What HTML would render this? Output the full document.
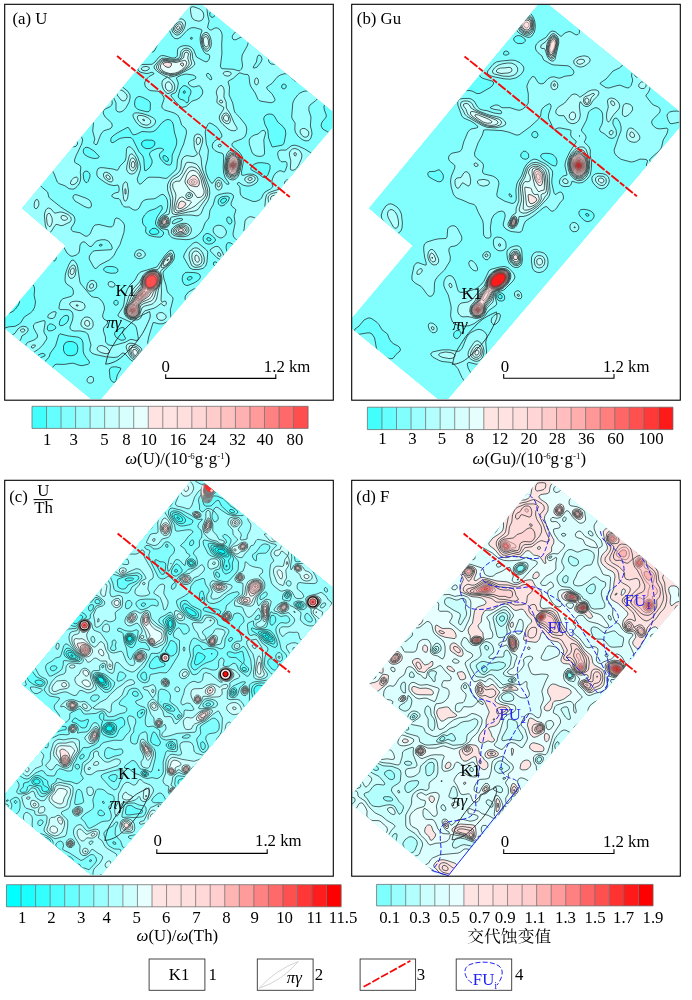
<!DOCTYPE html><html><head><meta charset="utf-8"><title>fig</title><style>html,body{margin:0;padding:0;background:#fff}svg{display:block}text{font-family:"Liberation Serif","Noto Serif CJK SC",serif;font-size:16px}</style></head><body>
<svg width="692" height="1000" viewBox="0 0 692 1000">
<rect width="692" height="1000" fill="#fff"/>
<defs><clipPath id="cf"><rect x="5.3" y="4.9" width="326.8" height="393.9"/></clipPath>
<clipPath id="cp" clip-path="url(#cf)"><polygon points="195.4,-0.4 340.4,118.1 96.9,403.7 -0.15,324.4 65.9,245.8 22.2,208.2"/></clipPath></defs>
<g transform="translate(0,0)">
<g clip-path="url(#cp)"><g transform="scale(0.1)" stroke="#263232" stroke-width="8" stroke-linejoin="round">
<rect x="-200" y="-200" width="4000" height="4500" fill="#42fffe" stroke="none"/>
<path fill="#64fffe" fill-rule="evenodd" d="M-120-120l2920 0-7 30-23 43-6 27 4 20 12 16 30 8 70-21 100-63 28-30 9-30 493 0 0 4280 0 30-63 0-7-12-20-10-20 7-8 15-1767 0-2-70-13-19-20-6-20 7-40 37-20 8-80-23-30 0-30 6-20 10-9 10-8 40-1453 0zM150 2990l-30 17-69 23-22 20-11 30 3 20 19 21 25 9 35-2 30-14 25-24 29-40 12-30-4-30-12-10zM260 659l-11 21 1 30 10 14 10 5 20-7 11-22-3-30-18-17zM630 515l-7 15 7 12 20 8 20-10 1-10-11-14-20-5zM800 359l-15 11-6 30 11 90 10 20 10 4 10-5 10-22 0-79-10-41-10-8zM1190 4029l-20 12-12 19 1 20 10 20 31 33 20 11 20 1 19-5 21-12 12-18-1-20-11-20-20-20-30-19-20-5zM1460 1400l-20 5-20 15-4 10 1 20 14 20 19 12 20 5 30-3 20-8 19-16 10-20-2-20-8-10-19-8zM1640 1556l-10 5 0 22 20 25 20 7 10-4 5-11-5-20-20-20zM1840 908l-9 12 3 10 6 4 10-3 4-11-4-10zM1890 2767l-17 13-1 10 8 11 21-1 14-10 7-10-2-9-10-5zM2070 2380l-2 10 3 10 18 10 11-1 11-9-1-10-10-10-20-5zM2220 1989l-11 11-3 20 14 13 20-5 21-18 5-20-16-9zM2700 77l-100 40-70-1-16 4-6 10 2 10 10 8 74 2 96 36 20 2 20-7 22-31 8-30-1-20-9-18-10-6zM670 3419l-20 12-15 29 0 40 11 30 14 15 20 10 30 3 30-6 21-12 12-20 6-40-7-30-16-20-26-12-30-4zM1520 2286l-24 24 2 20 14 10 18 5 40-4 16-11 4-10-10-20-30-18zM2740 3759l-11 11-3 10 5 20 19 17 20-11 18-26 0-20-18-7z"/>
<path fill="#80fffe" fill-rule="evenodd" d="M-21-120l428 0 9 20 24 6 60-13 17-13 173 0-10 18-10 7-90 25-6 10 1 10 35 68 23 62 17 23 40 19 70 8 20-1 16-9 18-40 26-20 100-11 20-8 13-11 11-20 2-20-13-60 0-50 1457 0 5 40 15 40-1 10-77 70-7 30 10 50 57 90 18 18 30 8 70 2 20 10 30 33 20 11 60-25 60-13 30-17 19-27 36-70 33-40 39-30 113-69 20-18 30-53 13-50 437 0 0 896-18 4-12 9-6 21 6 14 30 2 0 265-80 12-10-3-10-88-10-20-20-15-30 4-80 39-22 20-9 30 5 30 19 50-1 20-41 50-10 30 4 20 13 20 51 30 41 12 70 5 80 33 40 6 0 711-30 14-14 19-5 20 3 20 10 20 16 20 20 11 0 139-40-4-30-16-6-10-15-80-15-20-14-7-80 2-70-6-70 5-60-6-60 1-100-16-30 4-20 9-30 31-9 33 16 60 41 80 1 20-13 50 0 20 4 10 50 24 20 20 21 36 5 20-3 20-29 50-34 21-30 2-80-15-30 8-19 24-14 40 11 20 32 29 26 31 34 62 20 13 10-3 6-12-2-40 16-39 30-24 18 3 7 20-16 80 6 20 35 21 40 7 30-18 27-40 29-120 19-40 19-20 53-40 12-20 1-20-25-80 5-20 12-10 28-11 30-5 30 3 20 7 64 46 56 69 30 14 30 4 0 689-30 6-34 18-39 50-17 15-60 13-60 52-50 14-40 17-30 7-40-2-50-18-30-5-40 4-50 13-60 35-70 32-47 53-23 18-99 32-13 10-13 20-4 30 6 20 19 20 44 29 22 31 12 40 1 60 5 10 30 14 30 1 20-13 40-63 60-47 13-32 17-80 20-9 70 6 30-2 30-10 20-16 11-29-10-30-21-20-42-20-5-10 4-20 13-15 20-9 30 2 110 30 20 8 50 33 20 2 90-43 60-64 30-11 30-4 0 569-60-16-20-1-70 24-23 15-16 20-13 30-7 40-899 0-12-110-10-17-20 6-75 51-25 32-14 38-188 0-2-70-14-30-33-50-19-23-20-14-50-11-20 7-1 11 44 90 4 30-2 60-281 0 10-90-10-30-24-28-30-16-40-8-110 20-40 1-30-6-34-23-39-40-7-20 3-50-3-10-20-12-40-4-40 4-20 8-137 154-6 20 6 30 51 60 12 20 4 20-494 0-6-11-10-2-11 13-306 0-5-20-8-11-10-4-20 4-10 8-10 23-350 0 0-1038 70 6 39 22 21 30 9 50 11 16 20 3 40-11 60-5 44-23 18-20 30-50 62-40 22-20 21-40 8-50-14-70 5-50-3-30-11-20-12-8-30-4-66 12-104 32-30-3-60-24-20-1-30 9-30 17-16 20 0 20 16 50-5 30-7 10-18 12-40 7 0-652 30-12 14-15 9-20 28-110 3-100-4-25-9-15-39-30-3-10 7-50-6-26-10-11-20-7 0-689 50-5 50-16 35-16 11-10 3-10-5-20-21-40-13-20-20-19-30-3-60 14 0-1122 40-14 34-26 18-30zM210 516l-20 14-8 20 2 20 20 60-7 70 1 30 12 29 27 31 10 20 16 70 30 90 1 30-9 30-18 20-81 40-26 30-16 80 1 30 13 60-3 20-10 10-15 2-40-27-10-2-10 7-4 10-4 40 6 20 12 16 60 37 40 41 25 46 21 70 74 44 40 35 20 14 20 5 30-12 79-96 9-30-30-70 2-63-10-23-90-47-70 4-14-11 10-110 29-80-1-60 8-50 0-50 38-78 10-32 0-90 9-50-4-10-45-41-30-45-37-34 3-60-6-16-10-8-20-4zM630 258l-40 12-30 18-23 32-17 62-9 18-21 14-50 15-30 16-60 55-8 20 6 10 21 10 61 3 40 11 50 36 60 34 100 36 30-4 59-36 24 0 27 19 9 21 0 20-16 50 3 10 44 32 40 38 10-2 9-8 9-20 4-100-9-30-36-70-9-70-18-80-5-90-13-20-12-8-60-16-70-35-30-7zM1010 2440l-18 10 6 10 12 1 14-11zM1060 2669l-18 11-5 10 0 10 13 15 20 9 40 9 48-3 16-10 6-10-4-20-9-10-21-10-26-5-30-1zM1190 89l-16 11-12 20-2 20 4 10 11 10 15 4 32-4 26-10 11-10-2-20-16-20-16-10-15-4zM1380 967l-20 14-10 23-5 36 7 30 22 20 21 10 75 18 20-3 12-15 2-60-4-20-21-20-49-25-30-10zM1540 404l-13 16-20 80 8 20 18 0 17-21 27-59 1-10-16-20zM1660 1199l-40 27-60 73-30 17-30 4-80-5-60 29-20 4-10-2-10-9-30-55-10-8-10 2-99 54-42 30-18 20-4 30 4 10 9 7 20-5 40-28 30-13 50-7 50 2 20 21 60 120 38 43 10 30 8 110 4 9 20-10 32-29 19-40-1-30-24-50 1-20 19-20 44-21 30-7 20 0 22 8 6 10-28 22-14 18-2 20 12 30 34 39 30 19 30 3 12-11 8-30 2-60 39-90 6-30 0-30-23-80-10-70-11-30-23-21-20-4zM1830 859l-30 32-19 69 8 20 11 11 40 12 20 22 10 4 10-7 6-12 2-40 18-30 4-30-10-20-30-24-20-10zM1910 374l-6 6 1 10 15 2 4-12-4-7zM2060 2337l-17 13-11 20-2 20 6 20 14 18 20 11 20 3 30-6 30-22 5-14-3-10-16-20-36-27-20-8zM2110 110l-13 20 3 27 10 12 10 5 16-4 16-20 0-30-12-14-10-4zM2220 1967l-22 13-14 20-3 20 4 20 15 16 10 3 20-2 20-11 33-36 11-30-4-10-20-9zM2580 1628l-30 10-19 12-19 20-4 20 6 10 66 35 50 38 20 3 10-5 20-24 20-57 0-36-10-13-20-7-50-7zM2690 1140l-20 5-20 13-8 12-5 20 11 50 30 60 8 80 34 87 10 2 60-11 36-8 15-20 17-90-4-40-24-35-52-45-38-64-20-13zM2820 449l-15 11-3 20 8 10 20 3 10-8 4-15-4-12-10-8zM3450 848l-30 12-34 20-4 10 3 10 9 10 16 7 43-7 23-20 1-10-7-23-10-9zM2780 2970l-40 19-64 41-16 24-1 16 5 10 16 13 20 3 20-8 30-28 20-11 50 4 9 7 0 10-32 50-3 20 6 20 20 8 50-1 30 15 10 11 6 17-5 50 4 20 25 7 20-6 14-11 12-20 5-20-9-50 11-70-5-30-8-12-20-12-100-20-6-6-14-48-11-12-19-4zM400 1126l-20 14-11 20-6 40 4 40 13 18 10 3 41-11 49-30 6-10 2-20-13-30-25-25-30-11zM500 3239l-10 5-13 16-5 30 8 14 10 5 30-2 31-17 7-10 0-10-20-20-21-10zM540 2550l-10 10-6 30 6 15 14 5 6-2 10-16 2-22-10-20zM640 1224l-6 6 6 20 20 13 18-3 2-10-10-16-20-11zM850 1476l-13 14-5 20 4 20 15 20 29 17 40 14 30 4 30-4 13-11-5-10-48-50-50-31-20-6zM1120 3670l-17 10-10 20 7 80 10 24 20 18 20 0 10-17 13-55 35-60-1-10-47-12zM1150 3004l-12 16 1 20 11 11 20 0 11-11-1-27-10-10zM1210 3277l-50 30-10 13-5 20 7 20 16 20 42 22 33-2 10-10 1-10-28-50-1-10 18-30-1-10-12-5zM1600 2058l-50 31-50 16-20 11-35 34-21 40 2 40 11 20 20 20 3 10-5 30 6 20 29 23 50 14 60 5 20-9 15-23 0-20-61-50-19-30 2-30 14-40 52-80-3-28-10-6zM1700 3279l-28 11-21 20-24 40-2 20 5 10 20 11 10-1 40-28 30 1 10 7 13 20 6 40 1 10 10 13 30-12 25-21 13-30-9-40-16-30-23-20-58-20zM1850 2728l-20 22-8 30 2 30 16 32 20 12 20 0 70-29 36-25 15-20 3-20-13-20-21-9-30-5-70-3zM2140 2619l-7 11 3 20 14 9 20-4 7-5 2-10-6-10-13-10zM2280 2169l-12 11 0 30 22 30 15 0 15-20-3-20-17-26zM2840 839l-20 10-5 21 5 11 20 9 18-10 5-20-4-10zM640 3159l-32 31-10 20-6 30 8 16 20 0 17-6 33-25 13-25 4-20-5-20-12-8zM850 1713l-10 8-8 19 5 50 13 27 10 8 10 1 10-10 19-46 1-30-20-25-20-4zM1720 3537l-20 26-20 42-10 35 0 30 10 22 30 26 20 7 20-5 54-60 9-20 1-20-13-30-31-33-30-23-10-1zM2280 2428l-10 7-7 15-2 30 9 33 33 47 2 20-11 20-46 50-11 20-5 40 2 100-8 20-28 40-6 40 7 60 21 28 20 7 20-3 15-12 12-20 7-40-5-70 90-110 21-60 42-60 6-30-16-30-49-40-23-50-20-25-30-24-20-5zM600 3338l-12 12-33 110-51 70-14 41-90 100-10 7-10-1-10-7-9-20 2-30 9-20 18-17 58-23 4-10-6-10-16-6-20 3-60 30-80 4-20 9-8 10-16 50-1 30 4 20 19 30 65 60 17 10 20 1 70-20 80-59 40-57 20-13 80 2 90-13 60 21 30 5 60-14 16-13-6-20-30-36-21-34-7-30-2-80-10-30-10-14-30-15-100-12zM2230 3840l-18 20-10 30 4 40 11 30 13-1 50-26 20-2 70 38 20-3 23-26 9-30-2-11-10-14-30-9-60 3-20-10-40-34-10-2zM2310 3385l-10 8-8 17 1 20 7 16 10 12 20 11 20-2 12-7 26-30-4-20-24-18-20-8zM2300 3596l-30 34-7 20 3 20 14 16 10-1 10-9 10-25 1-51zM2599-120l100 0-9 30-30 44-30 25-45 21-25 3-18-3-43-20-9-10 8-10 62-8 20-11 12-21zM3390 1130l10 1 0 13-10 26-10 9-10 0-10-9 0-10 10-15zM3440 1230l10-5 20 1 18 4 12 10-20 10-20 1-20-11zM360 1460l10-6 20-2 17 8 15 20 3 20-4 30-10 30-11 16-20 7-20-7-15-16-9-20 0-40 8-20zM3098 2300l12-1 15 11 4 10-9 12-20 3-10-7-2-18zM3356 2320l25 0 32 10 10 10 1 20-12 20-19 10-53 8-50-11-24-17-4-10 8-10 18-10z"/>
<path fill="#9afffe" fill-rule="evenodd" d="M87-120l200 0 11 90 11 30 9 10 22 7 60-4 35 7 32 20 36 40 8 20-3 30-74 150-94 72-10 1-10-12-11-81-13-20-16-10-70-5-50-17-30-4-31 6-19 9-28 31-12 7-20 3-20-13-7-27-1-30 25-80 27-20 69-10 22-10 7-10 2-10-9-20-41-40-11-20-3-30zM1044-120l764 0 8 40 15 20 19 7 70 4 70 29 12 10 68 101 6 59 15 60-15 60 2 10 22 19 10 2 40-21 20-2 30 19 18 33 4 30-5 80 2 100-15 120 6 19 10 8 110 5 60 17 10-3 15-16 11-30-9-70 5-40 50-90 10-30 1-20-11-20-42-21-20 1-50 27-20 1-10-6-7-12 0-20 17-27 70-46 30-13 50-8 40 1 20 12 8 11 4 30-14 40 1 20 61 38 30 34 10 6 30 4 20 16 7 22 0 30-22 70 5 21 20 19 70 7 70 47 20 3 111-67 12-20 9-40 8-11 20-11 30-4 20 4 70 30 20 15 14 27-11 60 1 30 23 80 14 20 71 70 15 30 1 20-8 20-20 16-20 4-40-3-20 6-38 37-52 40-10 17-2 33 22 70-6 90 13 50 3 30-11 40-9 14-20 14-30 0-30-13-41-35-26-40-5-30 3-60-27-40-7-20 10-130 4-20 15-30 31-40 23-21 40-16 90-12 17-11 27-80-2-10-8-10-54-36-30-7-20 12-50 51-20 9-20 0-30-15-50-52-20-13-20-3-50 15-30 22-50 61-53 36 4 20 51 50 27 50 1 11-10 16-30 11-100-16-20-8-10-10-28-64-47-70-8-30-7-68-10-15-40-5-40-13-10 2-60 54-45 25-4 10 14 50-4 80 36 80 16 80 11 20 36 36 60 74 11 20 7 30-7 50-15 30-30 20-78 30-13 10-7 20 14 20 59 50 22 30 15 30 5 40-18 100 2 30 13 4 50-13 50 1 36 18 14 30-3 20-16 20-31 19-30 10-30 2-30-7-20-8-30-23-14 7-4 10 20 20 8 18 2 52 6 20 12 16 23 14 87 35 30-1 40-17 15-17 19-40 16-20 54-30 23-20 1-10-9-30 2-30 15-40 21-30 33-21 20-1 30 13 10-7 20-54 0-30-10-14-40 2-10-3-15-15-13-30-5-30 3-20 10-13 20-6 50 0 50-41 20-7 20-1 40 12 57 26 63 39 44-19 76-22 60-50 30-14 40 0 80 19 70 2 0 188-30 4-28 13-15 20-5 20 5 30 15 20 28 15 30 2 0 111-20-10-50-39-20-2-10 4-13 19 2 20 11 22 52 48 14 20-3 30-39 60-34 27-60 26-40 23-20 5-20-9-50-46-60-28-20-6-60 0-60-9-30 2-20 13-37 72-125 110-22 30-15 30-10 40 3 30 52 70 14 40-2 60-9 40-19 18-60 25-50 39-30 7-55-19-35-28-15-32-23-90-22-34-30-17-80-15-30-18-22-26-7-20 0-20 20-100-10-70 18-60-6-10-33-26-9-14 0-20 25-60-5-20-21-15-30-5-40 3-50 13-28 14-11 20-20 70-31 51-11 79-39 50-22 60-18 30-30 32-40 27-40 14-40 4-100-8-40-13-28-26-12-52-60-11-20-11-15-16-9-30 11-40 23-31 51-39 13-40 4-40-5-40-13-28-20-23-10-5-20 3-49 33-21 8-70 5-30 10-20 17-30 61-20 16-20 5-20-6-40-27-30 2-20-5-16-16-24-52-10-11-40-4-25-13-7-10 2-10 11-10 29-14 20-2 10-8 1-36-5-20-6-10-40 6-50-10-40-22-61-44-17-20-4-20 2-30 10-23 20-10 30 0 100 13 40 13 10-5 20-38 50-50 10-33 5-87 13-20 12-3 20 7 30 34 36 62 22 60 7 40-2 30-31 90 7 30 11 16 10 5 10-2 60-58 20-9 100 1 60 11 20-2 78-72 15-20 6-20 5-70 36-100 27-60 26-100 2-20-5-26-10-14-34-30-21-70-20-30-35-21-93-29-25-20-4-10 2-20 21-60-3-20-18-25-20-21-20-12-70-5-20-7-25-20-14-20-5-30 14-32 30-33 49-25-2-10-17-8-40 12-20 1-50-11-20-12-9-12-2-10 5-20 16-16 20-9 100-2 30-23 40-49 20-14 30-1 80 24 22 0 18-6 13-14 2-60 9-20 26-16 30-8 40 2 20 6 20 14 17 22 28 70 85 47 20 0 10-8 12-19 6-30-8-14-30-8-20-17-25-51-10-40-4-40 4-40 14-40 0-10-9-6-60-17-30 0-20 6-30 21-60 65-30 18-30-1-30-27-23-49-5-30 17-100 33-90-2-25-14-15-54-10-42 1-20 9-30 25-20 7-20-12-40-44-20-4-120 8-90 31-80 0-30 15-18 24-11 30 4 30 15 22 20 16 20 6 40-5 20 3 16 8 7 10 0 20-7 10-54 30-5 10 1 20 12 23 20 20 30 15 51 12 17 10 7 10 4 20-5 20-36 60-5 20 7 13 31 27 0 10-45 90-16 19-20 3-90-8-30 2-17 14-23 62-10 5-20-6-20-18-12-23-2-40 8-50-8-30-46-49-74-91-11-20-4-20 7-70-11-90 5-50 15-40 14-20 19-14 61-26 19-19 11-21 11-50zM2580 555l-7 15-9 50-32 50 3 10 5 1 30-9 40-52 11-30-12-30-19-9zM3120 1610l-51 40-49 32-85 68-5 10 4 10 25 20 61 39 30 11 30-5 50-33 20-7 60 10 40-7 90-31 14-17 1-20-20-30-25-12-20 0-60 12-20-3-18-17-32-59-20-15zM1770 2188l-30 12-16 20-2 10 8 10 30-11 65-29 0-10-15-6zM1860 740l-43 10-43 20-10 10 19 50-8 50-15 40-10 9-31 11-9 10 0 10 50 63 40 39 20 12 40-9 40-34 20-20 50-16 30-20 25-35 3-30-18-37-20-16-50 13-20-4-27-16-10-20 5-10 22-15 39-15 10-10-1-10-8-10-20-10zM2070 736l-6 14 6 15 20 22 20 13 9-10-10-30-19-23-10-4zM2100 1230l-10 2-10 10-20 44-8 34 11 120 18 50 3 20-9 80-20 80 5 54 20 55 30 48 10 6 10-5 30-42 20-12 10-1 31 17 39 47 20 7 10-4-1-10-36-50-17-50-4-60 5-100-6-30-11-8-40-10-30-16-24-26-4-20 4-20 11-20 23-20 50-23 8-7 1-20-19-38-30-39-40-29zM2025-120l121 0-9 30-27 31-40 24-20 6-20-2-9-9-2-10zM3120-110l0-10 390 0 0 167-50-29-20-1-20 21-6 32 11 30 25 15 20-2 40-19 0 502-60-9-30-14-67-133-23-66-20-41-20-26-30-16-20 5-10 8-30 57-10 11-50 14-50 20-10 0-20-10-48-56-22-14-30 1-40 22-30 6-40-9-34-26-1-30 35-83 20-29 53-58 47-32 102-28 49-20 14-10 6-20-22-60zM1569 320l21 0 26 20 7 20-3 12-9 8-21-1-24-19-8-20 1-10zM-91 370l51 0 80 24 60-16 20 0 50 22 17 20-4 10-43 37-15 33-4 40 10 90-5 30-16 40-20 38-32 42-60 60-33 90-30 40-25 50-12 10-18 6 0-664zM475 650l25-9 20 3 8 6 6 20-14 25-10 6-20 2-20-13-7-20zM489 780l21-4 11 4 39 48 50 39 17 33-2 30-35 96-20 18-20 2-40-6-30-12-24-18-16-30 7-30 42-40 11-20 0-20-28-50 1-20zM1164 850l26-1 30 17 60 49 20 35 1 30-11 43-30 54-30 32-20 9-20 3-20-8-10-13 0-71-36-79-9-40 15-34zM878 880l12-6 20 2 40 33 50-9 20 3 20 13 48 44 30 40 5 30-5 20-18 17-50 24-11 9-7 20 3 20 17 30 65 60 6 30-12 20-11 8-60 19-20 18-15 25-35 92-10 4-10-2-13-14 11-40-21-80 7-70-2-20-71-110-12-30 4-50 26-80-9-50zM123 920l17-6 20 1 20 9 20 17 13 19 5 20-6 20-12 11-20 7-30 1-20-7-10-10-11-22-3-30 7-20zM1347 1130l33-2 50 9 60 20 45 23 18 20 3 20-9 20-19 20-28 15-40 4-40-10-30-16-30-33-28-50-2-27zM2615 1310l15-6 10 1 10 8 6 17-18 70 8 120-2 20-5 10-19 12-30 2-30-6-29-18-12-20-26-80-1-40 10-20 18-16 24-14 36-10zM762 1340l18 1 21 9 15 20 11 30-10 40-58 120-14 40 2 20 8 10 39 20 15 20-6 50 4 60-4 30-13 30-20 26-20 18-20 8-40-5-40-29-30-11-30-11-17-16-31-80-34-60 2-30 10-20 20-21 50-36 9-13-4-30-41-50-8-30 14-23 40-29 120-49zM-11 1510l21 0 75 20 20 10 9 10 5 30-26 80-2 20 12 30 28 30 55 30 94 29 40 1 40-22 20 1 10 7 10 21 0 43 16 20 60 50 12 50 7 10 112 90 123 80 14 20 6 30-7 30-32 50 2 20 17 15 70 13 50 32 20 3 30-23 31-70 19-20 40-5 100 24 30-1 16-18 14-60 10-11 30 8 38 33 12 20 6 20-6 62-40 123-39 65-19 40-25 30-25 20-92 48-40 37-10-1-10-7-48-87 2-30 21-30 15-17 20-6 160-10 10-7 3-10-9-30-30-40-34-13-40 1-40 10-18 12-32 40-10 6-20-5-40-40-20-3-20 14-10 18-6 60-6 20-28 22-40 12-20-8-30-26-50-92-20-22-20-11-20-1-10 4-40 30-20 8-20-1-40-17-30 2-22 20-7 30 5 30 19 50-9 70-10 30-41 80-35 29-40 14-140 24-30-9-22-28-9-30 2-20 21-60-27-110 4-60 14-80-13-19-41-21-12-20-5-30 8-35 37-65 6-20-1-100 10-70 6-90 23-100-1-40-23-50-17-20-20-12-40-3-60 15-50-3 0-119 30-5 20-12 16-21 24-46zM230 2329l-4 21 12 20 22 11 20-5 10-11 3-15-13-20-30-8zM207 1640l13-6 20-1 40 15 33 32-1 20-12 7-20 0-50-20-24-17-6-10 0-10zM741 1950l9-4 20 3 90 33 33 18 15 20 7 30-5 20-19 10-21-4-30-13-90-53-21-30 3-20zM2153 2260l27-8 30 3 20 10 20 19 13 26 1 20-9 20-20 20-15 8-20 1-30-16-24-23-12-20-3-20 4-20zM1933 2430l27-9 20 8 85 71 13 20-8 100-13 40-27 24-50 12-50-1-32-15-63-110 9-30 29-50zM2142 2470l18-6 20 1 20 17 24 38 11 30-1 30-14 14-20 1-30-17-67-68-1-10 8-10zM1379 2500l21-4 20 6 20 14 10 14 4 20-5 10-24 20-25 7-20-1-28-16-7-20 4-20 11-18zM1690 2510l20-8 10 2 10 8 15 38-2 30-7 20-20 30-78 80-9 20 11 60 20 60 11 60 11 20 43 40 6 20-28 110 6 80-4 10-19 20-56 27-40 2-50-14-10 2-43 143-10 50 5 30 18 24 20 12 51 14 17 20 2 40-18 70-6 50-2 40 6 28 20 15 40 6 25 11 18 20 18 40 2 20-8 20-45 36-16 34-14 8-30-2-100-47-8-19 1-20 24-60-17-17-20-4-20 1-80 28-40 6-50-8-20-12-11-14-2-30 6-10 17-13 50-12 120-10 31-15 15-20 4-30-11-40-19-25-20 1-50 27-30 4-20-4-23-13-57-62-20-9-10 4-40 35-40 7-80-7-100-21-30-10-20-13-10-14-1-20 11-40-31-110-27-20-52-11-60 1-20-6-18-14-3-20 26-70 5-30-1-30-9-21-20-16-20-6-80-2-7-5-4-10 9-50 15-30 17-13 80-23 18-14 5-10 1-30-10-30-57-40-13-20-4-20 3-50 10-40 24-60 23-40 10-9 20 2 28 37 9 30 22 150 10 20 101 121 20 10 50 6 30 24 21 29 11 30 3 30-18 60 0 20 13 22 30 16 7 12-6 20-28 30-10 20 2 20 19 60 2 50 14 18 19 12 41 7 120-33 50-28 20-1 40 10 21-5 2-20-16-90-6-20-13-20-44-30-110-50-13-10-2-10 51-80 9-30 10-80 26-70 25-40 50-50 32-60 28-22 158-48 84-120zM3269 2750l11-5 20 0 18 15 20 80 12 19 10 6 50 11 100-4 0 245-30-3-60-22-20 5-20 21-30 34-20 4-30-7-25-19-45-61-60-31-20-36-2-32 12-39 45-91 45-71zM899 2810l21-7 20 4 16 13 11 20 0 30-14 20-23 17-30 6-20-7-7-6-7-20 8-40 13-20zM2406 2810l24-1 40 8 50 19 20 14 10 20 2 60 6 20 56 60 2 20-10 70-12 20-30 30-10 20-10 20-14 9-30-6-20-17-36-66-30-90-35-60-13-50 0-50 14-34zM1089 2820l21-5 20 7 20 18-1 20-19 11-30-3-18-18 0-20zM1937 2890l43-6 19 6 7 10 0 20-21 100-1 20 8 20 18 15 70 27 40 25 48 43 25 40 4 20-1 50 7 40-7 30-14 20-22 13-30 3-30-6-70-15-80-4-30-13-22-28-28-78-31-52 3-20 38-70 8-30-8-30-30-50 3-30 32-40zM2237 3090l13-5 30 5 30 16 29 24 24 30 8 20 0 20-11 9-20 0-40-13-42-26-17-20-10-20-3-20zM3148 3110l12-7 10 2 18 25-10 110-60 140-18 22-20 7-20-3-20-19-7-27 4-40 33-111 20-28 31-31zM527 3120l23-4 9 4 3 10-15 40-10 10-17 6-36-6-7-10 6-20 9-10zM2632 3140l18-4 20 4 25 20 7 20-1 20-4 20-19 40 2 10 40 42 20 28 28 70 33 50 3 20-4 10-20 12-70 8-31 10-19 18-17 32-16 20-36 20-76 30-14 10-13 20-8 24-20 31-30 14-10-3-10-15-7-41 5-70 26-80 27-40 57-50 13-30-4-20-11-20-64-60-5-10 2-10 21-7 50-5 30-15 63-103zM-120 3210l0-4 10 1 20 11 4 12-4 11-10 9-20 6zM420 3210l20-4 10 4 1 20-13 80 5 20 25 40 0 20-40 60-41 40-47 32-20 6-20-2-20-10-17-26-6-30 4-20 19-17 60-23 28-20 6-10 1-20-39-70-2-30 22-20zM205 3270l25-8 30 5 17 13 4 10-1 20-20 24-42 26-8 30-13 20-73 40-14 2-20-4-47-38 5-10 25-20 77-47 29-43zM-17 3400l30 0 17 10-18 80-1 110 12 40 45 60-8 12-70 12-31 16-38 40-8 20-1 20 8 17 10 8 90 25 30 18 51 42 11 20 3 20-5 86 40 35 12 29-4 70-255 0-6-20-17-16 0-725 30-5zM1706 3400l4-4 10 4 2 10-12 6-5-6zM1916 3470l14-5 20 2 19 13 8 20-8 40-29 46-10 6-20-6-20-25-9-21-1-20 7-20 13-18zM3489 3580l21-6 0 440-140-31-30-8-7-5-1-10 12-40 46-64 15-36-1-40-31-70 0-20 18-30zM3163 3750l37-7 30 5 70 34 10 10 6 18-6 22-20 13-20 1-30-8-20 2-20 17-20 31-20 29-10 5-20-2-20-18-35-42-12-20-5-20 7-20 11-10zM889 3770l21-7 17 7 7 10 1 30-5 10-16 10-26 0-18-16 2-24zM2068 3770l8 0 4 11-20 3-5-4zM536 3780l14-6 20 5 64 41 22 20 1 20-16 30-36 40-12 20-11 50-24 60-27 130-71 0-87 0 7-70-4-20-28-60-1-20 12-30zM1979 3800l41-9 10 1 7 8-17 51-20 23-20 3-20-6-19-11-5-10 0-10 14-20zM2633 3840l27 0 13 10 10 20-3 30-10 11-21 9-29 0-18-10-6-10 0-20 10-20zM2908 4000l16 0 10 10 4 60 22 31 60 31 100 27 14 11 10 20-266 0-8-21-20-7-15 8-10 20-105 0-225 0 2-30 8-20 56-60 16-60 13-5 10 2 60 30 20 5 120 10 41-12zM1739 4010l11-6 10 1 20 12 54 43 23 30 7 20-1 30-13 50-10 0-132 0 17-80 6-80zM795 4100l15-7 20-1 110 23 23 15 23 30 10 30-16 0-207 0 4-60z"/>
<path fill="#b2fffe" fill-rule="evenodd" d="M1139-120l616 0-4 40-11 22-30 17-40 1-50-1-50 19-30-35-30-6-30 7-50 21-70 10-80 24-30 0-30-12-61-47-14-20zM3169-120l341 0 0 81-30-11-80-46-60-12-30 8-60 41-20 5-20-2-20-11-10-11zM1912 70l18-3 40 12 30 13 23 18 11 20 4 30-4 20-14 21-20 9-20 1-30-8-20-13-13-20-9-40-4-40zM78 130l20 0 3 10-11 6-10-3zM1792 190l28-1 20 11 14 20 1 20-10 40-16 30-19 23-30 18-20-2-26-19-12-20-5-30 5-20 18-29 30-30zM3478 220l32-8 0 308-33-10-27-29-13-31-18-70-39-67-9-33 5-20 14-13zM979 230l11-4 20 5 20 14 13 15 3 30-21 40-15 13-10 2-20-12-10-17-9-46 8-30zM2494 290l26 6 7 14-11 20-26 10-20-4-10-6-5-10 2-10 9-10zM2876 290l14 0 5 10 0 10-15 10-14-10 1-10zM2041 330l19-7 20 8 19 29 12 40 3 40-6 30-9 20-19 20-20 2-16-12-14-23-12-37-5-40 3-30 8-20zM-120 470l21 0 16 10-1 10-14 20-22 12zM1831 490l19-7 20-1 20 6 20 16 12 26 6 60 20 40-3 20-34 30-121 66-50 18-50 7-7 9 27 16 28 34 10 30-2 30-9 20-37 20-20 6-20-9-28-37-10-30-3-30 5-20 16-20 38-20-18-4-40-21-53-35-26-30 2-20 47-55 30-22 30-1 90 12 30-4 20-10 10-16 10-51zM1428 670l32-6 26 6 8 10-3 10-10 10-31 9-30-8-7-11 2-10zM2969 690l31 4 10 7 13 19 2 20-5 20-20 24-20 4-10-2-18-16-10-20-3-20 5-20 7-10zM2243 720l27-6 32 6 10 10 0 10-12 14-20 8-30-6-17-16-1-10zM2563 780l8 0 13 20-1 30-13 19-10-1-9-8-6-20 5-29zM2197 860l13-5 10 2 17 23 5 30-3 60 22 50 3 60 39 60 37 88 31 52-1 13-10 10-20 5-30-3-30-16-50-44-22-25-14-30-1-20 6-20 33-50 6-20-3-10-52-30-15-20 6-50-11-40 2-20 14-30zM3225 890l15-1 10 8 6 13-4 10-12 0-10-9zM1192 900l18 1 20 8 34 31 7 20-1 17-10 19-10 9-20 5-20-10-38-50-6-30 6-10zM969 950l21-7 30 2 20 9 20 18 12 18 3 20-12 20-22 10-61 6-20-5-16-11-8-20 2-20 9-20zM1377 1160l13-6 30 1 30 9 32 16 18 16 8 14-3 20-9 10-16 9-20 3-41-12-19-15-19-25-8-20zM3013 1290l17-6 20 2 30 21 7 13 1 20-8 20-10 8-10 4-20-2-25-20-15-30 3-20zM1952 1350l18-10 20 2 20 13 16 25 0 40-36 110 21 50 7 80 9 40 67 180 4 50-8 50-13 30-39 60-25 60-17 20-26 9-60-9-80 0-111 20-9 3-3 7-11 60-16 26-30 13-30-3-22-16-10-30 7-30 21-30 24-16 40-8 10-6 3-10 12-80 1-40-6-37-24-73-1-50 12-30 23-37 20-18 40-25 27-30 12-30 6-70 8-20 17-23 30-12 50 10 20-1 25-14 7-10 0-10-22-36-8-34-3-70 3-20zM716 1400l14-5 20 0 21 15 5 30-16 23-30 6-20-7-13-12-5-10 3-20zM2182 1450l18-9 10 5 4 4-4 14-10 6-10 0-9-10zM2924 1490l26-5 30 10 20 15 17 30 2 20-6 30-27 60-19 30-17 15-20 8-20-3-7-10 5-80-14-60 0-20 8-20zM2288 1510l32-9 40 14 34 35 18 40 4 40-12 70-20 60-24 28-30 12-30-5-28-25-20-40-7-60 7-70 15-60zM3484 1530l26-7 0 39-34-12-3-10zM1307 1540l13-1 10 6 20 22 17 33 11 40 0 30-8 30-20 28-20 11-20 1-20-7-18-23-6-20 2-30 22-91 7-19zM1040 1730l10-7 20 0 30 16 24 31 6 31-10 16-10 3-20-4-27-16-19-20-9-20 0-20zM2480 1760l30-4 20 3 16 11 6 10-2 17-8 13-32 18-20 2-20-5-23-25 3-20zM736 1780l24-10 10 2 10 12-3 26-25 30-32 9-13-9-3-10 11-30zM2188 1800l12 4 10 10 12 36-6 30-7 10-17 10-12 0-16-10-12-30 8-40 10-14zM2866 1800l34-4 48 24 16 20-4 11-20 7-60 6-23-4-9-10-4-20 9-20zM1252 1820l8-2 12 12 13 80-7 60-8 24-11 16-9 3-4-3-10-20-11-100 5-41 10-19zM2797 1890l43-8 10 2 20 18 13 28 2 40 25 35 3 25-5 30-14 30-14 14-20 10-20 2-19-6-31-38-10-2-80 23-20 1-20-6-11-28 6-70 10-40 15-17 30-15zM3307 1920l23 3 30 19 20 25 10 23 0 20-10 15-20 11-30 1-30-8-30-19-20-20-10-20 2-20 8-11 20-12zM356 2000l14-6 10 7 8 19 1 30-16 30-13 7-10-4-8-13 1-40zM486 2080l24 9 30 37 10 6 50-12 30 3 50 22 27 25 6 30-13 20-70 34-20 3-40-13-10 1-10 9-40 64-20 10-10-5-12-23-15-50-9-90 3-30 11-30 12-14zM173 2100l27-5 30 8 19 17 21 41 70 32 10 13 4 14-7 20-17 16-40 11-20-3-20-13-24-51-46-25-21-25-6-30 5-10zM2489 2170l21-3 30 8 30 18 25 27 7 20 0 20-27 40-5 20 20 47 20 32 70 40 60-14 19 5 10 10 1 25-16 25-10 40-14 21-40 29-40 11-30-7-30-27-37-87-53-100-20-26-41-34 11-100 12-20zM1795 2240l45-8 30 5 22 13 20 30 2 30-13 30-21 17-40 10-50-1-40-7-20-10-17-19 2-30 12-20 33-26zM212 2480l28-5 30 12 15 23 9 50 8 10 38 17 12 13 4 30-16 23-20 5-30-10-20-7-30 16-20 2-40-26-26-33-7-20 3-22zM1943 2480l27-1 30 17 26 34 15 40 3 40-10 30-21 20-23 10-40 4-28-14-12-20-15-50-5-40 7-30 23-28zM1382 2530l18 0 10 8 3 12-7 10-16 4-13-4-7-10 2-10zM2176 2530l4-5 10-2 10 7 9 20-1 10-8 5-14-5-8-10zM1681 2540l19-10 10 0 10 8 9 32-7 30-32 45-80 60-5 15 12 40 3 30-8 70 3 50-5 91 10 22 20-10 10-2 10 5 4 14-4 15-10 11-10 3-30-25-40 31-30 17-90 26-20 19-24 53-26 18-40 3-40-7-36-24-19-30-4-20 3-30 24-60 21-70 42-70 64-70 37-70 28-25 40-21 30-7 40 0 16-7 47-90 27-39zM730 2650l10 1 10 9 10 40-7 50-12 20-12 10-19 4-11-4-14-20-4-20 4-30 13-30 12-17zM908 2840l12-4 10 4 6 10-3 20-10 10-13 4-10-4-5-10 4-20zM2417 2840l23 1 20 8 20 13 14 18 5 20-2 20-7 17-13 13-17 6-20-2-20-11-19-23-9-30-1-20 9-21zM3507 2960l3-3 0 5zM713 3020l27-7 30-1 30 4 30 11 13 13 8 20-3 20-18 17-20 8-20 1-30-9-30-17-32-30-2-10 4-10zM1587 3130l23-5 20 4 26 21 7 20-3 10-20 18-20 6-20-2-20-11-9-11-5-30 6-10zM859 3170l21 1 22 9 18 18 10 22 2 30-6 20-16 18-20 5-30-4-22-9-15-10-13-20-1-20 10-30 21-24zM2659 3180l13 10-2 20-10 8-10 0-6-8 2-20zM215 3290l25-1 9 11-2 10-15 10-15 0-12-10 0-10zM1277 3440l23-8 30 2 40 16 31 20 15 20 6 30-7 30-15 24-20 17-20 7-20-1-26-17-21-30-30-70-1-20zM328 3450l25 0 0 10-13 16-20 5-8-11 3-10zM989 3460l31-5 40 17 22 18 13 20 1 10-6 11-20 6-20-1-40-11-27-15-13-20 7-20zM-120 3510l0-9 40 11 14 18 11 30 5 40-4 30-7 20-19 27-20 16-20 7zM2526 3530l14-7 10 4 0 13-20 7-7-7zM3484 3740l26-5 0 237-50-11-35-21-8-10-4-20 43-140 12-20zM-120 3970l0-8 30 2 20 7 10 19-10 31-20 20-30 8z"/>
<path fill="#c6fffe" fill-rule="evenodd" d="M1786 220l14-3 20 7 12 26-5 30-10 20-17 21-17 9-23-1-12-9-13-20-2-20 17-34zM2042 350l18-6 13 6 14 20 10 30 1 50-8 22-16 18-14 2-10-5-12-17-11-30-4-50 7-25zM1838 510l22-9 20 3 10 7 13 19 3 20-4 30 15 50-2 10-12 20-73 54-70 34-60 7-50-12-46-23-34-30-7-20 13-30 27-30 27-15 30-1 80 10 50-9 20-13 8-12 6-40zM1671 820l19-2 10 5 19 27 4 20-2 20-6 10-15 9-20 0-10-7-14-22-3-20 3-20zM989 970l21-4 26 14 5 20-11 10-30 1-20-11-1-20zM2193 1010l7-8 10-1 10 4 9 15-9 10-20-4-6-6zM2258 1130l12 2 19 18 14 40 0 20-8 20-15 8-10-1-20-8-20-17-13-32 4-20 9-15 10-9zM1430 1190l18 10-6 10-16-10zM1969 1380l11-7 20 7 7 20-7 30-20 18-10-4-9-34zM2312 1520l28 1 30 18 24 31 12 40-3 50-19 70-17 30-25 20-22 4-30-13-23-31-11-40 0-60 14-70 20-37zM2940 1530l10-4 10 4 4 10-4 16-10 4-10-10zM1318 1580l12-1 10 7 10 14 11 30 1 40-16 30-16 9-10 0-14-9-11-20-2-30 5-30 10-30zM1860 1630l20-8 50 7 30 11 20 18 20 33 35 79 37 110 6 40-3 30-11 30-84 114-30 15-67 11-123 26-31-6-7-10-3-20 10-130-29-110 6-40 14-25 20-17 50-26 28-32zM1890 1938l-13 12 3 14 10 5 16-9 3-10-7-10zM1064 1750l16 0 13 10 11 20-4 14-20-3-13-11-9-20zM2485 1780l15-5 20 4 3 11-9 10-14 5-16-5-5-10zM2175 1830l5-6 10-1 7 7 5 10-3 20-9 10-10 0-11-20zM1249 1890l1-3 10 8 0 45-10-1zM2738 1930l32-5 30 2 17 13 3 10-4 20-12 20-40 40-24 13-30 0-17-13-9-20-4-30 6-20 22-20zM2858 2040l12-2 9 12-5 20-12 10-12 0-8-10 5-20zM476 2140l14-8 10 6 21 42 2 40-13 37-10 8-10-1-10-11-9-23-6-50 5-30zM614 2160l16-6 30 8 15 18-1 10-10 10-24 4-20-9-10-15zM1632 2170l18-8 20 2 10 7 9 19 0 30-5 20-14 20-20 10-30-4-10-6-12-20 0-20 6-20zM1808 2250l32-2 20 7 19 15 10 20 0 20-9 20-20 14-30 7-40 1-30-6-20-11-9-15 2-20 15-20 22-16zM2550 2390l10-2 10 13 12 39-2 9-20-19-10-25zM2593 2470l7-5 30 5 42 20 19 20 2 20-4 10-10 10-19 8-20 0-17-8-22-30zM1951 2510l19 2 20 13 18 25 11 30-1 40-14 20-19 10-25 2-20-12-17-40-5-30 3-30 12-20zM1685 2550l15-5 11 5 7 20-5 30-23 34-46 36-24 9-9-9 4-20 35-63zM725 2680l5-2 10 8 3 14-3 25-10 17-10 5-10-2-9-15 5-30zM1504 2710l36-7 40 8 17 19 12 30 4 30-4 30-24 70-17 90-13 30-25 26-20 9-62 15-28 16-24 74-29 30-17 7-30 1-20-5-21-13-17-20-9-20-2-20 5-30 34-60 15-40 22-40 33-46 41-44 23-70 11-20 35-34zM2432 2880l8 0 10 10-2 10-8 3-10-7zM760 3050l20 0 1 10-16 0zM853 3210l17-8 20 10 9 28-11 20-18 3-20-13-5-20zM1297 3460l23-7 20 3 30 13 23 21 9 20 1 20-6 20-13 20-14 10-20 4-20-8-10-10-15-26-14-40-3-20zM3501 3820l9-3 0 107-20-5-19-19-1-20 10-34z"/>
<path fill="#d7fffe" fill-rule="evenodd" d="M1784 240l16-2 10 7 5 25-13 30-22 14-20-4-10-12-3-18 13-24zM2045 370l15-5 10 7 13 28 2 40-5 16-10 12-10 2-10-6-12-24-5-40 5-20zM1846 530l14-8 10 1 10 6 5 11-8 40 15 50-5 20-17 20-51 40-59 30-50 7-60-15-41-22-25-30 4-30 22-30 20-13 20-4 90 11 50-7 45-27zM2256 1150l14 2 8 8 8 20-1 20-5 9-10 4-20-6-14-17-2-10 6-19zM2302 1540l28-8 30 12 24 26 12 30 2 40-9 50-14 40-25 31-20 9-30-6-20-20-14-34-4-50 7-50 12-40zM1319 1620l11-7 10 6 5 11 4 20-9 26-10 5-14-11-4-20zM1899 1670l21-2 30 8 20 13 20 24 33 67 36 120 2 30-8 30-13 19-90 81-35 20-65 26-80 23-20-5-10-14 0-40 17-90 2-30-5-20-24-50-4-30 4-14 14-16 26-9 20 2 10-4 70-117 10-12zM1880 1924l-18 16-4 20 3 10 7 10 12 6 20-2 20-14 5-10-2-20-23-16zM2718 1960l32-9 24 9-1 20-14 20-19 13-10 2-14-5-8-10-3-20zM1631 2180l29-7 12 7 8 16 1 24-6 20-22 20-27 0-14-10-5-10 1-30zM1816 2260l24 2 16 8 10 10 6 20-6 20-11 10-45 11-30-2-20-7-12-12-2-10 9-20 15-13 20-11zM1690 2560l10 0 7 10-3 30-24 32-30 21-10 3-10-6 9-30 21-34zM1950 2560l10-9 10 1 17 18 7 30-4 13-8 7-12 2-14-12-7-20zM1524 2710l46 5 25 25 8 20 4 30-9 50-39 70-12 50-17 34-20 17-70 24-30 17-8 18-4 50-12 30-19 20-27 11-40-6-30-25-12-30 4-40 17-30 33-40 36-70 62-75 14-65 18-40 38-35zM1314 3480l6-5 20-2 20 7 20 17 7 13 2 20-14 30-15 9-10 1-20-12-12-18-9-30 0-20z"/>
<path fill="#e6fffe" fill-rule="evenodd" d="M1786 260l11 10-1 10-6 10-10 5-10-2-5-13 5-12zM1816 610l34-7 10 7 8 20-10 30-43 40-32 20-33 12-50 4-40-11-30-15-26-30 2-30 23-30 21-8 20 0 90 13zM2309 1550l21-6 30 12 20 24 10 30 1 40-9 40-12 31-20 27-20 10-30-7-18-21-11-30-3-40 8-50 14-38zM1901 1710l29-7 30 10 30 34 20 43 15 70 15 47 1 23-16 30-15 10-20 5-20-1-37-54-35-20-46-70-3-20 19-60 21-30zM1814 1970l16 0 30 28 44 12 11 10-30 40-45 31-30 14-30 6-10-2-10-9-3-10 3-37 15-43 15-27zM1630 2190l20-8 10 2 13 16-2 30-16 20-25 3-15-13-2-10 3-20zM1785 2280l35-9 26 9 9 20-2 10-13 12-40 8-32-10-5-10 2-10zM1678 2590l7 0-5 14-10 4-1-8zM1500 2720l20-6 30 0 32 16 13 20 8 30-6 50-20 40-42 50-15 40-10 15-18 15-62 28-31 22-7 20 0 60-7 20-16 20-19 12-20 4-20-3-20-10-24-33-1-40 15-33 39-37 38-70 63-78 6-62 9-30 12-20 23-24zM1329 3500l11-7 22 7 13 20-5 24-10 9-10 1-10-5-11-19z"/>
<path fill="#ffe3e3" fill-rule="evenodd" d="M1638 630l32-8 43 8 2 20-13 20-22 5-30-12-20-22zM1818 630l12 1 7 9-7 21-10 0-19-21zM2316 1560l24-3 20 12 15 21 9 30 0 30-9 40-15 32-18 18-22 6-20-8-13-18-10-30-1-40 8-40 16-36zM1917 1760l13-7 20 2 20 14 20 31 4 30-4 20-10 13-20 5-50-11-20-12-14-15-4-10 6-20zM1818 2010l28 10 14 20-13 20-27 21-30 7-10-8-1-10 12-40 9-12zM1631 2200l19-9 13 9 3 20-11 20-15 6-14-6-6-20zM1793 2290l17-5 20 4 5 11-6 10-19 7-20-3-6-4 0-10zM1510 2720l40-2 20 8 14 14 15 40-6 50-23 41-55 49-25 41-70 48-30 26-6 15 4 40-2 30-8 20-18 20-20 8-20 1-30-14-13-15-8-20 4-40 17-27 40-33 38-70 58-70 4-70 14-40 27-30z"/>
<path fill="#ffe2e2" fill-rule="evenodd" stroke-width="4.5" stroke="#463c3c" d="M2327 1570l13 0 20 13 11 17 7 30-2 30-9 30-17 29-14 11-16 3-20-11-13-22-5-30 1-30 13-40 14-21zM1927 1790l23 1 10 4 12 15-2 24-20 13-20 0-20-6-14-11-5-10 9-18zM1635 2210l15-6 5 6-4 20-11 4-7-4-3-10zM1528 2720l32 5 26 25 10 40-10 50-26 37-60 42-29 41-87 70-8 20 7 40-3 30-10 22-20 17-30 4-30-16-15-27-1-20 5-20 21-30 39-30 37-70 54-61 6-19-3-60 9-30 12-20 36-29z"/>
<path fill="#ffdede" fill-rule="evenodd" stroke-width="4.5" stroke="#463c3c" d="M2317 1590l13-6 20 6 19 30 3 20-4 30-8 20-16 20-14 8-20-3-10-10-11-25-2-20 5-30 8-20zM1918 1810l12-4 16 4 6 10-2 5-10 7-20-2-8-10zM1498 2730l42-7 20 6 15 11 12 20 6 20-7 50-26 42-30 23-34 15-36 48-86 72-4 20 7 50-3 20-11 20-23 16-20 1-17-7-13-12-9-18 0-30 16-30 50-40 28-60 62-70 4-20-6-50 6-30 26-40z"/>
<path fill="#ffd6d6" fill-rule="evenodd" stroke-width="4.5" stroke="#463c3c" d="M2325 1600l15-1 10 5 15 26-3 40-22 31-20 5-10-5-10-12-6-19 0-20 6-23 10-17zM1505 2730l25-4 20 2 28 22 12 40-6 40-14 25-20 22-66 33-26 40-98 80 11 60-1 20-8 20-22 18-30-3-10-7-11-18-3-20 4-17 10-17 17-16 41-20 3-30 14-30 25-34 45-46-7-60 6-40 26-39z"/>
<path fill="#ffcccc" fill-rule="evenodd" stroke-width="4.5" stroke="#463c3c" d="M2326 1610l14-1 10 6 11 25-4 30-17 22-20 4-10-6-11-20 0-20 6-20zM1516 2730l34 2 25 18 9 20 4 20-7 40-11 20-20 23-20 13-44 14-14 10-23 40-39 34-30 22-10-1-1-5 11-30 14-20 54-50 5-10-12-60 6-40 10-20 18-20zM1328 3050l22-6 10 16 4 20-5 40-9 12-14 8-26-4-10-10-7-16 7-32z"/>
<path fill="#ffc0c0" fill-rule="evenodd" stroke-width="4.5" stroke="#463c3c" d="M2320 1620l20-3 14 13 2 30-11 20-15 9-10-1-16-18 1-30zM1494 2740l26-8 30 3 20 14 11 21 4 30-7 30-19 30-29 23-60 13-10-10-13-36-3-30 5-30 19-30zM1434 2920l16-6 5 6-5 17-20 23-30 24-10 7-9-1 6-20 23-31zM1325 3060l15-6 10 4 7 32-7 30-20 14-20-7-10-17 7-30z"/>
<path fill="#ffb0b0" fill-rule="evenodd" stroke-width="4.5" stroke="#463c3c" d="M2316 1630l14-8 10 1 10 11 2 26-12 18-10 5-10-1-11-12-2-20zM1500 2740l30-6 20 4 20 16 11 26 0 30-11 30-20 26-20 13-30 9-30-1-10-12-12-35-1-30 10-30 14-20zM1419 2940l11-6 5 6-15 18-10 8-7-6zM1399 2970l1-3zM1329 3070l12 0 8 30-7 20-12 7-19-7-6-20 5-13z"/>
<path fill="#ff9b9b" fill-rule="evenodd" stroke-width="4.5" stroke="#463c3c" d="M2324 1630l16-1 8 11-1 20-7 12-10 6-16-8-3-20zM1508 2740l32-2 20 10 15 22 4 20-3 30-15 30-21 20-20 10-30 6-20-6-13-20-8-30 2-30 9-21 20-24zM1316 3090l14-8 10 7 3 11-3 13-10 8-10-1-9-10z"/>
<path fill="#ff8282" fill-rule="evenodd" stroke-width="4.5" stroke="#463c3c" d="M2319 1640l11-7 10 3 5 14-5 16-10 7-10-3-5-10zM1523 2740l27 5 16 15 9 20 0 30-11 30-14 18-20 15-21 7-19 2-20-8-16-34-2-30 8-26 18-24 22-14zM1317 3100l13-9 6 9-1 10-5 4-10-1z"/>
<path fill="#ff6969" fill-rule="evenodd" stroke-width="4.5" stroke="#463c3c" d="M2327 1640l7 0 6 6-2 14-8 7-10-6-1-11zM1497 2750l33-5 20 4 12 11 10 20 0 30-11 30-31 30-30 8-20-2-16-16-8-20-2-20 6-30 10-17z"/>
<path fill="#ff4e4e" fill-rule="evenodd" stroke-width="4.5" stroke="#463c3c" d="M2328 1650l4 0-2 8zM1493 2760l27-5 20 3 18 22 7 30-3 20-12 20-28 20-22 5-20-3-12-12-9-20 1-42 10-20z"/>
</g>

</g>
<path d="M105.6 364.2C106.0 362.7 107.0 357.8 108.0 355.0C109.0 352.2 109.5 351.1 111.7 347.5C113.9 343.9 117.3 338.1 121.3 333.4C125.3 328.7 130.8 322.8 135.5 319.2C140.2 315.6 147.2 312.9 149.6 311.6M149.6 311.6C149.7 312.3 150.4 314.4 150.2 316.0C150.0 317.6 149.9 318.3 148.6 321.2C147.3 324.1 145.0 329.3 142.5 333.4C140.0 337.4 137.1 341.4 133.4 345.5C129.7 349.6 123.9 355.3 120.3 358.2C116.7 361.1 114.5 361.8 112.0 362.8C109.5 363.8 106.7 364.0 105.6 364.2" fill="none" stroke="#1e1e1e" stroke-width="0.85" stroke-linejoin="round"/>
<path d="M117.1 56.1L289.8 197" stroke="#f50a0a" stroke-width="1.9" stroke-dasharray="5.5 1.6 9.5 1.6" fill="none"/>
<text transform="translate(12.5 24) scale(1.05 1)">(a) U</text>
<text transform="translate(115.5 295.9) scale(1.05 1)">K1</text>
<text transform="translate(106.4 328.4) scale(1.05 1)" font-style="italic">πγ</text>
<path d="M165.7 374.2V378.4H275.8V374.2" fill="none" stroke="#000" stroke-width="1.1"/><text transform="translate(161.5 371.6) scale(1.05 1)">0</text><text transform="translate(263.8 371.6) scale(1.05 1)">1.2 km</text>
<rect x="4.7" y="4.3" width="328.6" height="395.9" fill="none" stroke="#000" stroke-width="1.1"/>
</g>
<g transform="translate(347,0)">
<g clip-path="url(#cp)"><g transform="scale(0.1)" stroke="#263232" stroke-width="8" stroke-linejoin="round">
<rect x="-200" y="-200" width="4000" height="4500" fill="#42fffe" stroke="none"/>
<path fill="#64fffe" fill-rule="evenodd" d="M-120-120l3630 0 0 4310-3630 0zM1320 3726l-8 4-2 13 10 10 20 1 10-7 3-7-3-7-10-6zM1520 2945l-10 13 1 12 9 13 20 5 10-8 1-20-11-13zM2390 2136l-5 4 5 14 10 8 16-2 4-10-6-10-14-5zM2420 3279l-5 11 5 10 10 1 3-11z"/>
<path fill="#80fffe" fill-rule="evenodd" d="M-120-120l651 0-22 60-8 110 10 20 20 20 29 17 30 8 33-5 15-10 5-10-21-60-2-20 8-30 31-60 3-40 513 0-18 70 2 20 11 14 70 33 60 5 40 10 18-2 12-10 10-30-7-30-31-50-6-30 1922 0-2 50 3 20 12 20 19 16 40 13 80-3 50 14 50 2 0 3644-48 4-22 7-12 13-6 20 5 30 13 20 20 6 50-8 0 62 0 380-1006 0-4-12-10-7-10 9-1 10-2599 0 0-256 32-14 12-20 2-20-12-30-14-12-20-6 0-1710 30-14 48-38 15-20 5-20-8-18-10-6-30-6-50 0 0-943 14-7 16-16 25-44 15-110-5-30-25-60-20-31-20-12zM-10 2703l-12 17 0 20 12 23 20 9 14-12 3-30-7-17-10-10zM280 989l-140 63-20 17-11 21-5 20 2 20 39 120-11 60 2 20 14 26 51 44 5 20-16 29-20 12-20 1-40-7-20 4-15 21-3 30 8 48 20 24 20 11 20 3 50-5 11 9 24 50 15 12 20 0 20-12 14-20 4-20-11-50 5-20 18-14 50-4 11-12-2-20-9-21-60-52-15-27 1-20 17-60 2-30-9-20-31-30-4-10 27-120 12-25 20-12 20 2 60 39 20-3 10-8 8-23-10-20-18-12-100-46zM440 1518l-40 15-8 7 1 10 16 20 101 80 20 3 10-4 7-9 0-30-11-30-46-60-20-7zM620 1517l-10 4-9 19 4 10 15 10 10 0 9-20-9-20zM720 108l0 6 8-4zM790 1117l-13 13 2 10 11 4 11-4 4-10-5-10zM910 1700l-30 13-60 4-12 13 1 20 12 20 53 30 36 17 20 1 20-11 11-17 3-30-6-20-28-37-10-6zM1190 570l-10 3-17 17-5 20 42 23 20 17 11 20-5 30-26 27-40 21-10-1-50-26-20 2-20 10-10 13-1 14 15 40-2 30-16 30-43 40-2 10 24 70 15 23 10-1 11-32 14-20 39-20 46-17 60-9 30 6 50 26 30-2 111-64 18-20 8-20-4-10-14-10-89-26-24-14-11-20 3-60-10-30-38-47-20-18-40-19zM1290 324l-21 26-10 30 1 15 10 7 40-9 27-13 10-10 3-20-10-14-20-12zM1520 2927l-10 5-13 18 0 30 12 20 11 8 30 3 20-10 7-11-1-30-13-20-13-9zM1590 509l-20 10-6 21 9 10 27 1 18-11 2-10-10-14zM1700 357l-20 11-10 12-4 10 6 20 18 16 20 9 40 0 20-9 10-10 4-16-5-10-39-29-20-5zM1860 1320l-13 20 3 21 20 16 20 0 10-5 11-22-11-27-20-10zM1950 1539l-12 11-1 10 2 10 17 20 94 62 31 8 9-4 8-16 2-30-10-32-20-24-20-12-30-8-40-1zM2180 3629l-5 11 7 20 18 10 20 0 13-10 1-10-12-20-22-8zM2220 3429l-27 21-7 20 1 10 7 10 16 8 20 0 20-5 26-23 6-20-2-10-20-16-20-1zM2340 2096l-17 14-5 20 5 20 14 20 32 30 21 13 20 4 30-10 19-17 11-20 1-20-11-22-20-16-30-12-40-7zM2840 2457l-70 33-50 8-30-8-20 2-28 18-23 30-7 20 8 10 10-2 60-46 20 0 15 28 10 40 1 30-6 26-6 34 8 10 18 0 48-60 29-20 43-11 70 1 20-10 8-20-2-20-24-60-12-17-18-13-22-7-30-1zM3240 3154l-5 6 5 9 10 3 5-12zM3300 1467l-15 23-1 30 6 11 10 7 20-1 9-7 11-20 0-33-10-13-10-4zM210 3180l-40 20-50 61-40 29-5 10 2 20 23 19 20 4 90-15 20 2 20 10 26 40 18 100 16 38 30 31 50 28 40 11 30-4 30-40 40-33 4-11-4-20-19-20-41-19-26-21-20-30-19-50-55-42-30-51-20-23-50-36-20-8zM1090 3307l-22 23-2 30 13 20 11 6 10 1 14-7 23-30 4-20-3-10-18-15zM1290 3696l-10 4-10 20 4 20 16 24 20 15 20 6 40-8 22-17 10-20-3-20-8-10-41-14zM1550 3801l-5 9 2 10 3 6 10 2 0-18zM1620 1939l0 15 20 18 6-2 2-10-5-10-13-12zM1760 1515l-21 25-2 20 4 10 19 18 30 5 20-11 8-12-3-30-25-26-20-3zM2400 3259l-9 21 13 30 26 17 18-7 9-20-8-30-19-16-20 0zM2460 2569l-15 11-13 20-2 10 5 10 25 10 40 4 20-12 6-12 0-30-8-10-18-9-20 0zM2800 3079l-3 11 4 10 11 10 18 3 9-13-9-16-20-9zM2450 3907l-30 20-24 33-19 50-15 70 3 20 15 20 20 7 40 3 21-10 26-60 34-50 4-20-5-40-12-30-10-10-18-7z"/>
<path fill="#9afffe" fill-rule="evenodd" d="M2119-110l2-10 295 0-16 35-46 45-14 6-10-2-32-14-28-2-30 13-50 36-30 3-33-20-20-30-2-20zM2663 20l27 0 20 6 20 14 12 20 3 20-5 20-18 20-22 8-20-2-29-16-20-20-10-20-1-20 5-10 15-13zM1260 60l20-8 20 8 6 20-10 20-16 8-21-8-9-20zM1777 130l23-7 20 3 20 13 22 31 15 40 5 40 0 30-8 40-25 40-19 12-20 2-30-10-44-24-27-20-9-13-20-37-10-3-60 23-20-1-10-5-11-14-5-20 0-30 7-20 19-29 20-15 30-4 50 26 10-1zM2329 260l11-6 20-1 70 39 50 6 30 9 90 68 100 60 50 24 16 21 8 30 2 40-18 90-9 20-26 20-63 30-70 80-58 40 1 10 57 37 30 3 80-24 30-4 70 27 20-2 20-21 16-46-1-20-10-30 5-33 10-2 6 5 16 30 8 9 10 2 50-7 70 3 30-18 30-8 27 9 3 20-8 10-52 20-10 25-15 75-15 28-19 22-2 10 61 79 20 13 44 18 17 20 0 20-7 20-62 60-14 20-1 20 10 20 18 20 25 15 30 4 70-8 8 9 2 10-12 40-36 60-16 70-10 20-26 30-59 50-27 30 33 50-4 20-15 10-18 3-20-10-7-23 13-40-6-10-20-7-50-2-60 25-30 4-100-27-43-33-22-30-4-30 44-130 25-60 1-40-14-50-27-37-20-2-11 9-9 20-1 30 32 60 4 40-7 20-18 18-20 6-30-7-50-42-30-15-10-10-5-20 25-50 8-40-2-60-7-20-19-24-30-18-20-1-44 23-20 20-21 80-52 100 3 10 36 40 9 20-3 20-16 30 48 49 13 31-1 50 12 60 2 40-4 50-10 50-30 40-32 26-20 11-40 3-60-18-12 38-18 14-50 2-30-12-12-14-5-20 9-30 28-29 41-11-21-90 2-30 12-40 33-70 66-100-3-10-36-30-14-20-4-20 5-30-5-10-106-21-20 1-30 13-20-4-17-49-30-60 4-40 24-70-2-20-9-11-10-1-40 22-30 29-8 21-6 50-20 30-86 79-110 80-30 1-70-28-70-16-150-8-33 2-13 50-44 80-35 100 3 30 22 25 46 35 15 20 4 20-10 50 4 20 14 10 87 21 31 19 18 20 8 20 2 20-21 100 2 20 6 10 74 43 70 22 20-5 18-20 5-30-4-80 9-60 14-30 33-50 28-80 25-40 42-36 30-13 30 5 80 40 45 34 29 40 3 30-8 50-1 40 22 100 10 14 10-1 30-20 20-3 12 10 12 30 0 30-34 39-33 51-27 27-20 6-20-12-30-33-10-2-20 7-100 81-83 56-17 30-20 68-10 10-20 6-80-9-40-18-21-17-14-20-3-20 18-70 1-20-5-20-7-10-19-10-40 9-42 31-22 40-13 90 7 70-4 20-16 11-30-1-19-20-6-20-2-100-5-30-48-93-23-57-17-15-50-14-60-28-60-22-20-16-17-25-21-70-7-60 9-50 34-80 1-20-4-10-49-40-10-20 0-20 10-20 24-18 70-14 20-13 10-18 17-67 43-103 30-27 60-11 11-9-16-20-25-20-34-20-66-28-20-18-42-114-1-30 9-20 14-10 30-5 50-1 30 5 31 21 35 60 22 20 26 10 46 7 69 23 51 7 20 0 8-7-8-22-10-6-60-9-36-13 2-10 45-20 29 1 40 26 80 0 80 25 20 0 28-12 36-30 19-30 0-90-15-80 22-52 30-40 10-3 17 5 33 55 20 12 20 1 20-7 40-44 30-16 30-3 40 12 20 1 50-19 60-7 20-10 9-15-2-20-13-20-24-21-20-11-150-9-30-12-64-37-16-40-40-33-21-27-6-30 11-30 33-30 63-36 40-53 20-11 30 5 60 50 40-36 40-14 20 4 50 30 20-4 10-10 5-15-4-40zM3194 530l26-10 24 10 7 10 2 20-13 31-10 7-20 4-16-12-10-20-2-20zM167 580l33-5 25 15 9 30-14 31-20 12-10-2-24-21-14-30 4-20zM1544 610l96-9 40 3 50 23 31 33 7 20-1 20-9 20-24 30-44 29-60 13-60-4-100-20-40-12-22-16-4-10 3-20 53-66 33-24zM995 800l15-3 15 13-1 20-12 10-12 2-15-12 1-20zM3227 1120l33-8 50-1 30 7 20 11 20 22 9 29-9 20-30 16-100 21-20-2-20-37-10-38 4-20zM2481 1740l29-7 50 4 30 11 24 22 9 30-4 30-17 30-22 19-30 10-30-6-30-21-28-32-10-20-4-30 8-20zM2974 1800l26-8 30 7 30 17 21 24 7 20 14 90-10 30-22 20-30 8-30 0-30-9-22-19-6-20 1-50-6-60 8-30zM3489 1940l21-10 0 464-30-7-70-25-30-24-11-28-3-30 14-100 1-30-12-30-19-5-70 7-30-8-18-14-16-30 0-20 7-20 17-22 20-13 40-11 30 0 18 6 12 11 30 64 20 2 28-17 16-20 21-70zM419 2040l21-1 20 6 40 25 26 30 18 40 10 90-4 50-7 20-14 20-19 14-20 7-30-2-26-19-88-140-3-30 12-40 33-50zM2248 2230l12-5 20 1 20 12 10 12 8 20-1 20-17 22-30 6-20-7-11-11-9-20-1-20 8-20zM1042 2260l18-3 20 4 23 19 42 80 4 20-3 20-16 24-30 27-20 9-40 6-18 14-4 30 16 60-4 40-55 90-65 62-27 38-8 30-3 90-12 29-20 14-20-1-20-18-30-44-30-36-59-34-31-30-1-40 21-101 20-27 20-6 70 25 12-1 0-20-16-60-8-60-1-40 8-30 25-20 80-25 40-7 70-3 11-15 6-80 13-18zM1500 2370l40 6 24 14 17 20 8 20 2 30-3 20-18 20-30 9-30-4-23-15-15-20-8-30 1-40 11-20zM1678 2460l22-2 20 4 18 18 10 30 6 90-7 40-14 20-23 14-30 1-30-15-28-30-17-40-6-50 2-30 13-20 26-18zM1383 2520l27-4 10 4 14 20-3 30-21 25-10 3-20-3-21-25-2-20 4-10zM1893 2520l37-1 40 12 20 19 15 30 6 40-5 40-16 30-30 25-30 10-30-2-30-16-16-27-10-70 2-40 14-30 20-16zM1226 2610l14-5 20 7 27 28 15 30 4 20-1 10-10 10-25-4-20-14-18-22-11-20-4-20zM1528 2670l42-5 30 7 20 11 44 47 14 30 0 20-18 30-90 90-60 18-20 20-8 32 14 60 1 10-7 13-78 57-34 50-28 26-28 14-52 37-50 20-50 5-90-18-24-24-16-42-4-28 6-70-4-30-25-100-37-70-9-30 3-40 20-39 30-16 20 3 20 12 23 40 27 97 20 16 30 1 110-29 30-13 38-32 32-38 50-105 20-14zM-120 2850l30 5 30 13 28 22 24 30 7 20 0 20-9 23-20 25-30 20-60 10zM2537 2860l33-8 30 3 20 7 20 18 12 30 1 40-5 20-18 12-30 3-20-6-20-13-33-36-13-20-4-20 11-20zM1692 2910l18-3 10 4 12 9 13 20 3 30-8 14-10 5-30-5-23-24-3-30zM3105 2970l5-5 10 5-10 21-10-1-1-10zM2676 2980l14 0 20 16 1 14-12 20-9 8-10 1-16-19-2-30zM2828 2990l22-2 20 9 12 13 6 20-8 7-40-17-20-20zM3278 3000l22-5 27 15 14 20 13 40 3 40-9 30-18 23-10 6-10-1-67-58-15-30 2-20 8-20 22-28zM2365 3010l15-7 20-1 30 15 11 23-11 26-10 7-20 3-20-5-17-11-9-10-3-20zM2916 3080l24 9 17 21 9 20 4 40-13 50 19 40 1 20-10 20-17 13-30 8-31-1-29-6-34-14-12-10-7-20 13-24 44-26 6-8 1-52 34-70 5-9zM1490 3140l30-5 10 7 5 18-16 50-29 31-20 5-10-3-13-13-5-20 3-20 10-20zM833 3230l27 3 33 27 10 30-5 20-9 10-19 8-20-3-25-25-11-30-1-20 7-14zM3475 3260l35-6-2 116-29-10-11-10-11-20-3-40 8-20zM1289 3300l31-7 30 8 27 19 22 30 1 20-13 50 8 90-2 40-11 30-19 30-33 28-20 5-20-1-70-18-13 6-5 10 9 40 69 130 3 30-14 30-19 10-20-7-56-63-24-34-40-89-50-55-30-9-80-8-30-11-63-34-17-20-2-10 4-10 18-12 90-19 70-1 90 16 20-6 23-28 40-100 17-29 30-26zM2316 3380l14-4 15 4 5 10-10 17-16 3-13-10-4-10zM-62 3460l42-9 30 7 57 32 23 30 3 60-6 40-18 40-19 18-20 11-20 0-100-112-30-20 0-80zM2037 3560l23-9 14 9 10 20 6 50-5 20-15 18-20 8-10-2-17-14-9-20-1-40 7-20zM3236 3850l24-5 20 8 51 37 26 30 10 30-3 30-14 27-20 15-30 0-30-14-40-28-25-30-8-30 4-20 14-30zM1341 4060l9-4 17 4 18 20 1 20-16 14-20 4-21-8-1-30zM386 4120l14 0 14 10 7 20 3 40-64 0-46 0 3-20 10-20 13-12z"/>
<path fill="#b2fffe" fill-rule="evenodd" d="M1788 150l32 0 26 20 19 40 7 40-7 50-15 30-20 18-30 6-30-10-35-24-20-30-13-50 2-20 20-30 36-27zM1615 210l15-8 17 8 3 10-10 16-10 6-15-2-6-10zM2047 340l23-4 30 23 16 31 2 40-38 163-10 13-10 5-20-3-13-8-23-30-24-78-10-8-20 1-9-5-5-10 6-20 48-35zM2356 560l24-1 30 9 15 12 7 20-7 20-19 20-36 23-26 7-24-1-30-13-17-16-7-20 6-20 18-17 30-15zM1608 630l42 2 36 18 20 30 1 30-19 30-28 16-40 8-60-3-86-21-15-10-5-20 20-30 36-27 40-14zM2064 810l16 0 10 5 13 15 6 20-5 30-24 17-20-2-10-7-10-18-1-20 5-20zM2942 820l28-2 10 6 10 14 2 12-5 20-17 15-30 0-20-15-4-10 5-20zM2447 900l43-1 23 11 7 20-13 30-47 45-27 45-23 14-20 1-20-7-19-18-11-19-10-3-7 42 10 90-5 30-9 20-19 23-30 13-30-1-30-17-40-61-50-1-25-16-6-10-1-20 12-25 20-19 57-36 53-65 20-18 20-7 20 2 20 12 20 19 80-58zM2639 980l31 5 24 15 25 30 9 30-10 30-48 53-26 37-14 27-10 11-10 1-10-15-5-34 2-40 16-60-9-60 10-20zM1167 1010l37 0 30 10 19 20 21 40 25 20 41 20 82 30 98 22 30 14 27 24 10 20 0 10-7 10-30 16-70 13-80-6-50-19-150-89-23-25-12-30-25-40-6-20 6-27zM2775 1040l15-5 30 5 20 11 14 19 3 20-7 20-30 35-20 14-20 7-10-2-13-14-4-20 6-60 7-20zM2829 1280l21 2 20 11 37 37 19 30 3 20-8 20-28 20-23 3-30-5-20-10-17-18-8-30 5-40 10-27zM2630 1310l20-7 10 10 0 19-10 14-10 3-10-3-9-16zM2320 1360l10 0zM2325 1470l35 0 20 12 13 18 31 100 4 60-13 70-23 40-22 21-20 11-40 5-40-18-36-39-20-50-8-60 8-50 26-53 40-43zM1279 1630l11 0 16 10 5 10-3 10-18 6-12-6-9-20zM1847 1630l43-7 40 11 50 28 33 38 10 40 0 80 8 90-3 30-8 21-20 29-80 83-50 41-50 32-30 12-30 7-40 0-7 55-18 40-15 15-20 9-20 0-22-14-8-20 2-20 37-70 11-12 30-18 2-50 27-70-3-130 10-50 35-60 32-90 24-30zM1180 1720l10-4 20 8 17 26 10 50-4 40-13 19-10 1-50-32-10 4-11 18-19 28-10 5-10-3-10-13-10-27 0-34 8-16 12-10 40-5 28-45zM2517 1760l43 3 20 12 10 13 3 32-11 20-12 10-20 6-20-4-20-12-18-20-8-20 3-20 13-13zM2166 1790l14-4 20 10 10 14 0 20-20 7-20-6-10-9-5-12zM1318 1800l52-6 40 10 10 8 5 18-15 21-40 10-20-2-25-9-12-10-10-20 3-10zM3291 2030l29 0 13 20-5 20-8 10-20 10-30-3-12-17 5-20zM424 2100l16-5 20 5 23 20 17 30 11 40 5 40-4 30-14 20-18 3-16-13-50-90-9-30 1-20 8-20zM2269 2270l11-2 1 12-5 0zM1517 2440l3-3 13 3 4 10-3 10-4 3-12-3-3-10zM830 2500l10-6 20 3 20 23 22 40 13 30 2 20-6 20-11 12-20 8-20-3-20-12-20-27-10-28-2-30 7-30zM1658 2500l22-7 20 1 10 6 15 20 13 40 4 40-6 30-17 20-19 7-30-7-26-20-17-30-6-30 4-30 15-26zM1389 2540l11-1 10 11-2 10-16 10-13-10 0-10zM1900 2560l20-5 28 5 15 10 12 20 4 20-4 30-12 20-13 12-20 7-20-1-20-12-10-16-7-30 3-30 11-20zM724 2690l16-4 10 6 3 8-5 20-22 20-16 5-10-4-2-11 6-20zM1514 2690l36-7 30 3 20 7 21 17 13 20 4 20-1 30-12 30-19 30-36 36-30 20-33 14-23 20-13 30-12 60-59 59-24 61-16 20-20 14-30 9-30 0-40-11-30-6-50 3-20-7-15-12-13-20-5-20 3-35 10-27 20-17 70-11 40-23 73-87 49-50 34-80 27-40 47-37zM1020 2840l10-9 10 5 8 14 2 19-10 10-10-6-10-19zM2569 2890l11-4 20 5 7 9 2 20-9 12-10 2-12-4-15-20-1-10zM1707 2940l13 3 5 17-5 5-14-5-5-10zM844 3270l6-5 14 5 7 10-1 14-10 6-10-5-8-15zM1289 3410l21-1 30 23 22 38 8 40-4 40-15 30-21 22-30 12-30-5-30-16-23-23-7-20 3-30 14-30 43-66zM984 3520l56 6 30 14 9 10 1 10-10 14-20 9-30 3-70-14-25-12-9-10 4-10 17-10zM3254 3910l16-3 16 13 2 10-8 13-20-3-10-18z"/>
<path fill="#c6fffe" fill-rule="evenodd" d="M1774 170l26-8 30 9 20 24 12 35 0 40-12 38-20 23-24 9-26-4-30-18-22-28-11-30-1-30 8-20 18-20zM2045 360l15-9 20 4 21 25 9 30-4 40-29 110-7 18-11 12-19 1-23-21-14-30-8-50 0-30 8-30 20-40zM2310 600l30-9 30 7 6 12-3 10-13 13-30 10-20-5-10-8-3-10 3-10zM1535 680l45-1 40-6 20 6 9 11-1 20-10 10-28 10-70 5-40-11-7-14 4-10 13-11zM2066 840l4-4 11 4 1 20-12 5-5-5-3-10zM2443 940l17-6 10 2 4 4-2 10-22 17-9 13-13 50-8 10-20 8-20-7-9-11-6-20 4-30 11-14 40-11zM2639 1010l11-3 20 12 8 21-2 10-6 6-10 0-10-6-13-20zM1168 1040l22-6 20 5 13 11 17 30 50 30 100 42 130 41 20 17 5 10-4 20-11 10-40 14-60 2-50-11-40-20-102-65-24-20-12-20-12-38-25-32-2-10zM2250 1120l20 2 14 18 2 30-16 24-10 4-20-3-10-8-8-17 4-30zM2838 1320l12-1 20 18 7 23-7 12-20 3-20-15-3-20zM2305 1500l35-7 30 16 32 61 15 60-3 60-17 50-27 34-20 13-20 5-40-7-33-25-25-40-15-60 0-40 16-50 27-38zM1850 1650l30-7 40 8 36 19 29 30 16 50 11 150-8 40-25 30-24 40-45 50-54 40-56 28-40 4-28-12-7-10-3-20 22-80 0-40-10-80 3-40 13-29 27-41 29-90 14-20zM2515 1790l15-9 10-1 20 8 10 12-3 20-17 11-20-6-15-15zM1656 2170l14-10 10 1 12 9 11 30-7 40-14 20-12 10-10 4-20-2-14-12-3-10 9-40zM1659 2520l11-6 20-3 20 12 11 17 10 30 3 30-5 20-17 20-22 4-20-6-20-18-12-20-5-40 7-20zM832 2540l8-8 10-1 21 19 16 40-7 24-20 6-10-4-15-16-10-30zM1905 2590l25-8 20 13 6 25-6 16-10 11-20 5-18-12-6-30zM1502 2700l28-8 30-1 40 12 18 17 10 20 2 20-4 30-21 40-25 28-30 23-57 29-13 11-12 19-27 70-51 59-13 51-10 20-27 26-20 7-30 1-20-5-20-13-13-16-10-30 6-40 11-20 36-41 57-89 45-50 21-70 22-40 35-37zM1293 3450l17-4 20 11 16 23 8 30-3 30-11 24-20 21-20 8-20-1-24-12-17-20-4-20 5-20 16-30 24-31z"/>
<path fill="#d7fffe" fill-rule="evenodd" d="M1779 180l31-5 20 10 13 15 11 30 1 30-7 30-18 26-20 11-20 0-30-15-20-23-13-29 1-30 9-20 23-20zM2049 370l21-7 13 7 14 20 7 30-9 50-34 100-11 7-10-1-19-16-13-30-5-30 2-40 8-30 17-35zM2399 980l17 10 4 20-10 20-10 4-11-4-11-20 3-20 9-8zM1235 1120l15-6 30 6 210 80 20 20-1 10-9 10-23 10-37 4-38-4-32-10-52-30-68-50-15-20zM2295 1520l35-9 30 12 30 44 17 53 0 60-15 50-32 38-29 12-21 0-20-7-29-23-24-40-11-40-1-50 12-40 23-34zM1851 1670l29-8 30 3 30 15 28 30 17 50 10 130-6 30-10 10-29 9-10 11 3 40-16 30-37 38-40 25-30 13-30 6-16-2-12-10 5-100-14-110 7-38 20-27 30 3 20-9 4-29-4-20-16-30 1-10 12-30zM1658 2180l12-8 10 1 10 11 5 16-2 30-21 30-22 6-12-6-6-10 3-30zM1665 2530l15-5 20 4 20 28 5 43-5 16-15 14-15 3-20-8-16-15-10-20-2-30 8-16zM849 2570l11 10-10 3zM1517 2700l23-5 30 2 20 7 20 16 11 20 4 20-9 40-17 30-29 31-30 21-59 28-10 10-41 80-47 60-17 70-26 28-20 9-20 1-20-3-25-15-13-20-6-20 7-40 17-25 37-35 46-80 47-54 15-66 26-50 39-39zM1289 3480l11-6 20 3 12 13 7 20-1 20-7 20-21 21-30 2-18-13-5-10 2-30z"/>
<path fill="#e6fffe" fill-rule="evenodd" d="M1783 190l27-2 20 11 10 15 7 26-2 30-7 20-18 19-20 6-20-4-20-13-19-28-5-20 2-20 12-19zM2054 380l16-5 10 5 13 20 4 30-27 98-18 32-12 2-20-21-10-51 11-60 19-36zM1279 1150l11-5 24 5 98 40 33 20 5 10-9 10-41 2-39-12-60-40-19-20zM2301 1530l29-4 30 15 26 39 15 50-1 50-12 40-28 36-30 14-30-3-20-11-16-16-23-40-10-40 1-40 14-40 24-31zM1875 1680l25-1 30 13 26 28 12 30 7 50-2 90-3 10-30 7-20 11-10-6-32-52-24-100-4-40 6-30zM1777 1880l3-9 55 9 9 10 9 30 15 20 12 6 30-3 13 47-8 20-16 20-29 23-30 13-20 3-19-9-7-20zM1657 2190l13-9 10 2 9 17-2 30-12 20-15 9-10 0-10-9 1-30zM1668 2540l22-4 10 5 13 19 4 30-7 19-10 8-10 2-20-8-16-21-2-30zM1536 2700l44 4 20 12 12 14 7 20 0 20-12 40-21 30-26 24-72 36-28 20-44 80-38 50-10 60-8 20-18 20-20 10-37 0-30-20-12-30 1-20 6-20 20-26 41-34 37-70 49-60 12-70 25-50 46-42 30-13zM1288 3510l12-8 10 0 8 8 2 20-10 16-20 6-10-8-2-14z"/>
<path fill="#ffe4e4" fill-rule="evenodd" d="M1797 200l23 7 10 11 8 32-4 20-11 20-13 9-20 1-20-9-10-11-11-20-1-20 10-20 11-10zM2058 390l12-2 10 6 8 16 3 20-11 49-26 61-14 7-10-7-10-23-3-27 12-60 11-21zM2306 1540l24-1 30 17 22 34 13 50-2 40-14 40-26 30-28 10-25-3-30-21-22-36-11-40 2-40 11-33 21-27zM1880 1700l20-6 18 6 22 19 10 18 7 23 2 40-5 30-9 20-15 8-20-10-29-48-15-60 4-24zM1810 1950l10-5 20 3 50 30 9 22-16 20-33 18-20-4-13-24zM1669 2190l11 4 5 26-8 20-11 10-17 0-5-20 13-30zM1672 2550l18-3 13 13 4 20-7 14-20 3-11-7-8-20zM1506 2710l24-7 30 0 20 5 18 12 17 30 1 20-8 30-18 30-30 30-30 18-53 22-27 20-40 71-37 49-11 70-17 30-15 11-20 6-20-1-20-9-19-27-3-20 4-20 19-30 52-40 35-70 43-50 11-80 19-40 29-34z"/>
<path fill="#ffe3e3" fill-rule="evenodd" stroke-width="4.5" stroke="#463c3c" d="M1794 220l16 5 10 15 0 20-10 14-10 5-10-1-15-8-9-20 7-20zM2053 410l17-5 10 13 2 12-2 22-10 33-18 35-12 6-10-13-3-33 12-50zM2312 1550l28 4 20 16 23 40 7 40-5 40-15 31-20 20-30 10-30-9-20-17-20-35-8-40 5-40 13-26 20-21zM1888 1720l12-6 10 1 10 6 16 19 10 40-2 20-8 20-6 5-10 1-10-6-20-28-11-42 2-20zM1668 2200l5 0 7 10 0 10-9 20-11 5-8-5-2-10 7-20zM1515 2710l45-4 33 14 18 30 1 20-7 30-18 30-37 34-85 36-26 20-39 68-34 42-4 10-2 60-8 20-12 16-30 15-20-1-20-10-16-30 3-30 23-31 50-32 31-67 49-59 3-71 21-50 36-38z"/>
<path fill="#ffdede" fill-rule="evenodd" stroke-width="4.5" stroke="#463c3c" d="M2286 1570l24-9 30 5 20 17 19 37 5 40-6 30-16 30-22 17-20 5-30-9-23-23-14-30-6-30 4-30 14-30zM1897 1740l13-4 10 7 10 22 0 24-10 11-10-4-10-13-7-23zM1659 2220l11-10 0 20-10 3zM1526 2710l44 2 28 18 10 20 1 20-12 40-22 30-35 27-115 43-27 60-18 25-20 14-4-19 24-50 36-30 4-9-6-61 11-50 19-30 26-26 30-17zM1328 3030l12-2 11 12 6 40-6 30-11 17-16 13-14 4-20-1-20-12-7-11-4-20 4-20 23-30z"/>
<path fill="#ffd5d5" fill-rule="evenodd" stroke-width="4.5" stroke="#463c3c" d="M2286 1580l24-9 30 6 20 19 13 24 5 30-3 30-14 30-21 18-20 5-30-9-20-21-12-23-5-30 4-30 13-26zM1500 2720l40-9 30 4 24 15 12 30-3 30-23 40-30 27-40 21-70 16-15-14-8-40 7-40 16-30 30-33zM1316 3040l14-2 10 3 10 19 1 20-13 40-28 18-20-2-11-6-9-10-5-20 4-20 11-18z"/>
<path fill="#ffcaca" fill-rule="evenodd" stroke-width="4.5" stroke="#463c3c" d="M2285 1590l25-10 20 3 20 13 16 24 7 30-4 30-9 21-20 19-20 5-20-4-20-14-16-27-6-30 2-20 10-24zM1506 2720l44-6 30 9 17 17 7 30-8 30-19 30-27 25-40 20-40 12-30-1-14-16-6-30 7-40 15-30 28-30zM1305 3050l25-4 10 8 5 16-7 40-23 20-25-1-12-9-7-20 10-30z"/>
<path fill="#ffbdbd" fill-rule="evenodd" stroke-width="4.5" stroke="#463c3c" d="M2305 1590l15-1 20 8 20 23 7 20 0 30-7 19-10 14-20 13-20 1-20-10-16-17-11-30 0-20 7-23 14-17zM1514 2720l36-4 30 10 14 14 7 30-7 30-20 30-24 22-40 21-40 10-30-3-14-20-3-30 10-40 20-30 27-25zM1300 3060l20-7 10 3 8 14-2 30-16 23-20 4-13-7-7-10-3-10 5-20z"/>
<path fill="#ffadad" fill-rule="evenodd" stroke-width="4.5" stroke="#463c3c" d="M2298 1600l22-3 20 9 13 14 8 20 2 20-5 20-14 20-14 9-30-3-19-16-10-20-4-20 4-20 9-17zM1525 2720l32 0 23 10 15 20 2 30-11 30-25 30-31 21-40 15-30 5-20-7-13-24 1-40 13-30 24-30 25-18zM1299 3070l21-6 7 6 4 30-11 17-20 5-14-12-2-20z"/>
<path fill="#ff9797" fill-rule="evenodd" stroke-width="4.5" stroke="#463c3c" d="M2293 1610l17-6 20 3 22 23 6 20-2 20-10 20-12 10-14 4-19-4-21-20-7-20 0-20 7-17zM1499 2730l31-8 30 1 26 17 9 20-3 30-16 30-26 26-30 17-40 13-30-1-16-15-6-20 3-30 13-30 24-30zM1297 3080l13-6 10 3 6 23-6 12-10 6-18-8-2-20z"/>
<path fill="#ff7f7f" fill-rule="evenodd" stroke-width="4.5" stroke="#463c3c" d="M2290 1620l10-7 20-2 17 9 9 10 7 30-13 29-10 6-20 2-24-17-9-30 3-15zM1505 2730l25-6 30 2 22 14 10 20-3 30-16 30-23 23-30 18-30 10-30 3-20-11-9-23 3-30 16-36 21-24zM1296 3090l14-8 10 8 0 14-10 9-10-1-7-12z"/>
<path fill="#ff6666" fill-rule="evenodd" stroke-width="4.5" stroke="#463c3c" d="M2301 1620l19-2 10 4 15 18 0 30-5 10-14 10-16 1-10-5-14-16-2-30zM1512 2730l28-4 30 8 15 16 5 20-7 30-22 30-25 20-36 16-30 5-20-4-13-17-3-30 9-30 17-25 29-25zM1306 3090l6 0 4 10-6 7-12-7z"/>
<path fill="#ff5050" fill-rule="evenodd" stroke-width="4.5" stroke="#463c3c" d="M2297 1630l23-5 19 15 3 20-10 20-22 4-18-14-4-20zM1523 2730l27-1 24 11 12 20 0 20-6 20-22 30-28 21-30 12-30 5-20-6-10-13-3-29 9-30 21-30 27-20z"/>
<path fill="#ff3838" fill-rule="evenodd" stroke-width="4.5" stroke="#463c3c" d="M2297 1640l13-9 20 7 6 12-4 20-12 8-20-7-5-11zM1500 2740l40-7 20 3 10 5 13 19 0 20-12 30-21 24-30 19-50 12-20-7-9-18-1-22 10-30 20-27z"/>
<path fill="#ff1a1a" fill-rule="evenodd" stroke-width="4.5" stroke="#463c3c" d="M2310 1640l10 1 8 9 0 10-8 9-10 0-7-9-1-10zM1524 2740l38 0 17 20 2 20-11 25-19 25-31 20-20 8-20 4-20-2-10-8-6-12 0-20 6-23 12-17 28-24z"/>
</g>

</g>
<path d="M105.4 364.5C105.8 363.0 106.8 358.1 107.8 355.3C108.8 352.5 109.3 351.4 111.5 347.8C113.7 344.2 117.1 338.4 121.1 333.7C125.1 329.0 130.6 323.1 135.3 319.5C140.0 315.9 147.1 313.2 149.4 311.9M149.4 311.9C149.5 312.6 150.2 314.7 150.0 316.3C149.8 317.9 149.7 318.6 148.4 321.5C147.1 324.4 144.8 329.6 142.3 333.7C139.8 337.8 136.9 341.7 133.2 345.8C129.5 349.9 123.7 355.6 120.1 358.5C116.5 361.4 114.2 362.1 111.8 363.1C109.3 364.1 106.5 364.3 105.4 364.5" fill="none" stroke="#1e1e1e" stroke-width="0.85" stroke-linejoin="round"/>
<path d="M117.5 56.4L289.9 196.3" stroke="#f50a0a" stroke-width="1.9" stroke-dasharray="5.5 1.6 9.5 1.6" fill="none"/>
<text transform="translate(9.8 23.6) scale(1.05 1)">(b) Gu</text>
<text transform="translate(114.5 299.3) scale(1.05 1)">K1</text>
<text transform="translate(105.4 329.7) scale(1.05 1)" font-style="italic">πγ</text>
<path d="M156.7 374V378.2H267V374" fill="none" stroke="#000" stroke-width="1.1"/><text transform="translate(153.8 371.5) scale(1.05 1)">0</text><text transform="translate(255.9 371.5) scale(1.05 1)">1.2 km</text>
<rect x="4.7" y="4.3" width="328.6" height="395.9" fill="none" stroke="#000" stroke-width="1.1"/>
</g>
<g transform="translate(0,476)">
<g clip-path="url(#cp)"><g transform="scale(0.1)" stroke="#263232" stroke-width="7" stroke-linejoin="round">
<rect x="-200" y="-200" width="4000" height="4500" fill="#00ffff" stroke="none"/>
<path fill="#1affff" fill-rule="evenodd" d="M-120-120l3630 0 0 4310-3630 0zM990 2013l-7 7-1 10 8 20 20 17 24 3 8-10 0-10-9-20-23-17zM1080 2498l-16 12-5 20 11 15 30 7 21-12 4-20-15-20zM1280 1608l-5 22 5 14 10 8 20-5 11-17-6-20-15-8zM2180 736l-4 4 2 10 12 11 40 15 20-3 2-13-19-20-33-8zM2650 1590l-1 10 11 14 20 9 10-2 1-11-11-13-12-7z"/>
<path fill="#34ffff" fill-rule="evenodd" d="M-120-120l3630 0 0 4310-3630 0zM710 1786l-4 4 6 10 18 4 4-4-9-10zM980 2007l-7 13 1 10 16 31 30 21 20 3 10-5 5-10-2-20-19-30-24-15-20-3zM1080 2487l-21 13-7 10-4 20 12 20 10 7 30 6 28-13 7-10 2-20-7-17-10-10-20-7zM1280 1599l-12 21 2 20 10 16 10 6 17-2 20-20 2-20-4-10-10-10-15-5zM1390 3756l-8 4-4 10 12 8 10 1 14-9-1-10zM1690 1447l-8 23 6 30 12 17 14-7 8-20-2-30-10-15-10-4zM1770 409l0 13 10 10 10 2 6-4-3-10-13-10zM2160 719l-10 8-1 13 21 25 50 23 40 5 10-5 4-18-11-20-13-14-40-16zM2630 1577l-3 13 4 10 19 23 30 17 27 0 6-10 0-10-23-31-30-15-20-2z"/>
<path fill="#4dffff" fill-rule="evenodd" d="M-120-120l2547 0 23 8 27-8 1033 0 0 4290 0 20-3630 0zM360 3029l-20 11-5 20 15 16 24 4 23-10 4-10-2-10-19-17zM690 1763l-9 7-3 10 9 20 33 20 30 3 11-3 2-10-13-20-30-22zM980 1996l-10 6-6 18 5 20 11 20 20 20 20 12 20 7 20-3 7-6 3-20-17-40-33-29-20-6zM1080 2476l-20 9-15 15-8 20 3 20 10 15 20 13 40 6 20-8 13-16 7-20-2-20-12-20-16-10-20-5zM1290 1588l-22 12-7 20 2 20 17 28 10 5 20-2 22-21 7-30-4-10-15-15zM1370 3749l-11 11-3 10 4 11 20 12 34-3 15-10 5-10-1-10-8-10-25-9zM1440 2965l-5 5 5 14 10 3 10-4 0-13-10-6zM1690 1426l-18 24-1 30 19 49 10 8 10-2 20-33 2-32-6-20-13-20-13-6zM1750 384l-9 6-3 10 14 30 28 23 30 4 13-7 5-10-8-23-36-27zM1860 1313l-5 7 4 20 22 30 39 24 32 6 10-10 0-10-12-20-60-38zM1900 853l-7 7 0 10 7 13 20 7 10-7 3-13-6-10-17-9zM2140 705l-10 9-1 16 8 20 18 20 85 38 34 2 15-10 1-20-14-30-26-27-30-11-60-8zM2330 2151l-4 19 4 5 10-4 0-20zM2630 1560l-20 8-2 12 24 40 28 24 50 15 10-1 10-8 1-10-4-20-12-20-35-30-20-8zM2870 1189l10 4 2-3-2-4zM2990 1278l-12 12 7 10 15 3 8-3 3-10-10-10zM1710 2686l-6 4 2 10 14 2 1-12zM2260 893l0 16 10-2 0-13z"/>
<path fill="#67ffff" fill-rule="evenodd" d="M-120-120l1987 0 12 30 31 18 20-4 10-9 12-35 406 0 7 20 19 20 26 10 30 2 60-4 30-8 18-20 4-20 958 0 0 1261-30 2-3 7 12 20 21 12 0 1268-17 10-3 10 3 10 17 12 0 1326-35 12-40 30-25 30-4 20 4 20 40-8 60 4 0 64 0 126-10 5-12 19 0 50-3608 0 0-1732 30-5 13-13-13-23-30-14 0-691 11-12-11-10zM280 3999l-28 11-18 20-8 30 1 30 10 30 13 15 30 15 30 2 30-9 17-13 6-10 1-20-14-30-30-42-20-20zM350 3016l-27 24-5 20 2 10 8 10 22 11 60 10 6 9 5 30 7 10 22 8 20-5 17-13 2-10-5-10-52-30-3-30-22-30-27-15zM360 2045l-8 5-2 10 17 20 33 11 20-4 13-17-2-10-9-10-32-10zM670 1750l-8 10-3 20 10 20 10 10 42 20 49 4 10-6 0-18-38-40-42-25-20 0zM770 1390l-36 20-12 30 3 20 15 16 20 2 14-8 45-40 10-20-5-10-14-9-20-4zM970 1989l-12 11-2 20 10 30 13 20 21 20 30 19 20 7 20-1 15-15 3-20-6-20-17-30-19-20-26-17-30-7zM1280 1019l-28 11-2 10 20 9 30-2 26-7 11-10-9-10zM1350-33l-20 12-6 11-1 20 7 28 10 15 10 3 30-4 25-12 4-10-4-20-25-36-10-6zM1420 2358l-12 12 2 10 14-10 2-10zM1430 2957l-8 13 10 20 18 7 20-7 3-10-10-20-13-7zM1460 66l-4 4 4 12 10 9 20 3 10-4-1-10-9-9-20-7zM1690 1410l-25 20-11 30 34 90 12 8 10-4 28-44 4-40-10-30-12-20-10-9zM1730 370l-9 10 0 20 16 30 23 26 20 14 20 6 20 0 19-6 12-10 5-20-9-20-19-20-28-19-30-13-20-3zM1910 840l-10 0-15 10-3 20 18 26 20 5 21-11 5-20-12-20zM2020 1214l0 21 10 1 0-20zM2080 249l0 13 10 2 6-4 4-12-10-4zM2120 690l-10 8-2 12 8 30 14 24 20 17 80 39 20 20-16 60 7 30 19 12 20-4 11-8 6-10 3-20-15-50 2-10 23-30-8-30-22-39-20-24-20-11-90-16zM2300 336l-4 4 0 10 8 10 16 8 20-1 6-7-3-10-12-10-21-6zM2430 1914l-8 6-2 10 7 10 13 7 20-3 5-14-5-7-10-7zM2560 2100l-16 20-5 20 5 30 16 46 10 15 10 5 20-9 17-17 44-50 2-10-5-20-13-20-25-14-30-5zM2610 1550l-26 10 2 10 44 65 40 27 60 19 10-2 8-9 2-20-9-30-21-33-20-18-30-16-30-5zM2860 1179l-4 11 4 14 10 7 10-1 12-10 1-20-13-10-10 1zM2990 1268l-20 8-5 14 15 19 20 6 20-7 6-18-16-17zM3110 1700l-1 20 11 16 20 7 14-3 9-10 0-10-13-17-20-9zM3230 589l1 21 22 30 37 10 30-7 12-13 2-10-7-20-13-10-24-8-30-2-20 2zM3430 1110l5 10 15 3-9-13zM450 3640l-18 10-5 20 13 20 20 2 17-12 6-20-13-16zM1070 2466l-24 14-15 20-6 20 5 28 10 15 20 14 30 10 30 1 20-9 15-19 11-30 0-30-14-20-22-12-30-6zM1270 1587l-11 13-4 20 8 40 7 12 20 15 20 0 12-7 23-30 5-20-4-20-16-19-20-9-20-2zM1390 3728l-20 5-24 17-14 20-1 10 4 10 15 12 40 8 20-3 20-9 16-18 3-10-5-20-14-12-20-8zM1490 3588l-3 2 3 2 6-2zM1660 2296l-5 4 0 10 15 16 20 7 19-3 3-10-20-20-22-6zM1750 936l-5 14 4 10 21 1 6-11-2-10-14-9zM1840 1277l-12 13-1 20 13 30 23 30 27 23 30 15 30 10 20 0 12-8 4-20-4-20-14-20-108-71zM2110 1779l12 1-2-6zM2330 2134l-15 16-4 20 9 18 16 2 14-11 6-29-6-13-10-4zM2600 2310l-5 10 5 8 7-8zM2690 3369l-7 1-3 10 10 9 8-9zM3260 1726l-10 7-4 17 4 12 9 8 11 0 10-15 0-15-10-13zM1670 3922l-10 18 6 20 24 18 21 2 11-10-3-20-29-26zM1700 2669l-14 11-2 20 16 17 30 4 11-11-1-19-6-11-14-11zM1980 1767l-10 7-10 23-16 73 6 15 10 5 20-6 21-14 35-30 16-30-2-10-25-20-25-11zM2600 3317l-12 13 6 20 16 10 20 1 13-11-4-10-19-19z"/>
<path fill="#81ffff" fill-rule="evenodd" d="M-120-120l377 0 12 20 11 8 40 11 25-9 7-10 5-20 1481 0 5 20 13 20 34 26 30 11 20-4 13-13 16-30 6-30 337 0 5 20 12 20 36 30 25 7 50 2 70 11 50-9 30-16 16-25 7-40 897 0 0 565-40 0-20 7-29 38-11 30 4 10 16 8 80-23 0 599-20-6-50-34-20-4-25 10-7 10-4 20 6 20 19 20 71 52 30 12 0 279-15 7-8 20 5 20 18 16 0 867-20 4-20 11-10 12-6 20 3 20 13 18 20 13 20 4 0 803-17 12-4 10 7 20 14 7 0 401-30 12-90 58-10 19-15 53-21 40 10 20 66 45 22 35 9 30 7 100-166 0-6-20-6-7-10-2-14 9-15 20-56 0-21-30-4-20 2-40-12-10-19 10-3 10 18 50-2 30-318 0-13-30-23-13-10 2-10 8-7 33-931 0 4-40 23-50 1-30-8-20-10-10-32-8-30 4-20 17-23 37-4 30-6 10-47-2-40 12-28 20-10 30-91 0 8-20 57-80 36-40 28-46 20-3 70 15 24-6 5-10-1-20-14-30-44-43-30-11-14 4-11 10-16 60-9 8-30 12-30 32-30 16-20-6-23-42-17-20-50-36-10-4-10 4-6 26-1 50 12 30 38 50 8 100-1105 0 42-50 6-20-3-20-81-136-10-12-20-7-30 7-40 26-17 22-8 30-1 30 10 40 16 42 27 48-357 0 0-1539 10-11 1-10-1-11-10-14 0-118 60 6 20-2 13-11 3-20-6-22-20-29-40-32-30-13 0-613 30-4 14-7 14-20 4-20-5-20-16-20-41-13 0-96 10-4 16-17 9-30-4-20-8-10-23-9 0-1264 23-7 7-10-6-20-24-15zM-30 200l-6 10 5 20 17 20 15 10 19 5 20-1 40-22 21-22-1-20-10-5-40 4-60-7zM220 2139l-20 11 0 20 50 47 30 12 10-2 10-17-4-30-11-20-25-19zM250 378l-21 22 0 20 42 40 29 47 10 3 20-3 27-17 3-20-80-87-20-7zM280 189l-8 11 8 12 10 1 4-13zM440 1088l-17 12-5 20 3 10 19 12 10-2 10-10 5-30-7-10zM460 499l-4 11 4 11 20 17 14 2 8-10-10-20-12-10zM560 779l-10 3-45 48-1 10 6 7 20 0 20-16 13-31zM660 1726l-16 24-5 20 3 20 15 20 43 24 70 12 20-4 9-12-6-20-16-20-37-35-40-27-20-7zM750 1360l-30 2-24 18-10 30 1 60 15 20 38 14 20-2 20-19 30-32 48-31 6-10-1-10-15-20-28-15-30-6zM900 1290l-15 20-1 20 6 14 10 7 10-2 19-19 7-30-4-10-12-5zM960 1233l-11 17 4 20 17 7 20-2 10-7 3-8-3-10-20-16zM1030 286l-10 16 0 28 10 15 10 6 10 0 10-10 4-11-1-30-13-17-10-2zM1270 999l-89 31-7 10 0 10 3 50 15 20 25 10 23 1 20-10 8-11 12-20 10-7 70-28 17-15 12-20-1-10-7-10-21-7zM1360-63l-40 22-16 21-5 60-24 70 9 30 26 19 30 5 30-7 50-28 70 10 30-2 30-14 40-28 40-2 10-5-10-9-50-4-30-16-50-38-60-20-20-19-30-44-10-4zM1680 198l-14 12-8 20 7 20 15 8 10-2 10-9 10-27-1-10-9-12zM1730 349l-20 11-6 10 0 20 20 40 36 45 30 20 20 5 30-1 44-9 26-8 14-12 6-20-5-10-45-23-70-51-40-15zM2020 1150l-10 3-10 12-7 35 5 40 12 20 10 7 10 1 10-7 9-31-19-75zM2080-35l-19 15-6 10-2 20 6 10 13 10 18 4 30-8 31-26-1-20-12-10-18-7-20-2zM2520 1518l-9 12 9 18 60 37 40 57 18 18 92 49 20 5 11-4 9-10 4-20-8-40-26-53-30-36-10-7-30-8-100 1zM2660-26l-7 6 0 10 7 15 10 8 20-2 6-11-6-16-10-7zM2710 1398l-10 38 0 35 10 19 10 2 10-4 23-28 5-20-2-20-6-15-10-10-20-2zM2860 1166l-15 24 2 20 13 12 10 3 15-5 18-20 0-20-6-10-17-9zM2990 789l-6 11 0 10 6 8 10 2 10-6 9-14 0-10-9-7zM3110-1l0 14zM3140 119l-17 31-2 30 9 19 10 5 19-4 20-30 3-40-12-17-10-2zM3230 518l-60 60-40 28-20 1-40-13-5 6 3 10 12 10 50 3 40 23 13 24 2 30 5 10 10 1 10-4 40-31 80-19 12-7 13-20-2-30-15-20-52-30-26-32-10-5zM3320 137l-8 13 2 10 6 7 14-7 7-10-1-16-10-2zM3420 371l-5 9 4 10 11 1 0-17zM-30 1809l-19 11-5 10 4 23 20 12 70 15 38 40 12 7 10 1 20-7 28-31 31-40 1-10-10-12-30-2-80 15-60-26zM80 466l-10 5-4 19 14 49 10 8 10 1 30-16 13-12 10-20-7-20-26-12zM310 718l-20 14-38 38-23 30-7 20 3 10 15 10 70 6 6 4 6 20 8 10 20 5 18-5 6-10-4-12-29-18 17-50 6-50-3-10-11-11-20-5zM520 1900l-13 10-5 10 6 20 22 10 24-10 16-20-1-10-19-12zM670 3799l-10 1-13 10 4 20 29 27 30 7 13-4 10-10-4-20-24-20zM750 2419l-20 17-9 14 0 10 49 16 30 31 20 12 30 0 13-9 22-60 1-10-6-8-50 18-20 1-20-7-30-23zM900 3839l-5 11 6 10 14-10 0-10-5-4zM970 1978l-20 9-5 23 12 40 20 30 33 30 40 24 20 3 19-7 17-20 4-20-3-20-19-30-27-30-31-21-30-10zM1270 1574l-17 16-6 20 1 30 9 30 13 20 20 17 20 9 10 0 12-6 15-20 15-40 0-30-6-20-16-17-20-9-30-3zM1290 382l-8 8 4 10 14 20 20 15 60 15 60 31 20-4 20-10 19-17 9-20-4-20-14-11-20-3-60 2zM1490 190l-8 20 8 8 10 0 14-8 7-10-1-13-10-6zM1550 839l-2 11 4 20 52 100 16 14 20-4 12-30 6-60-4-20-14-10-40-3-40-21zM1660 683l-5 17 5 9 10 6 9-5 1-20-10-9zM1700 1389l-20 8-30 23-18 20-3 10 6 20 25 41 28 69 12 9 10-9 36-60 10-30-5-30-19-40-12-19zM1770 879l-10 2-20 19-20 35-7 25 5 20 12 13 20 8 13-1 45-30 14-20 1-10-23-36zM1830 1246l-21 14-7 30 14 40 31 40 23 24 40 23 50 16 30-1 10-8 6-14 5-50-5-20-86-42-50-49-20-6zM1920 639l-15 11-9 20 0 20 14 8 20-11 8-17-2-20-6-9zM2040 1319l-8 11 0 10 13 10 135 37 17-7 11-20-2-10-26-17-120-20zM2140 199l-50 16-50 5-10 10-4 20 14 40 20 12 50-2 50-48 20-10 10 5 25 53 35 33 39 37 41 14 30-3 16-11 2-10-12-20-66-44-40-44-30-26-64-26zM2590 2070l-40 10-23 20-12 30 2 40 23 81 22 39 5 30 13 26 20 15 20 1 18-32 9-20 11-10 52-22 22-18 12-30 0-40-24-60-40-50-30-11zM2700 1827l-10 6-12 17 1 30 41 50 20 11 13-1 24-20 6-30-5-10-58-52zM2870 2408l-10 3-14 19-4 30 4 30-13 30-3 20 10 22 10 5 20-1 10-6 10-20-3-20-15-30 17-40 2-20-11-20zM2990 1260l-30 10-6 20 14 20 12 8 30 6 15-4 12-10 4-20-5-10-16-13zM3180 307l-10 7-5 16 8 10 17 2 14-12 1-10-5-10zM3090 1678l-13 22 2 20 13 30 18 16 20 6 20-1 28-11 22-16 10 0 37 76-8 80 4 30 10 30 17 31 20 17 20-3 10-14 11-41-6-50-8-20-28-40-8-20 22-70-3-20-10-17-10-10-20-5-20 7-30 24-40-36-30-17-30-4zM3190 860l-18 20-5 20 2 20 11 21 20 14 20 1 20-9 17-17 23-29 24-21 0-10-24-8-50-6zM40 2860l-10 10 0 10 10 7 10-6 1-11zM60 3468l-8 22 3 20 15 13 20-4 16-19 1-20-10-10-17-7zM150 3246l-10 14 10 13 10 1 10-11 0-6-10-11zM140 1289l-4 11 4 5 17-5 3-12-10-3zM360 1720l-20 7-12 13-4 20 7 30-2 10-39 8-17 12-2 10 14 20 15 10 20 6 20-5 8-11-1-20-15-30 48-13 10-7 11-20-1-13-10-15zM520 2367l-10 4-9 19 1 20 11 30-1 20-10 20-12 10-20 2-40-20-50 5-26 13-7 40-27 40 2 10 18 3 80-11 100 5 100-35 40-5 3-27-3-3-40-3-20-16-18-28-22-60-20-24zM760 2885l-10 14 0 12 10 15 20 6 14-12 1-10-5-20-10-9zM830 2779l-20 11-13 20 3 20 10 2 20-10 10-12 2-20zM1020 2368l-20 12-9 30 9 19 26 21-12 40-3 30 5 40 14 25 50 24 30 6 20-1 31-14 13-20 11-30 15-24 30-20 14-16 4-20-2-20-16-30-10-5-20 2-50 25-110 0-4-2 4-52-10-17zM1280 3295l-10 6-10 19-6 50 6 14 10 4 30 1 90-13 20-3 10-6 6-17-6-11-60-15-50-30zM1330 2159l-7 21 7 12 20 12 27-4 7-20-14-22-20-7zM1430 1268l-16 12-2 10 8 12 20 1 14-13 2-10-7-10zM1560 1806l-22 14-32 40-13 30 1 20 6 10 20 8 20 0 40-11 60-14 10-13 1-10-7-10-24-5-20-14-20-51zM1710 1644l-10 8-19 48-30 50 24 20 25 30 18 0 22-9 20-21 8-20 3-30-5-30-9-20-17-15zM1790 2387l-10 3-6 10 0 10 6 5 10-1 14-14-3-10zM1810 3029l-20 9-8 12-2 20 7 20 23 17 40-9 20-8 20-18 4-12-4-15-14-15-16-7zM1960 1698l-20 16-8 16 1 70-24 80 2 20 9 20 20 19 20-1 60-47 38-21 62-22 30-21 26-37 3-20-3-10-16-19-20-11-60-6-40 13-16-7-24-34-20-5zM1900 828l-20 11-7 11 1 30 13 20 13 9 30 1 18-10 7-10 2-30-14-20-13-9zM2090 673l-8 7 1 20 30 70 26 20 66 30 18 20 3 20-7 60 11 36 20 23 10 2 40-18 14-13 11-20-2-60 14-40-12-30-55-94-20-10-40-1-80-21zM2630 2387l-90 73-4 20 9 10 15 5 50-5 18-10 12-14 17-36 0-20-7-13zM2670 2515l-8 15 10 30 13 10 15 4 24-4 12-10 4-10-6-20-14-12-20-7-20 0zM3090 3237l-11 13 1 12 10 16 30 16 20-4 13-20-5-10-38-23zM3170 1888l0 7 10 1 6-6-6-5zM3200 2599l-15 11-5 10 2 20 18 19 20 2 23-21 4-20-4-10-13-10zM3250 3874l-10 9-9 37 0 40 9 18 10 8 10 2 21-8 26-20 3-20-12-30-18-26-10-7zM3320 2046l-9 14 6 20 9 10 14 9 10-1 9-8 1-20-7-10-13-10zM280 1938l-11 22-2 30 6 30 17 32 38 28 42 18 30 7 30-5 19-20 1-20-5-10-25-18-55-22-55-73-20-5zM350 2999l-30 21-30 37-50 13-5 10-3 30-29 30-3 10 8 10 12 4 35-4 12-10 9-40 14-14 10-3 60 15 24 12 26 48 20 10 20-2 30-13 18-13 7-20-27-50-1-30-77-50-20-5zM1000 3340l-10 5-10 15-1 20 11 14 30 5 22-9 5-10-3-10-24-25zM1120 2988l-25 12-8 10 1 10 22 25 30 13 10-5 10-12 10-21 1-20-6-10-15-5zM1370 3717l-50 27-50 14-10 9-5 13 1 20 14 17 90 21 30 2 40-17 24-23 11-30-10-30-25-19-30-9zM1420 1970l-13 20 1 20 13 20 15 10 14 3 10-4 9-19-9-49-10-10-10-1zM1540 2558l-10 4-10 20-13 48-1 20 10 20 11 10 43 19 10 0 13-9 11-20 1-10-45-85zM1610 2258l0 3zM1640 2276l-6 4-1 20 11 20 16 15 30 14 50 3 9-12-2-10-27-30-40-21zM1770 3669l-18 21 1 20 17 16 22 4 20-10 6-10 0-20-8-15-10-8-20-2zM1840 3230l-19 10-8 20 7 24 20 9 20-8 8-15-8-27zM2020 2656l-13 14 2 40 11 22 10 5 10-2 11-15 2-30-13-24zM2080 2268l-20 11-2 11 12 9 10 0 23-9 3-10-10-10zM2170 3286l-2 14 12 14 20 3 10-7 1-10-11-12-20-6zM2170 959l-10 3-5 18 7 20 18 14 14-4 3-20-10-20zM2280 1760l-8 10-1 10 9 18 10 10 20 6 50 2 63 54-1 10-16 20-5 20 8 20 9 10 32 12 20-4 10-7 6-11-2-20-43-40-5-10 7-30-14-80-9-7-10 1-30 12-30 6-50-15zM2300 1616l-13 14 0 20 13 6 10-5 17-21-1-10-16-7zM2570 3289l-60 14-37 17-53 17-18 13-5 20 13 46 20 15 20-2 40-15 60-45 20 3 60 20 40 31 30 8 20-7 14-14 8-20 1-30-4-40-9-15-10-7-60 1-50-17zM2670 2759l-10 3-10 18 5 20 15 10 17-10 5-20-12-18zM310 3717l-20 18-11 25 0 10 8 10 23 4 30-13 8-21-13-30-15-6zM410 3618l-12 12-12 30-1 20 6 20 17 20 22 10 20-2 20-10 20-18 13-20 5-20-7-20-21-17-30-11-20-1zM1130 3658l-3 12 3 6 20 10 9-6 0-10-9-10zM1410 2337l-34 23-3 20 4 20 13 19 20-2 30-34 11-33-11-15zM1580 2940l10 10 0-16zM1690 2657l-27 23-1 20 28 27 40 10 20-6 7-11 0-20-6-20-21-24-20-4zM2340 2118l-23 12-15 30 4 30 9 10 15 5 26-15 12-30-3-30-11-10zM2430 2537l0 5zM2410 3542l-5 8 6 20 14 10 15 0 5-10-5-14-20-14zM2740 3669l-21 21-29 44-41 36-9 16 0 14 20 29 20 14 20 2 30-6 20-16 44-63 14-30-2-30-19-30-17-10zM2690 2935l-10 8-9 17 0 30 9 15 10 5 20-7 27-33 1-20-18-15zM1420 2949l-10 11-2 10 10 20 22 14 30 1 15-15 1-10-10-20-26-16zM1470 3567l-14 13-1 10 5 10 30 13 27-3 13-10 3-10-6-10-27-15zM2659 2200l21-3 2 13-32 36-20 8-10-4 1-10 13-20z"/>
<path fill="#9bffff" fill-rule="evenodd" d="M-120-120l199 0 49 60 7 20 1 20 4 1 20-15 30-47 20-12 20 6 70 37 30 4 40-4 17-10 7-10 13-50 90 0 7 20 26 37 20 14 10 1 30-12 29-20 14-20 5-20 728 0-20 30-48 40-16 20-8 70-44 119-10 11-30 17-13 23 1 30 12 22 10 4 30-73 10-9 10-1 80 34 80 7 40 34 20 8 67-56 23-41 30-17 20-4 12 2 11 10-15 60 12 40 30 31 40 14 10-8 10-18 27-69 3-20-5-20-29-40-7-30-10-20-19-21-30-21-70-23-30-38-70-10-20-7-14-20-11-60 364 0 4 30 14 20 103 56 30 8 15-4 11-10 33-100 248 0 9 30 15 20 22 20 32 20 35 10 70-2 60 26 80-4 21 10 49 52 30 15 20-6 40-40 20-9 10 1 40 23 10 2 20-6 29-32 8-30-7-6-20-2-70 13-20 0-83-55-15-20-4-30 441 0-4 30-44 110-3 80-9 50 13 30 65 60 13 20-4 20-11 20-41 50 8 10 68 26 40 7 40-6 16-7 9-10 9-40-1-70-3-12-50-15-15-13 9-70-1-30-8-20-30-40-4-60-27-80 1-40 375 0 0 389-60 33-20 2-40-4-10 4-10 17-22 79-8 8-50 4-20 7-39 41-41 33-8 17-4 30-28 27-20 6-18-3-32-28-20-8-30 9-14 17-4 30 18 40 35 50 1 20-16 21-90 39-14 20-2 20 7 50 9 6 20 2 30-4 20-14 40-58 20-14 30 0 80 20 30-24 41-64 15-10 54-17 25-13 15-20 20-46 40-19 40-26 30-9 0 554-20-7-40-29-20-8-30-3-30 8-10 14-5 21-11 90 6 16 10 4 50 0 70 33 30 7 0 218-44 12-10 10-6 20 16 90-2 20-14 6-60-4-20 3-12 5-13 20 5 30 10 23 12 7 28 2 30-3 25-9 10-10 19-40 26-8 0 303-20 5-15 10-65 66-10 3-20-6-14-23-12-110-42-50-6-20 4-24 24-46 2-20-3-10-33-34-20-10-20-1-50 13-20-5-22-13-27-30-21-9-10 3-65 46-7 10 7 60-4 60-7 20-34 42-8 88 2 20 16 21 30 7 19-8 11-20 17-70-5-60 6-10 22-8 70-11 13 9 1 20-6 10-38 27-8 23 8 14 35 26 14 30 2 20-13 30 2 10 19 20 61 42 50 50 20 8 30-2 20-9 30-43 10-7 80-10 0 327-40 8-24 16-13 20-5 30 7 30 15 19 30 15 30 5 0 752-20 7-15 12-11 20-4 20 3 20 7 11 20 13 20 4 0 337-20 8-70 49-61 18-3 60-6 18-10 9-10-1-10-10-18-46 2-20 6-10 19-10 4-10-13-15-30 25-80 23-9 17 0 50-8 100-11 20-12 11-67 29-22 20-6 30 7 80-52 0-16-40-14-14-10-3-20 7-10 11-14 39-87 0-15-50-24-39-60-18-60-27-20-3-10 3-13 14-17 50 4 30 24 40-200 0 12-22 40-20 18-18 4-20-2-50 6-20 16-10 58-11 16-9-2-30-19-40-15-12-30-7-20 4-19 15-21 69-50 32-30 50-30 30-7 19 3 50-405 0 4-40 32-70 3-20-3-10-7-6-10 0-20 9-23 17-37 43-10 7-13 0-7-7-15-73-14-30-14-10-57-23-62-67-28-43-40-4-30 12-60 63-30 59-20 10-10-5-26-42-43-40-15-30 2-20 6-10 30-30 10-20 1-50-13-30-32-29-40-15-20 0-70 33-60-2-24-7-20-60-46-50-9-20 3-60 25-50-4-10-15-1-13 11-17 28-30 16-50 39-11 17 1 20 30 81 20 29 50 29 60 4 9 7 4 80 7 21 20 13 80 13 20 12 9 11 9 40 1 90 7 20 45 60 7 90-225 0 12-30 56-40 8-10 5-20-12-20-42-33-40-47-20-7-23 7-9 10-9 20 1 30 19 60-6 80-183 0-555 0 27-50-2-30-14-30-55-80-23-70-8-11-20-11-80 1-13-9-4-20 11-40 16-15 100-1 40-8 41-16 116-110 5-20-4-20-18-27-50-29-60-21-20 7-40 64-60 57-60 93-20 6-50-9-40 31-21 28-3 30 12 40 12 15 30 18 11 17 2 90 33 90 9 40-315 0 0-227 12-13-2-12-10-10 0-1167 60 18 10-2 6-7 1-30-17-100 0-24 10-19 30-14 10-12 29-71 2-20-11-30-30-49-56-61-7-20 1-50-8-20-14-10-16-4 0-373 60 26 70 11 20 13 40 46 20 9 20-1 20-8 80-63 10-3 10 7 3 80 31 110-14 10-80 7-20 8-6 25 12 30 22 20 32 17 22 23 11 20 14 50 13 13 30 8 50 2 20-5 30-21 20-7 20 3 20 17 6 20-3 30-13 40-14 20-46 28-80 20-18 12-2 10 7 20-2 10-28 40-8 30 5 30 6 13 10 6 50-12 50-26 22-1 13 10 3 10-5 40 7 19 30 36 20 4 12-19-1-50 21-20 88-42 30-3 50 3 24-8-11-40 1-20 10-20 16-13 30-4 20 7 11 10 12 30-9 40 6 1 30-8 50-3 20-9 17-21 23-45 20-17 10-2 20 6 16 18 7 20 6 40-1 40-11 50-9 20-28 25-60 27-20 5-30-3-12 6-57 90-15 40-21 30-15 64-20 6-30 0-60-21-20-1-22 22-18 40-10 9-10 1-40-2-20-5-15-13-21-30-24-5-50 23-70 56-20 6-30-5-40-26-10-3-18 4-13 10-6 20 27 31 10 22-1 27-22 40 3 16 10 11 30 3 50-8 21-12 29-38 20-4 30 13 23 49 17 20 20 7 20-4 50-32 23-21 6-20-8-40 46-30 13-35 20 2 50 23 70 7 50 20 10 0 20-10 41-37 0-10-24-40 12-50 4-50 14-20 31-20 18-20 21-60 33-24 55-26 19-30 26-16 100-22 70 2 16-4 34-49 34-31 11-30-24-70-5-30 2-20 12-11 20 1 30 13 13 17 5 20-1 20-18 50-2 40-24 30-7 20 0 40 8 20 26 11 20-2 10-7 22-82 23-20 35-13 10 4 11 19 4 60 6 20 14 20 49 50 12 40-3 50-30 120-13 23-50-26-50-6-10-5-40-64-20-15-20-2-62 45-9 10-6 20 47 8 60 48 40 11 40 25 30 11 20 1 40-8 50 11 30-15 20-23 13-29-2-100 28-100 11-12 70 9 20-2 10-7 7-28-11-80-36-8-70 9-30-9-20-13-11-19-1-50-4-10-64-40-50 8-16-8-9-20-3-30 2-30 14-60-4-30-14-15-45-15-37-20-13-20 5-11 40-15 20-13 7-11-1-10-36-58-20-15-20-5-30 2-30 16-23 50-55 50-20 30-1 10 9 10 50 17 16 13 3 10-4 20-15 16-50 11-60 26-50 6-20-8-20-38-20-14-20 1-50 24-110 8-20-11-20-34-10-8-10-1-86 42-6 10-1 40-10 20-27 23-30 2-20-17-18-58-45-60-6-20 5-20 42-50 8-20-16-6-80-13-18-11-18-20-22-30 1-10 28-50 4-20-5-19-11-11-49-24-20-16-42-80 4-20 25-30 7-40 31-30 13-20 1-20-17-30-22-18-20-8-20 0-16 6-16 10-16 20-15 50-47 22-70-10-120 16-49-18-29-20-6-20 5-60-5-30-11-20-45-40-2-10 42-93 26-37 4-20-4-10-30-30-26-43-20-17-20-6 0-212 11-12-1-12-10-15 0-215 30-9 28-19-2-10-8-10-18-11-30-7 0-261 40-3 20-7 17-41 13-9 20 4 20 12 9 13 1 20-10 12-32 18-3 20 5 30 11 40 17 30 22 16 20 3 15-9 12-50 11-20 32-20 30-39 20-12 20-4 10 3 46 32 34 6 20-7 70-47 30-8 30 12 60 57 20 7 20-6 15-14 10-20 4-20-11-20-58-53-20-10-50-4-40-15-24-18-56-63-30-17-20 5-40 30-40 13-18 32-12 9-40 0-60-28-30-3-30 15-40 44-60 6 0-227 40 8 52 36 48 21 30 0 30-11 40-26 20-34 4-30-16-70 4-20 18-16 20-7 60 2 20-4 30-26 13-29-3-11-10-9-30-3-70 38-30 5-20-6-20-25-10-1-33 22-18 20-3 10 24 32 4 18-14 20-10 4-20-2-12-12-1-50-17-11-20-3-12 4-28 35-60-6zM660 228l-20 15-7 17 21 50 8 70 18 18 10-3 10-15 4-20 9-80-1-30-11-20-11-7-10-1zM900 410l-30 48-7 32 4 20 12 20 11 8 20 3 30-14 5-7 2-20-27-89-10-5zM1040 239l-25 21-24 30-22 40-14 40 1 10 11 10 53 26 30 11 20-7 14-20 9-40 1-60-14-51-10-14-10-3zM1220 310l-8 20 6 30 62 115 20 12 50 3 18 10 12 18 23 52 17 22 10 4 10-2 40-52 40-23 29-79 3-30-12-30-50-56-10 0-39 36-31 11-20-4-30-13zM1700 326l-14 24-2 30 13 30 49 80 7 50 7 10 20 2 100-15 31 3 16 10 2 10-6 10-43 38-30 45-41 37-3 10 34 21 15 19 12 30 32 20-1 10-37 40-11 55-20-13-26-32-14-10-20-5-10 2-10 8-50 93-10 12-10 1-5-41 15-80 10-21 36-39 11-30-9-30-48-47-20-6-20 5-37 48-33 18-40 2-10-3-13-17-16-10-21-6-20 1-14 15 3 10 10 10 28 10 14 10-14 40 7 40 86 174 13 16 17 9 30-1 40-24 10 0 34 26 26 29 44-59 63-40 23-26 60-14 26-20 10-30-6-35-10-28-24-27-2-10 16-29 40-31 5-10-2-50 7-16 15-14 5-40-10-39-26-21-6-20 12-29 31-31 1-10-32 5-30-9-60-40-90-45-90-21zM2060-75l-20 15-31 40-6 20 6 20 21 24 30 15 50 3 31-12 49-25 15-15 5-30-10-30-11-10-19-6-80-11zM2640 679l-30 15-50 69-27 17-8 10 0 20 18 30 18 10 4-20 0-30 10-20 15-6 70-3 20-21 18-30 0-20-12-10-26-10zM2820 139l-6 11-15 80-9 20-10 6-10-1-30-17-20-2-20 21-9 33-2 30 11 22 20 9 70 2 17-13 23-40 17-20 23-10 52-10 12-10 11-30 1-50-18-20-28-10-50-8-20 1zM3430 89l-100 10-23 11-17 16-11 34-2 70 23 6 24-6 16-12 40-59 20-15 20-2 40 4 20-11 2-15-12-16-20-12zM2980 1249l-34 11-8 10 2 20 14 20 16 13 30 13 20 2 20-4 19-14 4-10-3-20-13-20-17-13zM3200 796l-30 21-22 43-6 50 12 40 36 40 20 10 20 3 28-3 12-7 16-33 15-30 19-20 20-7 30 1 6-4 6-20-6-20-26-27-30-16-30-8zM3380 1265l-26 35-43 40-28 50-2 20 11 30 18 12 20-5 70-60 31-47 2-30-13-30-20-18-10-2zM3010 2316l-33 24-9 20 12 9 30 0 40-14 12-15 0-10-6-10-16-7zM3080 2550l-16 10-7 20 16 30 27 29 50 7 40 29 20 8 30-6 30-24 20-22 5-21-4-40-11-8-30 11-50 6-40 13-10-2-25-30-15-10zM3380 2700l-40 13-42 27-5 20 6 10 31 7 60-11 24-16 4-10-3-20-15-15zM10 2818l-10 7-5 15-1 40 6 26 13 14 17 6 20-3 10-7 21-36 2-20-6-20-7-10-20-11zM-20 2039l-19 11-11 13-6 17 4 20 12 11 20 7 20 1 30-8 18-11 16-20 1-20-6-10-29-16-30 0zM140 3218l-36 22-3 10 15 30 3 20-20 60 4 10 7 4 40 8 20-5 21-27 9-30 1-60-6-20-15-20-20-8zM260 2677l-20 19-7 24 7 22 20 11 10-4 7-9 5-20-5-30-7-12zM400 3439l-20 16-3 25 13 16 20-3 19-23 1-18-10-12zM580 3659l-13 11-11 20 10 20 41 30-11 50 2 30 13 20 41 30 28 14 30 7 80-10 10 7 10 22 10 8 30 4 40 16 50-53 20-25 6-20-9-30-21-20-16-6-20 6-70 48-20 7-120-79-57-26-8-10 10-30-5-33-20-16-10 0zM780 3133l-10 10-10 27-14 100 4 13 10 3 39-6 28-10 8-10 2-10-19-90-18-23zM990 3130l-20 4-10 11-30 85-1 20 9 50-8 24-16 16-64 39-42 41 39 40 33 58 10 4 16-2 44-23 60-37 30-8 40-2 21-10 10-20 2-30-7-30-20-50 7-10 37-30 12-30-2-30-10-16-50-18-40-36-20-7zM1070 2717l-18 23-7 30 2 30 13 21 10 5 20-1 50-22 40-9 30-7 17-17 2-20-9-18-20-3-50 9-60-22zM1300 3270l-40 8-17 12-23 100 0 20 10 4 50-3 60 6 40-4 40-4 20-12 11-17 11-30-2-37-15-13-55-10-46-20zM1470 3534l-32 26-11 20 1 10 16 20 26 14 50 3 20-6 17-11 5-10-3-20-19-18-40-25-20-5zM1600 3169l-20 6-20 15-31 30-11 20-1 10 13 12 20 7 30-3 60 3 10-7 4-12-1-20-14-30-19-23zM1720 3535l-10 10-2 15 10 20 20 20-1 10-8 20-46 70-20 60-2 20 9 6 40 6 40-16 60-10 30-15 12-21 2-40-14-45-33-55-17-12-30-6-19-32-11-6zM300 678l-44 22-36 50-30 26-20 11-50 15-12 18 2 15 40 2 70 24 60 11 40 24 30 7 30-7 17-16 13-22 10-8 10 0 20 12 30 32 20 13 20-2 30-15 25-30 30-90 3-40-8-25-10-6-20 4-10 10-40 71-20 14-20 1-20-7-30 2-8-4-4-10 4-20 36-50 1-10-9-14-60 0-70-11zM250 136l-11 14-6 30 2 20 15 29 30 24 20-1 19-12 23-30 3-20-75-52zM710 809l-20 16-56 75 1 20 13 10 12 3 50-8 20-15 4-20-3-70-11-12zM940 949l0 21 20 23 20 9 30-3 18-19 1-10-9-14-10-6-30-6-30 0zM1030 1890l-11 10-2 10 3 7 8 3 9-10 2-10zM1260 699l-19 11-1 10 13 10 27 2 40-8 16-4 8-10-12-10zM1350 970l-80 14-50 20-20-1-60-18-20 2-10 7-3 26 21 50 12 61 10 14 30 11 80 16 20-3 20-19 20-41 60-43 39-46-1-20-8-12-20-15-20-5zM1690 1366l-30 21-60 31-13 22 4 20 7 10 42 34 20 36 15 80-2 30-10 30-32 40-16 30-15 15-30 10-50-2-10 4-22 53-40 70-15 20-42 40-17 30-1 20 17 30 30 22 30 7 30-11 11-18 9-48 10-9 20-3 70-14 50 3 20-5 29-34 85-140 10-40 2-100-6-11-50-27-8-22 8-28 20-28 20-15 10 0 12 11 28 48 10 5 30-9 22-24 0-30-20-30-22-11-50-2-20-9-30-38-30-58-10-10zM1750 1062l-30 27-5 11-2 20 7 12 10 1 20-14 11-19-1-24zM2020 1026l-70 25-41 49-10 60-54 40-75 40-6 20 11 40 18 30 77 84 50 23 50 12 30 1 16-10 19-40 15-9 40 1 40 13 35 25 9 20 3 30 8 10 81 30 20 20 4 20-39 70-5 70-13 20-13 8-20 0-40-17-60-4-20-12-22-25-48-13-50-32-20-4-10 4-18 25-16 50-3 30 13 70-26 70-1 30 41 81 20 7 20-4 20-10 40-44 20-9 20 1 60 18 30 0 20-7 16-23 1-60 12-20 11-9 10-2 16 11 6 20-6 20-5 20 4 10 25 6 35-6 35-26 20 0 18 16 15 40 14 20 73 53 10-1 14-12 17-40 4-30-7-80-36-90-22-35-20-13-40 34-30 8-30-13-12-21 4-20 18-23 30-15 40-1 7-11 0-30-24-50-5-30 10-30 41-40 1-20-10-31-24-29-16-7-20-3-30 10-18 50-12 14-20 9-30 1-20-6-14-8-12-20 1-20 10-20 32-40 6-40 6-10 31-23 40-41 45-36 6-10 0-10-11-11-10-2-50 11-46 22-54 48-30 19-50 18-40-3-20-12-8-10-6-30 4-30 20-35 0-19-36-56-10-50-14-6zM2200 140l-30 14-50 38-30 13-30-1-40-19-10 4-21 31-4 30 11 50-1 30 4 10 21 19 10 0 29-29 21-6 26 6 20 10 4 8 18-28 12-9 20 5 31 24 69 45 50 11 100 0 15-16 10-30-5-13-60-15-70-41-21-21-19-30-12-60-10-20-12-10-16-5zM2580 1390l-20 20-12 20 2 9 20-3 20-7 10-19-7-20zM2660 1159l-10 1-20 13-26 27-6 30 12 8 45-28 17-20 0-20zM2710 1357l-10 20-30 118-9 15-11 8-50 9-40-9-24-28-1-40-5-2-48 22-9 20 8 70 9 25 20 11 30-11 30 10 14 15 36 59 41 31 18 20 0 20-19 35-10 35-7 60 7 33 40 48 20 25 20 7 20-5 30-17 28-31 28-60 27-40 5-20-5-20-13-19-30-25-9-16-15-70-35-100-3-30 12-30 30-30 20-4 30 5 22-1 18-10 9-20-9-25-20-17-20-1-40 8-20-10-20-17-40-8zM2850 1160l-17 20-6 20-2 30 9 10 56 11 10-5 13-36 1-30-14-20-10-6-20-3zM3060 1378l-13 22 4 30 29 27 30 4 10-8 4-13-6-20-38-45-10-2zM3250 1116l-9 14 5 20 14 12 9-2 7-10-3-20-13-15zM3030 2998l-25 12-16 20 1 30 16 20 14 6 10-3 12-23 5-30-2-20-5-10zM3110 3199l-60 16-10 15 1 10 29 62 30 21 40 12 24-5 16-15 26-45 1-30-7-12-10-5-40-3-30-20zM3250 3347l-21 13-7 10-2 20 14 20 26 5 30-15 8-20-1-10-17-20zM3320 3713l-10 8-4 19 4 15 10 9 10-12 9-22-1-10-8-8zM50 3399l-16 21-9 30-3 40 7 40 11 19 20 11 25 0 17-10 45-80-4-10-41-30-32-35zM70 3239l-10 11 10 2 10-2 3-10zM1170 2940l-50 11-80 26-23 13-6 10 7 20 83 90 39 28 10 1 20-12 13-17 18-50 26-50 5-30-3-40-9-4zM1340 3590l-50 9-9 11 9 11 30 12 30 2 10-4 10-11 3-10-3-16-10-5zM140 1040l-40 7-12 13 1 10 9 10 22 3 40-12 15-11 2-10-7-6zM240 1161l-7 9 4 20 13 13 10 3 0-19-7-17-3-6zM450 1058l-30 9-20 13-13 40 1 20 12 19 20 10 20 3 26-2 13-10 7-40 16-30-1-10-11-14-20-8zM550 1195l-13 15-1 20 4 9 10 3 20-7 19-15 5-10-2-10-22-9zM950 1217l-14 13-16 27-20 6-25-3-35-24-25 4-7 20 22 50-6 10-54 1-19-11-31-32-20-5-10 4-15 23-21 60-5 80-5 20-35 40-7 20 8 29 10 12 10 4 55-35 75-6 10-7 22-37 28-27 30-16 47-7 6-10 0-30 5-10 22-26 30-53 50-17 12-14-3-20-20-20-29-15zM1140 1639l-18 11 0 40-18 30 6 18 20 8 20-4 11-12-9-40 8-20 0-14-10-15zM1180 1524l-7 16 6 10 41 14 10 12 11 84 23 60 11 70 12 30 13 13 10 1 4-4 21-50 35-37 30-16 30-1 60 17 7-13-2-10-35-51-10-5-40-1-22-13-8-20-4-30 7-50-9-10-14-2-40 15-40-2-30-5-50-24zM1280 1245l-10 5-13 20-2 40 5 13 10 6 26-9 22-30 2-20-5-10-15-14zM1400 1237l-26 13-10 10-6 20 16 30 26 23 10 5 20-1 50-21 30-21 20-4 40 11 10-8 3-14-2-20-21-23-20-5-90-1zM1600 2134l-10 11-9 35 2 40-5 30 6 20 76 83 20 13 50 20 30 46 20 2 20-10 20-24-2-20-20-20-29-50-66-50-4-10 7-50-12-30-20-20-24-12-30-7zM1860 2588l-40 22 8 10 42 2 20-6 14-16-5-10-9-3zM2060 2249l-24 21-8 20 2 14 20 10 50-2 30-16 9-16-2-10-8-10-19-10-30-5zM2420 2059l-90 42-30 31-9 28 1 30 11 20 27 9 20-6 17-13 12-20 18-60 23-24 35-26-5-12zM2130 352l-10 38 1 30 19 35 10 4 19-9 14-20-3-30-30-40-10-9zM2240 585l-10 10-1 15 29 30 7 20-4 10-21 15-20 3-20-2-50-21-90-23-20-2-10 10 6 40 47 90 27 19 70 22 14 9 13 20-1 40-11 40-45 12-10 12-5 16 11 40 24 27 60 18 40 2 17-7 10-10 63-70 21-30 4-70-3-20-62-75-28-55-2-20 19-40 1-23-10-17-30-27-20-9zM2620 2049l-80 10-23 11-25 20 4 60-2 90-7 50 3 18 20 22 40 14 22 36-12 22-77 48-7 10-2 20 14 30 32 27 60 1 20 4 10 9 15 39 15 15 30 7 40-4 40-11 40-23 40 18 20 3 20-4 20-14 14-17 14-30 18-140-4-10-50-30-16-20 0-30 14-40-10-53-10-22-40-11-20-11-110-119-20-3zM3020 3526l-20 14-4 10 4 14 10 4 10-3 10-6 12-19-2-12zM90 3697l-8 3-5 10 4 10 39 21 10 0 6-11-6-20-20-12zM140 1256l-30 24-20 61-41 29-8 10 1 10 38 11 20 15 29 64 21 22 20 8 10-3 11-17 2-30-11-40-38-50-3-20 46-50 7-20-4-16-10-10-20-3zM390 1327l-8 3 8 2 20-2zM660 1679l-10 4-13 17-27 89-10 20-44 11-35 30-51 29-13 21-1 20 7 30 27 47 10 4 20-3 60-34 21-14 19-22 12-38 2-40 6-5 140 14 20-5 14-14-2-20-42-49-80-77-20-14zM950 1968l-15 12-2 20 3 20 22 50 32 42 40 40 20 12 30-2 30-18 29-44 7-20 0-20-76-63-30-18-50-13zM1200 1958l-10 6-8 16-12 60 6 10 14 2 33-12 34-30 2-20-29-26zM1780 2997l-20 13-6 10-7 60 8 20 23 30 7 20-1 30 11 40-7 60 12 33 10 7 20 3 80-15 60 5 100-40 20 6 58 61 62 29 20-4 30-32 20-12 30 5 40 30 20 44 2 30-15 60 4 40 26 40 33 26 30 0 15-16 2-20-17-70 6-20 14-12 20-8 40-5 23-25 17-11 30 0 20 5 50 34 30 6 41-14 29-27 11-33-3-50-13-40-19-20-36-14-90-5-70 1-14-12 0-30-7-20-19-13-20-4-20 4-10 9-1 44-29 48-20 9-10-3-10-9-22-45-81-90-12-20-15-44-20-16-30 0-20 15-5 25-1 80-4 12-10 7-90 45-50-18-20-2-30 7-50 26-20-1-20-22-21-34-11-40 9-30 47-50 6-20-3-10-27-30-20-12zM2120 2425l-113 75-6 20 7 50-10 20-26 30-6 20 18 70 21 40 25 15 10-1 20-13 17-21 7-20-3-20-24-60 5-30 28-22 60-10 18-8 17-20 7-20 0-40-12-32-30-24-20-3zM2420 2502l-13 18 1 30 12 18 10 7 20 1 13-16 1-20-6-20-18-18zM2520 2617l-20 13-3 10 5 20 18 28 30 29 60 27 10 11 19 55 11 18 10 8 30 7 8 7-2 10-26 26-20 29-10 25-4 30 10 40 24 42 20 7 14-9 36-35 40-28 12-17 6-40-16-70 7-40-6-10-53-20-50-53-80-28-17-19-18-40-15-20-15-10zM2860 2747l-20 14-16 29 6 12 40 5 30-7 4-20-14-23-10-7zM940 2189l-20 10-11 11-3 20 17 20 17 4 15-4 27-20 11-20-2-10-15-10zM2120 3478l-67 22-23 16-7 14 3 20 14 6 20-4 65-22 25-20 4-20-4-8-10-5zM2200 3748l-10 4-10 12-9 36 12 30 7 5 20-5 26-30 7-30-13-16zM2550 3481l-7 9-4 20 1 10 10 15 10 0 5-5 4-20-9-22zM2760 3619l-40 25-60 66-50 30-9 20 0 30 9 20 30 25 30 38 20 8 83-11 8-10 28-70 45-70-2-20-42-76-20-10zM2870 3154l-14 16-3 20 5 30 9 20 23 30 15 10 15 5 20-5 11-30-7-30-44-54-20-13zM2030 3837l-11 13-3 20 24 68 10 8 10-2 18-14 23-30 1-10-6-20-16-19-20-13-20-4zM2850 3920l-20 6-8 14 3 20 15 33 20 28 20 0 19-11 19-20 11-20 1-20-3-10-10-10-22-10zM2940 3689l-35 11-13 20 13 80 9 20 12 10 54 9 20-2 14-17 9-110-13-16-20-8zM2776 1770l24-5 15 15 10 40-4 20-11 11-10 3-20-6-18-18-5-30 8-20zM1615 1780l15-8 20-2 10 3 15 17 0 30-25 28-30 4-16-12-5-30 7-20zM-120 1790l16 10-6 22-10 9zM306 2110l43 0 65 20 11 10-15 17-40 20-30-5-20-20-13-22-4-10zM2718 2320l32-6 20 2 22 14 10 20-4 40-30 100-7 10-21 0-30-10-17-10-5-10 7-50-15-70 14-20zM1021 3260l9-10 10 8 5 12-5 6-10-4zM3346 4030l24 2 19 8 25 30 9 30 12 90-15 0-86 0-11-130 6-20z"/>
<path fill="#b4ffff" fill-rule="evenodd" d="M674-120l202 0-17 60-1 30 12 29 20 10 20-4 10-8 15-27 0-30-15-60 403 0-13 25-40 32-17 23-5 20 2 50-5 20-17 30-28 26-50 17-10-11-13-42-17-14-10 3-17 31-10 10-33 14-20 1-10-5-30-27-10-2-19 9-3 20 13 30-1 20-49 70-81 20-18 10-6 10 7 70-34 150 7 20 34 34 26 46 14 9 30-4 49-35 31-14 30 0 20 20 20 37 50 34 40 20 11 33 13 20 56 48 40 26 20 4 40-7 50 0 28-11 22-26 10-6 20 12 3 10-5 30 5 20 75 130 14 40 1 30-11 20-22 11-10 12-12 77 20 40-3 10-15 10-30 9-40 2-30-5-20-10-10-16 0-20 6-20 34-37 20-39 20-14 27-10 3-10-15-30-35-46-20-13-30-4-80 35-40 25-20 6-20-5-30-22-97-56-73 6-50-10-45-26-9-20 7-20 50-50 5-20-13-20-55-27-20 0-50 20-50-12-20 0-100 45-10-12-4-14 3-50-5-20-41-40-12-20 3-30 10-30 44-60 2-20-6-10-14-8-10 0-50 18-20-5-22-25-18-52-90 24-30-6-18-16-66-90-3-10 6-10 61-57 60-31 32-32 9-20-7-20-9-10-35-18-20 4-44 34-16 1-20-13-9-18 4-20 32-40 21-40 42-13 19-17 21-28 20-12 10 3 20 16 50 66 20 17 20-2 50-23 60-7 8-10-2-10-28-40zM770 120l-20 6-30 31-59 13-20 40-50 30-7 10 0 10 15 40-3 20-16 12-53 18-11 10-8 20 2 13 30-4 30 5 70 33 40 4 20-11 11-20 17-80 23-60-6-70 5-7 40-6 25-27 2-10-7-10zM1250 829l-28 21-9 20 13 10 24 6 30-2 9-14-9-32-10-8zM450 271l-5 9 3 10 12 13 10 1-1-14zM1475-120l170 0-5 53-10 9-10 1-110-13-19-10-8-10zM2694-120l169 0-5 30-14 20-16 10-28 8-30 2-20-5-39-25-13-20zM2953-120l116 0-8 40-21 38-30 22-20 0-10-7-20-39zM3163-120l347 0 0 181-40-14-30 0-130 38-30 18-30 32-10 0-75-195zM-120-80l0-4 70-2 40 20 60-8 20 4 17 20-2 20-15 20-18 10-32 1-40-19-10 2-50 34-40 12zM1832-20l18-2 20 7 90 70 40 23 20 6 50-8 70 8 20-2 60-27 48-55 22-8 70 9 70-7 15 6 45 33 60 0 20 7 90 74 64 26 22 50-16 1-20 9-20 21-16 29-13 70 4 70-35 19-11 21 5 20 16 15 10-2 12-13 8-54 30-8 40 0 30 11 20 15 12 16 25 60 23 19 20 8 10-8 3-9 5-50-7-30-28-50-3-30 10-23 10-8 20-5 40 5 25 11 48 60 47 33 20 5 50 0 25 12 9 10 0 20-13 20-21 17-20 6-50-13-20 4-42 36-27 30-5 20 3 10 31 40 13 30 0 20-12 20-21 10-20-5-16-55-14-14-30 7-18 17 2 20 32 50 6 30 6 60-14 90 6 28 10-8 13-30 17-17 20-7 60 0 20-15 30-34 20-7 10 6 5 14-4 70 4 20 40 70 16 40-1 20-9 10-21 6-90-3-50-8-20 6-10 29 4 30 46 37 18 33-2 10-10 10-26 6-30-1-20-11-28-54-22-16-30-6-50 14-20-4-62-48-23-30-17-70-1-50 8-60 5-11 27-29-1-10-25-40-4-30 15-30 40-40 3-10-5-5-50-12-60-26-60-12-20 1-10 10-20 39-10 8-20 4-26 43-37 40-17 27-10 8-10 2-30-6-20-10-30-27-16-24-9-30 5-16 68-64-3-10-41-40-4-10-2-40-44-50-5-20 5-30 14-20 32-10 40 1 20 7 15 12 13 20 3 20-7 20-31 40-2 10 25 30 8 20-13 40 9 10 10 1 50-11 4-40 27-50 8-40-2-20-27-40-4-30 22-50 40-50 8-20 1-20-17-6-120 26-30-3-30-12-21-15-19-25-13-65-14-30-33-32-30-10-40 9-10 8-35 55-25 19-20 9-30-4-17-14-23-35-10-7-10 3-20 20-34 49-26 80-11 20-19 17-20 0-40-14-60-13-12-10-3-20 30-70-11-90 32-70 9-40 5-11zM2880 1047l-16 13-2 20 18 20 19 0 13-20-4-20-9-10zM183-10l17-2 5 12-16 20-19 8-10 0-10-7 2-11zM2929 30l21-8 24 8 9 20-1 10-9 10-23 5-30-5-8-10 1-10zM187 170l3-4 12 34 63 90-1 10-34 39-20 16-20 2-13-7-11-20-5-60zM3405 200l25-4 31 14 5 10-11 20-15 10-10 0-18-10-13-20zM992 220l18-5 6 5-9 20-27 29-30 16-16-5-5-10 1-10zM1555 250l15-1 10 7 51 64 21 50 59 90 11 40-8 60-16 40-18 15-60 16-29 39-21 18-20 7-20-1-63-24-2-10 35-72 20-11 50-5 11-12-4-90 18-90-3-10-32-36-11-24-5-40zM3014 250l16-2 21 12 6 10-7 13-20 5-19-8-5-20zM1367 300l13-5 10 3 20 12 13 20-3 14-10 8-10 1-20-11-14-22zM1138 310l12 4 40 52 30 44 12 30-1 30-23 60 22 80-2 10-21 20-37 13-20 1-16-4-3-30 9-70-12-20-36-40-1-20 23-70 16-80zM-73 320l13-8 31 8 17 20-8 15-30 14-20-7-6-22zM2067 350l13-6 10 2 11 14 2 50 25 70 0 70 38 40 24 45 40 10 9 5 6 10-4 10-11 7-10 3-20-5-30-23-51-12-29-13-20-17-32-40-10-40-1-30 32-80-1-50zM1934 360l26-7 30 8 11 9 11 20-6 20-26 10-20-5-20-12-15-23 1-10zM1003 480l8 0-1 10zM375 560l15-5 20 2 20 13 12 20-1 20-6 10-22 20-23 11-40-4-35-17-2-10 33-40zM-120 580l11 0 19 11 80 111 73 48 6 30-12 30-17 14-20 2-90-40-50-10zM3498 580l12-6 0 26-15-10zM190 600l10-7 10 1 73 26 11 10-9 10-25 10-20-2-29-18zM1300 600l30-1 22 11 4 10-3 10-33 11-30-3-18-8-6-10 7-10zM3411 690l19-4 50 17 30 5 0 366-80-47-35-17-16-30 1-20 26-60 0-30-5-20-29-50-14-40-8-9-30-3-10-6-2-12 12-14 50-5zM505 720l15-6 9 16-8 30-11 13-10 4-10-3-6-14 4-20zM628 800l12-7 4 7 0 20-10 20-14 5-8-15 7-20zM2111 830l29-3 20 3 17 10 11 20 0 20-8 22-10 9-30 12-30 9-20-10-9-12-3-30 8-30 7-10zM800 840l10-6 50 56 42 110-3 20-9 8-72 32-10 10 6 20 18 20 68 44 30 8 14-22 5-60 11-18 80-31 20-1 20 12 21 38 3 30-5 60 11 32 20 7 50-15 20 1 20 13 5 12 1 50-5 30-11 20-54 40-5 10 7 50-8 20-20 12-30 7-20-4-20-11-10 0-10 7-30 39-20 16-20 7-10-1-10-12-3-50-13-60 26-58 20-20 50-14 17-18 0-20-5-10-52-44-50-24-10 2-20 20-10 3-78-17-25-10-37-29-20-6-70-4-140 19-20-8-7-12 4-20 27-20 8-20-7-30-29-40-1-10 15-30 30-21 30 0 60 26 60 5 16 10 11 40 13 17 20 12 21 1 7-10-17-70 20-60zM2451 860l9-2 35 32 18 10 27 9 60 11 19 10 7 10 1 20-6 10-26 20-3 10 28 25 19 25 10 30-1 30-12 30-45 50-17 30-4 37 10 35 10 6 30-38 40-27 30 2 20 15 2 10-16 60-13 100-23 50-22 30-28 13-30-2-20-18-1-13 7-10 39-20 10-20-5-62-20-44-10 0-61 76-29 15-15-5-15-18-22-42-9-30-19-12-59-8-7-20 1-20 8-20 21-20 44-30 7-10 6-90-5-20-46-6-20-8-10-16 1-20 15-30 14-16 51-24 18-50zM158 870l52 4 70 19 50 23 64 14 0 40 5 10 31 14 18 16 0 10-18 20-61 20-5 10-7 70 1 30 4 10 18 10 90 6 20 7 7 7 5 20-12 33-10 11-20 11-40 2-49-27-31-31-30-11-25-28-15-70-41-90-13-20-16-14-20-5-60 12-60-2-20 10-40 49-20 4-30-19-70-88 1-27 32-30 27-14 30-5 30 1 80 17 20-4zM1709 870l1 9zM421 890l9-4 10 3 10 11 2 20-12 11-23-1-12-10zM2010 890l10-3 10 8 15 25-2 20-13 20-44 40-49 20-23 40-14 13-30 12-30 0-30-13-18-22-1-20 10-20 19-17 20-9 60-11 23-23 52-30zM3337 920l13 3 12 17 0 10-12 12-20 3-14-15 4-20zM2119 1050l11-3 90 19 90 24 10 9 1 11-13 20-70 50-38 32-30 15-40 5-18-12-3-20 15-40-25-70 4-20zM1593 1090l27-9 10 0 14 9 3 20-9 50 2 20 40 70 0 30-10 29-10 21-10 10-6 0-8-10-10-50-22-60-14-16-43-24-10-10 8-20zM119 1130l31 6 9 14 1 30-11 30-59 44-30 41-18 15-42 15-30-4-30-19-20-25-8-47 8-27 20-11 50 3 20-4 70-51zM3192 1170l18-6 10 4 40 32 24 40 26 19 6 11-1 10-62 110-2 80-23 60 22 4 100-46 30-6 13 8 14 30 3 23-10 16-100 17-10 5-30 33-30 11-40-10-60-32-30-1-14 8-31 40-15 7-20 2-20-9-16-60-14-9-30 3-50-3-30 16-30 27-10-2-20-29-6-23 2-20 14-17 20-5 50 1 20-7 28-22 19-30-2-20-6-10-49-51-10-3-50 12-20-1-40-20-26-7-4-10 2-10 28-37 40-27 30-7 30 6 30 30 30 13 76 52 4 20-8 50 9 20 29 28 30 15 30 7 30-2 20-12 10-26-6-30-37-50-6-20 0-30-45-60-11-40 15-20 30-15 70-15zM3240 1268l-20 11-16 21-3 10 9 9 10 1 20-10 16-20 2-10-5-10zM607 1260l23 3 7 17-1 20-15 60-7 70-14 20-25 20-11 20-2 20 21 70-2 30-11 26-20 6-20-4-70-42-40-6-21 10-29 33-101 77-8 10-7 30-9 10-15 3-50-7-60 18-70 8-35-12-17-20-2-40 19-80-1-10-29-20-15-10-13-20 1-20 9-20 23-20 70-33 10 3 64 50 36 20 40 4 17-4 11-10-15-100-44-70-6-20 9-20 48-60 20-3 20 12 16 21 24 50 45 30 45 44 20-6 63-38 21-20 16-45 10-15 31-20zM300 1555l-4 5 7 0zM3486 1290l24-9 0 143-20-1-30-8-8-15 4-20 18-40zM1337 1350l23-1 40 23 10-1 50-28 28 7 14 20 8 44 10 20 60 55 50 29 17 22 12 60-2 30-8 30-19 22-60 32-30 0-40-22-40-51-10-4-30 7-10-2-14-12-3-30 24-30 6-20-11-30-32-44-10-4-10 2-50 24-20 1-22-9-17-20-2-30 16-40 35-33zM1750 1350l10-5 20 5 30 16 15 14 15 20 6 20-1 10-9 10-16 7-20 0-30-15-16-22-7-20-3-20zM2259 1360l11-6 20-1 10 5 8 12 6 20-1 20-9 20-14 11-20 4-20-3-18-12-6-10-2-10 6-20zM2057 1420l23-9 30 4 28 15 11 20-9 19-30 29-60 34-21 18-5 10 2 10 25 30 9 20-1 10-19 12-24-2-23-20-19-50-34-40-18-50 3-10 15-5 80 4 14-9zM836 1450l34-7 30 12 17 25 9 40 14 22 60 24 10 9 59 85 8 30 1 40 22 28 20 10 20 2 70-18 10 4 10 14 31 80 19 26 20 16 30 4 18-16 2-10-12-40 0-20 13-30 29-25 30-10 20 2 21 13 14 20 3 30-18 37-50 59-50 43-20 11-20-1-50-21-24-18-46-49-20-9-10 3-8 15-12 74-10 16-10 5-30-12-29-23-9-60-12-10-27 10-17 20 2 40-8 6-50 0-12 4-9 10-1 30 6 30 41 100-8 20-37 19-30 10-20 0-50-24-20 0-10 7-20 35-20 9-20-4-60-30-20-3-30 5-60 18-30 1-26-13-13-20 0-40 24-50 45-50 30-16 47-14 13-10 8-20 2-40 10-20 10-10 20-9 20-2 80 9 20-10 10-12 4-16-8-20-92-100-20-30-20-40-5-40 11-40 20-13 50-11 30-66zM920 1604l-10 15 0 19 10 21 10 7 10 0 5-6 5-20-10-29-10-8zM1068 1480l12 2 10 13 7 35-7 22-10 7-20 1-31-10-7-20 10-30 18-15zM2158 1530l22-2 40 5 20 9 12 18-5 20-22 40-15 53-10 9-41 8-29 11-30-4-24-27-13-40 69-60 14-30zM2485 1640l35 0 40-8 10 8 46 70 7 30 7 161 10 26 30 43 5 20-9 20-26 15-30 8-40 0-20-7-12-16-3-50 12-80 0-30-17-70-44-60-19-40 1-30zM577 1670l13 9 1 11-1 20-10 22-10 2-6-4-6-20 9-30zM2914 1670l36-3 30 11 24 32 7 30-2 30-9 21-20 21-27 18-3 10 9 40 1 30-31 70 6 20 12 10 53 19 90 5 46 26 75 30 31 20 20 20 14 30 2 40 12 7 130-35 18-12 32-36 40-13 0 280-50 8-35 21-20 30-12 60-11 20-22 3-30-8-25-15-35-36-20-6-10 5-10 15-9 52-11 11-20 5-20-1-40-27-40-5-59 17-17 10-9 10-1 10 41 80 15 16 40 14 60 3 70 30 11 7 5 10 14 51 20 18 20 6 120-22 26-23 10-30-1-20-9-20-56-58-10 1-15 17-15 8-10-1-10-8-12-39 6-30 6-6 10-1 40 31 20-37 10-6 100 12 0 704-30 12-22 21-20 40-7 40 3 20 16 18 30 13 30 6 0 43-12 10-21 50-37 47-14 33-3 20 6 20 37 30 5 10-3 20-14 20-34 25-30 3-23-18-2-50-5-12-10-7-20-1-30 11-15 19-11 40-13 20-14 10-47 17-13 13-7 20-1 50-12 90-8 20-29 20-30 1-10-4-14-17-26-70-6-30 4-50 12-53 10-19 35-38 3-10-12-30-57-60-10-20 8-20 40-50 9-30-5-30-27-40 3-50-7-21-10-3-30 2-13 12 1 30 20 40-10 20-38 24-20 1-20-7-64-48-13-30-3-70-30-30-33-60-37-29-80-38-80-2-30-17-40-11-30-3-30 5-40 30-10 2-36-17-26-30-21-40-3-30 8-50-1-20-11-20-10-2-50 27-100 22-23 13 12 60-2 30-11 20-16 16-20 13-20 6-60-1-70 21-20 2-20-11-14-36 1-20 8-20 16-20 29-22 30-11 86-17 48-20 0-20-16-30-19-20-39-23-47 33-13 40-20 17-30-7-50-35-50-13-40-17-20 8-34 27-9 10-7 50-11 30 9 10 37 20 9 10 7 20-9 30-22 18-30-2-24-26-4-20 7-40-4-10-25-8-15-12-13-20-2-20 27-70 1-110 12-34 16-26 14-12 20-6 70 11 20-7 6-16-16-58 0-27 10-16 30-12 50 1 26 12 18 30 7 50 5 10 14 12 70 20 20-4 59-28 11-13 33-67 13-50 34-43 13-27 7-40 4-100-34-65-10-6-50 34-70 63-81 44-13 20-6 40-10 12-180 12-70 23-60 13-20-10-3-10 7-20 30-30 5-10 1-20-7-20-3-5-10 2-20 19-30 11-20-3-15-14-13-30-2-50-30-37-28-73-4-20 4-20 16-20 22-17 10-2 10 3 20 21 68 95 12 50 10 8 40-3 20 4 11 11 19 46 10 11 10 1 20-15 50-53 9-20 2-40 7-10 62 6 25-6 5-10-24-40-16-15-31-5-39 19-10-2-11-17 1-20 29-80 7-40 26-40 28-23 30-13 20 1 30 11 30-8 15-18 10-60 10-10 15-4 47 14 93 80 20 2 5-2-32-30-7-20 6-40 18-23 20-11 60-8 30 4 30 14 37 34 11 20-2 10-11 10-45 18-43 32 3 30-26 50-2 70 6 10 22 7 70-4 30 10 30 36 44 101-2 10-12 11-60 14-24 15-4 20 7 50-9 29-15 21 1 30 24 40 60 41 28 29 9 30-8 50 7 10 14 1 40-12 30 2 30 12 20 22 7 25-2 20-19 70-30 70 4 10 30 8 20 21 13 41 5 60 11 20 21 12 75-32 6-10-14-40 7-30 16-16 50-27 13-17 8-20 2-30-9-60 4-20 25-20 27-7 40 0 10-2 6-11 1-20-9-40-15-30-28-40-4-20 5-30 12-30 55-70-5-80 10-40 22-22 80-23 27-15 11-20 2-42 9-8 51 10 10-3 10-19 0-18-12-20-28-17-20-2-21 9-29 34-60 15-60 32-20 1-5-12 1-30-37-50 0-40-9-20-51-30-59-45-17-15-12-20-1-20 5-10 83-70 50-80 46-40-3-20-52-80-7-20 8-21zM3060 2908l-30 16-65 66-19 30-26 56-40 5-30 13-52 36-8 10 1 10 30 90 59 87 100 15 6-12-9-40 2-20 11-15 20-4 20 15 8 14 12 59 10 12 60 9 44 20 13 20 16 60 7 11 20 7 40-11 53-7 11-10 13-30 4-40-12-30-17-20-62-36-10-13-20-74-44-27-1-20 15-70-2-20-18-6-40 7-10 15-12 64-10 20-18 12-14-2-13-10-7-30 9-40 15-42 33-48 14-50-3-20-14-22-20-10zM3140 2798l-9 2-2 10 11 7 13-7-6-10zM3340 3120l-15 10-6 20 6 10 15 8 20 0 23-18 6-20-3-10-16-8zM3400 3008l-6 2-5 10 11 18 10-3 3-15zM1930 2938l-2 12 12 14 20 5 10-5 0-14-10-12-20-6zM2050 2229l-20 17-46 74 6 6 20 2 100-6 40-9 18-13 8-20-6-20-20-16-30-11-40-6zM439 1680l19 0 12 7 6 13-5 10-11 3-20-13-5-10zM2353 1680l17-8 23 8 6 20-12 20-17 7-22-7-7-20zM1837 1710l6 0 6 10-1 20-5 10-3 3-10-23zM3395 1760l25-7 20 4 13 13 27 49 30 14 0 59-40 10-43 38-17 5-11-15 1-21 14-49-14-7-50-11-20-15-9-17 3-20 16-18 20-8zM1627 1780l23-5 18 15-1 30-17 19-10 6-20 1-15-16 2-30zM2788 1800l12 7 0 14-10 5-7-6-3-10zM-120 1900l70 21 48 9 20 20 7 20-1 10-8 10-56 25-34 35-17 40 3 20 8 14 20 14 20 6 110-4 20 12 50 57 60 11 22 20 7 40-4 20-12 20-23 12-20 1-40-17-20-2-11 6-13 20 4 20 10 14 23 16 27 5 90-34 50-6 60 12 20 10 12 13 1 20-17 20-94 30-17 10-16 20-2 40-12 50 0 70-21 70 3 20 13 27 30 34 20 6 39-47 19-80 36-40 16-11 4 11-12 40 4 20 26 50 29 30 8 20-20 50 6 40-10 10-65 26-60 68-20 7-20-6-50-51-10 1-81 55-21 30-50 50-2 20 11 40 1 20-26 90 8 21 50 17 4 12-14 23-59 47-19 40-5 50 8 70 0 80 12 50-2 30-8 20-17 22-100 67 0-324 14-5 6-10-2-10-17-20 0-10 37-40 6-30-14-43-10-13-20-11 0-221 20-15 7-27-7-60-5-10-15-8 0-136 50 12 26 22 9 30-9 60 7 10 27 9 50 4 20-5 10-7 26-51 7-40-3-24-10-18-70-36-12-22 3-20 33-40 8-20-1-30-13-80 10-30 19-30 1-10-21-30-8-30-37-70-40-50-11-60-11-25-20-19-40-10zM1817 1940l13-7 20-1 20 6 14 12 6 10 2 20-9 20-13 13-20 11-20 3-20-7-10-10-7-20 2-20zM161 2000l19-6 10 6 10 20-4 20-16 2-17-12-8-20zM1626 2030l14-7 20-1 27 18 9 30-11 30-25 9-20-6-17-13-7-10-5-20 5-20zM1287 2040l23-4 15 4 15 12 8 18-7 10-71 25-22 15-27 70-41 41-45 29-15 16-7 24-1 50-6 10-16 5-40-30-23-5-67 3-30-13 7-10 63-47 64-33 34-40 72-68 50-32 40-36zM1514 2090l16-4 20 16 9 28-1 30-8 27-20 29-10-5-20-31-20-34-40-12-11-14 7-10 44-4zM2442 2100l18-1 10 5 10 16 5 20-2 20-9 20-14 14-10 3-20-5-10-8-11-24 4-30 14-20zM1763 2110l18 0 17 20-4 20-14 8-20-3-12-15 3-20zM684 2240l46-4 70 24 40-7 20 7 25 20 35 40-30 25-20 6-20-6-20-15-30-29-10 3-40 32-20 9-20 3-20-7-50-36-10-2-20 7-5-10 27-30 26-20zM708 2500l12-6 20-1 16 7 10 10 3 10-2 20-17 19-10 6-20 3-20-12-8-26 6-20zM944 2510l16-5 10 3 15 22 5 40-7 40-13 32-20 23-30 12-30-4-34-33-9-20 4-10zM679 2630l51-7 39 7 19 10 7 20-1 80-5 20-30 40-55 100-14 14-20 8-20 0-20-6-60-32-10 5-30 42-20 9-20-7-31-33-1-10 36-40 10-20 0-60 30-100 16-20 30-16 20-1 40 6zM1408 2640l12-10 20 5 74 85 16 30 5 20-3 30-38 110-14 12-21-2-31-10-15-20-3-31 21-29 6-20-7-25-28-55-1-60zM2729 2640l21 3 20 12 21 25 14 30-1 20-10 20-24 16-20 2-20-8-22-20-44-70 3-10 15-10zM961 2750l19 5 6 15 0 20 6 10 47 50 21 11 30-1 60-30 30 0 20 11 5 9-3 20-22 26-100 34-40 13-70 7-50 32-20 6-30-5-20-18-8-35 8-39 43-31 28-30 14-20 0-40 7-10zM1386 3040l14-6 10 3 30 28 63 25 26 30 6 20-3 20-41 70-31 24-30 1-22-15-8-24-10-13-22 27-18 10-40 13-80 13-19 14-4 10-5 60-22 44-10 7-10-3-5-8-7-20-1-30 5-20 30-60 3-80 46-90 19-20 20-8 20 4 40 24 20 0 14-10zM575 3070l25-6 100 21 22 15 10 20-4 60-21 70-11 60-17 20-59 27-8 13 12 20 44 40 10 20-2 60-12 70-14 23-100 25-79-48-23-20-6-10-2-20 10-26 15-34 6-50-2-20-15-10-64 4-30-4-11-10-2-30-7-5-80-23-10-10-16-32-18-70 14-14 50-17 40-26 10-1 11 8 17 50 12 15 40 23 30-1 10-8 27-39 50-50 5-20 0-30 8-10zM869 3120l11-7 20-3 20 5 5 5 11 30-8 30-8 10-20 7-20-9-11-28zM1579 3280l21 0 13 10 11 30 21 30-1 20-14 60 0 20 20 53 30 56 10 51-9 20-41 50-30 72-20 21-20-1-30-17-54-65-10-20 9-10 65-5 35-15 20-30 2-20-4-10-91-80-22-14-40-14-40 11-10-3-7-10 7-12 40-12 60-123 10-9 30-11zM764 3310l16-5 20 2 20 13 6 10 1 20-10 20-17 18-20 11-20 1-20-10-16-30 3-20 6-10zM2049 3320l30 10 31 27 54 33 15 20 2 10-11 10-80 20-50 7-60 21-20-5-30-14-20-2-80 36-50 20-20 3-50-13-10-9-3-24 9-30 24-39 20-23 20-5 30 4 10-3 27-24 23-8 40-3 60 9zM250 3370l10-7 20 5 28 22 12 18 4 22-3 60 12 50-3 30-12 40-12 20-76 95-20 10-10-3-21-32-22-30-72-30-14-10-4-10 3-10 16-10 77-30 75-60 7-20-12-80 7-25zM2287 3390l13-4 10 3 10 10 3 11-16 60 0 60 9 20 104 68 30-1 40-24 10-2 16 9 7 10 2 20-14 50 2 20 38 40 26 80 13 9 30 8 17 13 11 20 5 30-3 5-20 1-30-13-50-32-40-8-30 2-50 27-27 28-12 40 4 50-5 17-10 1-60-22-20 2-10 9-8 23 6 20 27 50 45 49 13 41-177 0-6-23-10-10-10-1-20 14-8 20-129 0 11-50 45-80 20-80 23-40 28-32 20-12 68-16 22-18 35-62 2-30-6-20-21-19-40-16-22-15-11-20-7-46-20 5-60 37-60-19-30-4-10 3-4 14 2 10 22 37 20 1 50-24 10-1 20 12 14 15 9 30-8 50 10 50-5 11-10 1-60-48-67-34-16-20-67-19-18-11-12-22-11-38-6-30 2-20 35-55 30-23 20 2 10 11 20 44 10 5 40-16 70-16 61-22 21-20 28-65 33-25zM2210 3583l-5 7 5 4 3-4zM1245 3430l25-4 30 6 26 18 18 30 4 40-6 30-12 12-34 8-66 1-10-4-13-17-9-50 7-40 15-19zM2609 3460l11-5 70 23 30-4 60-19 20 0 20 5 23 20 8 30-11 28-30 20-80 37-50 30-20 3-14-18-26-74-11-46zM778 3490l22-4 20 7 40 50 20 9 70-21 30 4 12 15 3 20-12 50 37 27 28 53 16 20 99 60 7 20 2 50 14 30 24 10 80 0 21 10 9 11 5 19-4 30-26 50-8 10-17 9-20-1-20-10-16-18-24-48-10-9-20-7-30 7-70 45-50-2-20 10-30 26-20 4-5-6-6-40 6-40 12-20 53-50 23-40 5-20-15-20-33-18-50-37-10-2-10 8-18 29-32 24-30 2-23-16-10-30 4-50-59-100-8-30 2-30 9-20 15-18zM910 3650l-17 10-3 10 10 16 10 0 22-26-6-10zM693 3630l17-2 20 8 16 24-3 30-23 24-30 2-20-15-6-11-2-20 6-20 12-15zM504 3740l26-8 18 8 12 13 8 27-1 60 13 24 60 31 108 35 8 20-12 50 6 10 40 12 26-2-3-30 3-20 14-19 20-3 12 12 2 20-14 28-29 22 7 10 12 10 20 7 50-1 10 6 46 58 54 38 20 2 40-17 10 3 10 20 3 24-621 0-2-50-8-30-72-73-32-47-7-30-1-70 7-20 13-10 60-24 26-56zM550 3946l-15 14-36 80-7 20 0 20 7 10 11 2 90-21 30-6 27-15 14-20-1-20-23-30-37-30-30-9zM1793 3800l37-4 20 3 40 29 10 1 50-23 10-1 10 8 20 97 4 40-4 42-20 30-20 12-20 0-8-14-12-40-10-15-20-10-40 0-20-5-20-13-26-27-17-30-4-40 7-20 9-10zM2846 3810l4-4 9 14-1 20-8 16-10-1-5-15 4-20zM-20 3850l20-5 20 1 20 18 15 46 3 40-23 70-2 20 6 10 11 5 50-2 10 6 38 61 13 30 6 40-17 0-184 0-8-60 5-60-9-40-2-60-12-70 11-30zM1490 3880l21 0 17 10 6 10 2 30-6 22-50-49-1-13zM2732 3900l28 1 24 19 9 20 16 80-5 20-14 9-20 0-20-8-21-21-19-35-30-26-10-19 0-12 30-9zM2917 4060l13 0 10 6 5 14-15 39-22 31-8 5-10-5-11-20-5-30 6-16 10-11zM1343 4100l19 0 18 20 2 70-122 0-43 0 9-20 24-17 53-23zM3376 4150l4-10 10 3 15 37 1 10-6 0-33 0z"/>
<path fill="#ceffff" fill-rule="evenodd" d="M742-120l99 0-19 80-12 21-10 7-10 0-20-12-24-36zM959-120l279 0-3 30-17 60-3 50-5 16-10 10-10 3-20-8-85-61-35-47-10-6-60-4-12-13zM1519-120l79 0-8 13-14 7-26 1-20-7zM2733-120l89 0-7 20-15 14-30 4-20-7-10-10zM2988-120l54 0-6 20-16 17-10 1-10-6-7-12zM3184-120l326 0 0 113-30 5-31 12-63 30-106 32-20-3-15-19-24-60-32-50-5-20zM-120-50l0-5 10 1 20 11 3 13-5 10-13 10-15 4zM465 0l15 2 10 8 20 40 0 31-10 11-10 0-31-12-12-10-11-20 5-30 9-12zM2386 20l24-5 18 5 14 30 18 16 60 3 20 6 40 35 64 40 21 20 3 10-5 20-23 23-10-3-40-60-20-4-20 19-20 36-22 19-38 13-70 8-30-7-15-14-1-10 6-5 30-2 23-13 13-30-6-30-20-5-50 23-20-4-50-54-13-30 13-30 20-14 20-5zM1857 30l13-1 10 5 20 17 24 29 12 30 0 20-13 30-23 27-20 12-30 4-20-8-18-25-8-30 2-30 8-20 26-43zM659 60l31 9 8 21-9 20-15 10-14 3-20-4-15-9-9-20 13-20zM2056 90l24-5 20 2 20 7 21 16 5 10-2 20-10 20-19 20-35 13-20-7-14-16-12-30-1-20 9-20zM370 260l20-4 10 6 49 78-2 30-26 30-11 5-20-2-16-13-12-20-22-70 8-20zM198 270l12-8 10 4 12 14 3 20-15 29-20 8-10-9-2-28zM2607 300l13-5 4 15-3 20-11 12-10 4-10-6 4-20zM748 350l2-5 10-2 1 17-5 10-6 12-2-2zM1940 370l20-8 20 3 18 15 2 20-10 10-10 2-20-4-22-18-2-10zM2521 370l9-5 20-1 13 16-3 40-12 20-18 5-10-2-10-7-8-16 4-30zM1158 390l22 6 23 34-2 30-16 20-15 8-20-2-10-8-9-18 1-20 8-29 10-17zM2950 410l10-1 20 9 14 22-3 20-19 20-12 4-10-3-10-16-1-35zM1649 420l11 4 20 21 15 25 10 30 0 30-8 30-12 20-15 11-20 4-20-8-16-17-13-40 3-40 16-43 10-18zM2080 420l10 0 16 20 9 20 4 30-3 20-12 30-24 27-20 1-10-6-10-22-2-20 8-40zM2326 430l24-6 20 3 20 13 7 10 3 10-4 20-26 25-30 5-19-10-9-10-7-30 9-20zM2729 440l11-1 17 11 5 10-1 20-11 15-30 7-20 37-10 8-10-1-15-16-3-20 8-12 33-18 15-30zM686 480l14-5 7 5 16 50 31 40 10 30-7 70-33 40-33 20-11 3-14-3-5-10 7-30-1-20-42-60-7-30 10-30 42-57zM2769 530l31 6 30 22 11 22 1 30-12 25-20 18-80 5-20-5-20-13-20-27-26-23 2-10 44-6 60-40zM965 570l25-1 13 11 14 80-6 20-11 14-20 12-20 3-20-5-21-14-8-10-4-20 36-70zM1529 630l11-5 10 3 0 18-10 7-10-1-4-12zM2447 660l13 3 15 17 2 30-9 20-18 17-48 13-22 19-22 1-18-11-20-29 0-20 8-10 12-8 30-7 40-27zM-120 670l0-7 20 3 30 17 50 54 36 23 7 10-2 10-21 1-60-25-60-8zM2818 690l12-9 10 3 20 16 21 30 5 40-6 25-10-4-40-34-10-5-10 2-10 26-20 18-20 0-10-5-10-23 10-19 10-7 40-9zM3456 740l54-5 0 310-20-12-57-43-10-20 7-90-16-90 11-30 15-14zM1080 750l30-9 30 8 32 21 15 20 1 10-8 16-20 14-60 29-47 11-53 16-20 0-25-16-3-20 28-31zM2867 810l3-7 10 0 10 28 3 29-8 40-27 40 8 80-19 30-11 40-6 6-40-15-21-21-28-70-7-30 3-30 13-20 10-6 20-3 40 4 14-5 16-67zM2138 860l12 2 4 8-4 12-10 5-14-7 0-10zM157 890l33-6 29 6 110 50 9 10 0 20-31 50-17 18-10-4-49-54-41-20-50-16-7-14 3-20zM2957 890l23-5 30 10 18 15 22 36 30 9 23 15 15 20 5 20-6 20-12 10-25 9-20 1-20-5-23-15-11-20-9-30-37-24-15-16-4-30zM-39 910l19-1 20 4 20 13 9 14-5 20-31 30-13 4-20-4-13-10-13-20 1-30 7-10zM1214 920l26-2 21 12 1 20-22 26-10 6-18-2-16-20-4-20 5-10zM830 980l10-4 3 14-11 0zM2388 980l12-6 20 2 17 14 5 10 2 20-4 10-20 19-30 4-20-11-7-12 2-20zM1827 1000l23-8 20-1 20 5 16 14 4 20-6 20-24 18-40 2-20-8-12-12-4-10 2-20zM2542 1030l38-1 30 15 12 16 8 20 0 40-15 30-54 60-21 65-9 15-21 12-38-2-82-26-18-14-2-10 12-20 47-30 19-20 8-70 21-50 23-17zM619 1070l11-7 10 2 10 5 4 10-4 7-10 5-15-2-7-10zM1425 1070l15-8 10 8 1 10-11 9-10-3zM2148 1070l32-1 40 6 30 11 18 14 1 20-19 19-20 11-30 13-20 2-20-9-20-17-15-19-6-20 9-20zM1038 1080l12-3 10 4 10 19-16 90-4 10-10 5-16-5-11-10-7-20 10-60 10-20zM304 1090l6-7 10 4 10 21 2 62-6 20-6 5-10 0-10-9-6-16zM3130 1200l20-2 30 6 20 15 8 11 2 20-5 20-15 21-30 28-20-1-30-14-26-24-9-20 1-20 14-19 20-14zM416 1220l34-7 22 7 6 10-1 10-14 20-23 9-26-9-10-20 2-10zM1150 1230l20-6 20 3 16 23-1 40-5 10-20 15-20 2-18-7-24-30-1-20 5-10zM2640 1260l20-9 10 1 10 8 8 20-6 110-7 30-15 28-20 9-7-7-21-120 5-40zM2828 1270l22-3 20 10 15 23 3 20-2 10-18 20-38 15-30-6-25-19-5-10 16-30 22-20zM240 1300l20 0 10 8 11 22 13 50 6 9 29 21 6 10-1 20-5 10-19 11-14-1-14-10-22-28-40-28-20-34 1-20 6-10zM3147 1330l3-10 10 3 66 37-6 50-10 22-10 2-10-7-53-47-5-10 0-20zM2939 1350l14 10-3 6-10-4zM1457 1360l13 1 11 9 20 70 18 30 41 34 60 32 17 24 6 40-8 40-15 20-39 20-31 15-30-1-22-14-20-30-28-100-38-70-6-30 1-20 16-40 16-20zM1330 1370l20 2 13 8 11 30-6 20-16 20-32 19-20 0-18-9-8-10-4-20 6-20 14-19 20-15zM2258 1370l22-5 19 15 4 30-13 21-30 6-16-7-9-10-3-10 6-20zM1778 1380l12-3 20 7 13 16 0 20-13 8-10 0-18-8-12-20 0-10zM488 1420l32-4 10 4 6 10-9 60 1 20 32 43 7 27-7 25-20 11-20-4-18-12-38-30-14-20-1-90 11-21zM979 1430l1-3 10 1 0 23-10 13-4-4zM2098 1440l13 0-1 10-10-1zM854 1450l26 3 11 7 12 20 2 20-8 30-25 40-6 20 8 40 26 45 20 23 20 13 10-1 16-10 34-42 20 1 21 21 18 60 28 50 5 40 28 26 7 24-1 40-6 11-10 6-20-5-10-9-10-33-1-30-6-10-56 0-47-30-20 3-40 36-20 4-10-8-14-25-57-50-49-60-18-30-14-40 2-40 18-20 38-10 14-9 3-11-3-40 10-30 20-24zM147 1590l13-3 50 3 50 11 20 14 11 15 0 20-7 10-24 14-20 2-50-13-21-13-18-20-9-20zM1409 1600l11-7 10 1 8 6-3 20-15 8-10-4-4-14zM2118 1600l32-9 17 9 5 10 3 20-8 30-14 20-13 9-30 5-10-4-16-20-3-20 6-20zM2525 1690l15-2 10 5 10 15 1 12-11 6-20-10-9-16zM2368 1700l5 0zM43 1710l7-4 13 4 10 10-3 13-20 6-10-6-3-13zM2930 1720l10-5 19 5 10 20-1 10-8 8-20-6-10-12zM1393 1760l17-4 20 6 17 18 4 20-3 20-14 20-14 12-20 8-30-5-16-15-7-20 7-30 16-17zM1640 1780l20 6 6 14-4 20-12 14-11 6-19 0-13-20 5-20 7-10zM3343 1790l17-6 15 6 10 20-5 11-20 6-16-7-7-10-1-10zM2585 1800l5-2 10 6 10 20 10 96 24 60-8 20-16 10-20 4-23-4-17-17-6-23 2-50 19-100zM710 1890l30 0 10 7 0 13-10 7-20 5-20-5-6-7 2-10zM-120 1930l0-8 27 8 16 10 17 20 3 10-5 20-20 30-18 19-20 12zM822 1930l18-8 20 1 30 22 11 25 5 50 28 70-2 20-17 20-25 8-30-5-84-43-18-20-11-30 8-30 35-26 16-34zM2229 1950l31-8 30-1 20 6 17 13 11 20 0 20-10 20-28 25-20 8-20 1-30-11-25-23-6-20 2-20 9-17zM1838 1960l22-4 10 6 4 18-14 19-20 7-14-6-4-20zM2829 2000l11 1 6 9 4 48 10 7 90-8 100 7 22 6 38 23 80 18 33 29 5 20-8 16-10 9-20 4-50-12-20-5-20 1-42 37-38 16-80 8-30-6-11-18 12-40-6-20-38-40-22-40-35-13-17-17 6-20zM1632 2040l18-8 25 8 11 20-2 20-7 10-7 5-20 1-20-16-7-20zM569 2050l81-6 20 9 16 17 6 20-3 20-19 14-40 7-30 4-40 19-20 1-11-5-10-20 3-20 18-32zM2109 2080l41 5 50 30 25-25 35-7 14 7 5 10-3 10-16 14-40 6-3 10 5 20-1 20-11 16-20 12-70 4-70-10-20 2-16 46-14 18-20 11-20-1-21-18-25-50-6-30 5-30 7-12 20-10 80-3 50-33zM2441 2110l9-3 11 3 11 10 6 20-8 29-20 13-20-8-10-24 3-20zM1528 2130l11 10-2 20-7 9-11-9-1-20zM-10 2180l20-8 20-1 30 13 13 16 7 20-4 20-8 10-18 11-20 4-20-4-10-7-18-44 0-20zM3507 2180l3-1 0 196-50 6-40 13-25 16-45 48-10-1-40-49-60-21-7-7-1-10 12-40 62-80 24-22 30-15 83-13zM177 2240l23-1 13 21-3 24-17 16-23-2-13-18 2-20zM698 2250l42 2 33 18 6 10-3 20-16 19-16 11-14 6-20 1-20-10-15-17-10-20 2-20 13-13zM1512 2270l18-8 10 0 20 14 15 24 5 20-1 10-9 10-30 6-27-16-13-30 4-20zM2310 2270l30-5 20 2 25 13 17 20 12 30-1 30-13 11-30 11-30 5-20-4-30-21-18-22-7-20 5-20 20-20zM829 2280l11-3 20 8 11 15 1 20-12 8-20-8-16-20-2-10zM2032 2340l48-5 40 5 6 10-9 20-44 50-33 25-94 35-11 10-23 40-32 7-20-4-10-8-8-15-9-40 1-20 6-13 15-17 15-7 40 7 20-5 60-55zM269 2390l31 3 15 7 6 10-6 10-55 21-40 9-15-10 1-10 24-25zM3032 2400l38-3 100 6 26 7 1 20-21 60-16 10-40-1-100 15-20-3-15-11-14-30 0-20 7-20 22-20zM1575 2430l15-6 10 1 10 5 14 20-1 30-15 20-28 8-10-4-11-14-4-30 9-20zM69 2440l11-7 10 2 5 15-5 7-10 5-10-4-3-8zM2272 2470l18-9 10 1 9 8 3 20-10 50 4 20 64 99 55 51 3 20-12 60 5 20 7 10 22 15 20 7 27-2 43-17 13 7 3 20-5 60-13 30-25 40-9 30 8 60 8 12 22 8 5 20-9 20-12 10-46 9-60 9-19-8-12-20-12-70 6-70-48-90 0-20 15-50-2-20-7-10-31-18-40-10-20 1-30 14-20 2-21-9-12-20 5-30 38-50 34-110 15-80zM728 2500l22 5 10 15-3 20-17 15-20 3-10-4-10-14 1-20 6-10zM123 2520l27-2 20 14 13 28 14 70-2 30-20 60 29 70 4 30-5 20-35 50-15 50-13 12-20 3-12-5-6-10 0-20 15-40 3-70-9-30-27-30-3-10 6-50-15-120 15-30zM943 2530l17-6 11 6 10 20 1 30-6 30-15 30-11 12-20 9-20-3-10-7-13-31 4-20 11-20zM3488 2610l22-4 0 50-20-9-14-17 0-10zM2949 2620l21-3 13 13 2 20-5 30 8 10 27 10 65 11 50 17 30-5 16 7 9 10-5 7-50-15-30 30-18 38-12 42-12 18-48 31-20 4-12-5-10-20-17-110 0-70-13-30 0-20zM699 2660l31-1 18 11 28 60 0 20-36 50-34 70-16 23-30 16-20-2-15-7-23-20-22-35-40-45-5-30 8-40 17-39 20-16 20-4 60 0zM1424 2660l16 0 20 15 33 35 20 30 6 40-9 27-15 23-15 15-10-10-46-95-10-50 3-20zM2706 2680l14-10 10 1 20 13 17 26 3 20-5 10-15 8-10-1-20-12-15-25-3-20zM3506 2730l4-2 0 131-30 4-13 7-37 58-10 9-20 7-30-3-60-38-30-8-20 9-21 36-19 22-30 15-20-6-7-21 0-30 11-20 37-20 29-44 50 1 70-22 70-8 26-17 34-47zM317 2800l13-2 5 12-5 6-10-1-5-5zM1711 2820l19-7 20 1 70 19 120 20 63-23 77-14 28 4 12 10 20 40 20 18 30 6 50-10 13 6 8 10-10 60-10 20-11 10-20 8-30 3-20-5-20-14-47-52-18-40-15-12-20-5-40 8-40 22-30 5-13 12-17 53-30 4-30-4-50-37-20 9-14 25-16 15-20 7-20 0-10-4-10-12-9-36 12-80 9-20zM948 2860l22-7 13 7 5 20-13 10-25 4-16-4 6-20zM2872 2860l28-6 27 16 9 20-1 10-15 16-30 1-20-12-10-25zM258 2910l12-2 17 12 4 20-11 17-10 3-10-4-10-15 0-21zM883 2920l17-7 6 7-6 13-10 6-10-7zM2878 2970l22-5 14 5 7 10-8 30-13 14-20 11-40 6-4-11 20-40zM3499 2990l11-4 0 251-20 8-30 27-60 79-20 1-24-22-46-60-4-20 74-29 29-21 19-20 46-80 4-20 2-60 8-20zM1 3000l29 0-1 10-29 18-20 9-1-7 8-20zM3285 3010l15-7 20 4 16 23-4 30-24 20-28 5-14-5-7-10 4-30zM-35 3050l5-5 6 5 25 80 1 20-11 60 0 40 4 20 22 30 1 10-18 20-20 8-10-1-16-17-29-60-15-12-30-6 0-146 30-10zM584 3090l16 0 80 18 17 12 9 20-3 40-25 60-11 50-20 20-37 10-30 0-20-8-52-42-18-30 3-30 49-60 9-40 9-11zM3079 3100l11 4 0 26-4 10-6 8-10-17zM1709 3120l21-4 24 14 9 20-3 15-10 13-20 7-20-7-8-8-6-10-1-20zM1446 3130l14-8 10-1 16 9 5 10-1 50-10 31-10 9-20 5-11-5-6-10 4-70zM1966 3130l17 0 18 10 1 10-6 10-16 12-30 7-12-9 2-23 10-10zM1241 3170l19-10 17 20 43 20 5 10-1 10-24 16-37 4-31-10-7-10-1-20zM272 3210l26 0 2 10-6 10-14 3-11-3-5-10zM310 3250l10-6 20 0 33 16 9 10 7 20-1 10-8 11-20 7-20 2-23-10-13-30zM3007 3290l3-8 5 8-5 4zM1577 3300l13-4 3 4-3 5-10 3zM404 3310l26-6 10 4 9 12-2 30-17 16-30 6-10-2-9-10 9-37zM765 3320l25-4 20 16 3 18-3 10-20 23-30 4-20-17-3-10 4-20zM1510 3350l10-7 20-2 15 9 23 30 3 20-5 60 10 40-6 4-8-4-23-20-49-23-16-17-4-20 3-20 12-30zM1866 3370l14-5 25 5 8 10-3 13-10 6-20 0-13-9-5-10zM2912 3390l18 2 10 10 6 18-6 21-20-3-17-18-1-20zM563 3400l17-7 10 0 27 17 26 40 4 30-7 33-20 48-34 29-36 11-30-10-32-21-16-20-3-20 20-50 7-50 14-14 40-5zM3115 3410l5-5 10 3 4 12-4 9-10 0zM1258 3440l22 2 20 12 13 16 12 30 3 20-5 20-13 11-20 4-30-2-20-8-15-15-10-20-2-30 7-20 20-16zM2756 3500l14 0 10 7-2 13-12 10-26 10-15 0-11-10 4-10 13-10zM3295 3520l55 1 50-9 16 8 5 10 0 20-25 90-12 20-14 8-60 10-27 12-10 10-33 53-20 7-10-2-10-8-24-50-29-40-7-52-26-28-2-10 5-20 13-21 20-5 24 16 26 39 10 5 10 0 48-54zM789 3530l21 3 40 40 20 12 60-32 30 0 10 10 2 17-10 20-22 16-20 6-50-4-30 28-10 5-20-5-23-26-16-40 1-30zM-120 3540l50-8 10 4 8 14 16 120-4 20-8 10-22 13-50 4zM246 3570l14-4 10 3 8 11-6 30-19 20-13 6-10-11-3-15 1-20zM2048 3600l32-3 29 13 2 10-6 10-15 8-30 2-32-10-4-10 6-10zM2291 3610l29-8 30 4 19 14 11 20-5 80 6 50-11 12-20-5-43-57-17-11-48-19-9-10-2-20 9-15 20-17zM685 3650l25-7 20 14 5 23-13 20-22 7-18-7-8-10-2-20zM1933 3680l7-10 20 9 12 11 8 20-10 8-20-5-13-13zM832 3730l18-9 25 9 8 20-10 20-23 10-19-10-6-20zM502 3760l18-7 10 1 10 7 8 19-1 20-10 30-7 10-19 10-21-3-10-7-9-20 5-30zM3100 3810l20-5 17 5 10 10 7 20 0 40-24 94-10 5-13-9-26-80 2-50 7-19zM1084 3850l16 0 7 10 2 20-9 21-11 9-19 5-13-5-7-20 10-23zM2604 3860l6-6 10 0 11 16-11 9-14-9zM-10 3900l10-2 13 12 4 20-5 20-12 10-11-10-8-30zM415 3910l15-4 20 7 18 17 11 20 5 20-2 20-22 33-10 6-20-2-20-13-20-27-5-27 4-20 11-19zM2167 3930l23-5 30 1 20 11 7 13-1 20-16 30-50 43-50 23-10-13-5-23 1-30 10-30 14-21zM2741 3930l9-8 20 8 7 20-7 25-10 3-10-9-8-19zM1235 3950l15-9 10 3 4 6 7 40-11 18-20-1-15-17-1-20zM728 4060l22-4 30 3 60 32 70 18 64 51 19 30-223 0-129 0-3-20-8-12-20 10-13 22-52 0-1-40 16-24 30-11 50 9 10-3 50-45zM2097 4090l13-6 10 1 7 25-2 20-21 60-34 0-32 0 3-30 19-41zM2249 4140l11-8 10 0 50 15 26 23 4 20-111 0zM1254 4180l36-7 19 7 6 10-5 0-64 0z"/>
<path fill="#e8ffff" fill-rule="evenodd" d="M3211-120l299 0 0 70-30 7-29 13-42 30-29 14-80 8-10-12 2-30-6-20-16-14-40-14-10-9zM1156-100l14 1 10 7 10 32-10 34-10 9-20 0-29-23-5-20 14-25zM2319 50l31-4 26 4 14 7 9 13 1 10-4 10-16 14-30 12-20-2-10-6-18-28 5-20zM1851 100l19-6 15 16 1 20-16 23-20 1-11-14 0-20zM2056 100l14-7 20-1 20 6 18 12 7 10 1 20-17 30-29 17-20-1-10-7-13-19-5-20 1-20zM2487 120l14 0 9 9 3 11-3 30-11 20-19 7-9-7-3-10 4-40zM391 330l9-2 10 3 14 19 0 20-14 18-10 1-10-4-10-15 0-27zM1955 370l15-1 19 11 4 10-3 10-20 5-13-5-11-10-2-10zM2080 440l10-2 10 8 10 24 1 20-7 30-24 29-10 4-13-3-7-10-4-20 9-40zM2341 440l19-1 20 13 3 18-17 20-26 4-16-14-2-20 8-13zM1645 470l15-3 10 4 18 19 7 20-5 40-20 24-10 4-20-4-15-14-10-20-3-20 4-20 14-21zM667 570l3-4 10 2 11 22-11 8-10-8zM2752 580l18-8 20 1 12 7 7 20-9 21-11 9-29 9-23 1-17-14 3-16zM2408 680l32-10 22 10 6 20-5 20-23 20-30 0-18-10-7-10 3-20zM2339 730l11-3 6 3 6 10-2 8-14 2-8-10zM3505 770l5-1 0 192-30-9-12-12-8-20-3-40 3-43 12-47 9-10zM1081 780l29-10 19 10 5 10-7 20-37 26-28 4-13-10 4-20zM2865 860l5-6 5 6 0 20-5 7-8-7zM188 900l32 5 22 15 12 20-5 10-9 3-30-6-33-17-7-10 0-10zM2955 900l25-8 20 8 10 9 8 21-2 10-8 10-28 4-20-10-13-24zM2784 940l16 0 20 20 6 40-6 26-10 4-10-7-25-43-5-20 3-10zM1217 950l13-10 10 5 0 13-10 9-10-1zM2387 990l13-7 10 0 19 17 2 20-11 19-10 5-20 1-17-15 0-20zM3044 990l16-7 20 5 10 12 1 10-6 10-15 7-23-7-8-20zM1827 1010l33-10 27 10 7 10 1 20-15 17-30 4-27-11-9-20zM2554 1040l36 5 20 18 12 37-5 30-13 20-69 70-21 50-14 11-30 4-40-10-30-13-9-12 1-10 18-17 46-23 10-10 7-80 20-40 27-20zM2155 1080l45-2 36 12 11 10 3 10-4 10-16 13-40 12-20-3-20-11-10-11-6-20 6-11zM3124 1210l26-4 20 6 13 8 14 20-2 30-15 20-20 13-20 3-20-6-20-13-13-17-4-20 4-10 13-17zM1148 1250l22-8 16 8 7 20-8 20-15 7-20-7-11-20zM2648 1270l12-2 10 6 8 26-1 90-7 26-10 15-10 5-10-8-18-88 2-40 11-20zM2822 1280l28-6 12 6 13 20-4 30-11 13-20 11-30-1-21-23-1-10 10-20zM233 1330l17-10 15 10 6 30-9 20-12 5-10-2-13-13-4-20zM3157 1360l13 0-10 6zM1447 1380l13-6 10 3 9 13 18 80 13 27 40 37 56 26 13 20 1 29-8 21-12 13-32 17-15 20-23 9-30-14-16-25-1-20 18-30-2-10-24-50-41-50-12-30 2-40 8-20zM2254 1380l16-7 10 1 15 16 1 20-5 10-17 10-24-4-10-14 0-12zM1306 1390l14-7 20 1 15 16-4 30-18 20-13 6-20-1-16-15-2-10 5-20zM837 1460l23-6 20 6 11 10 7 20-3 20-9 20-16 18-18 12-12 5-20-3-13-12-9-20 0-20 7-20 15-18zM509 1550l11-3 20 6 12 17-2 20-10 8-10 0-14-8-15-20 0-10zM2117 1610l23-6 10 5 8 11 3 20-4 20-17 22-10 5-20 1-19-18 0-30 9-16zM203 1620l27 0 17 10 3 10-18 10-29-10-7-10zM746 1630l14-5 30 5 30-4 30 17 45 47 21 30 8 20 2 20-16 27-20 17-20 6-30-5-23-15-69-100-10-40zM991 1740l19-10 20 20 10 30-10 20-20-6-22-24-3-20zM1387 1770l13-4 20 2 15 12 4 10-3 30-18 20-18 8-20-1-22-17-4-10 2-20 14-19zM1624 1790l16-7 18 7 4 20-12 20-20 9-16-9-3-20zM2587 1870l3-7 10 0 2 7 8 90-6 20-14 3-14-13-7-30 4-30zM1095 1880l5-3 11 13-1 13-9 7-10-10-1-12zM847 1940l23 7 16 23-2 20-14 12-20-5-21-27 2-20zM-120 1950l0-3 11 3 15 20-3 20-6 10-17 10zM2260 1950l40 5 18 15 5 10 1 20-9 20-15 15-20 10-30-1-20-9-16-15-8-20 2-20 12-16 20-10zM842 2040l28 0 20 14 10 13 5 13-5 20-20 9-30-10-29-29-2-10 5-10zM1647 2040l13-1 15 11 4 20-9 16-20 2-17-18 1-20zM625 2070l15-6 20 9 6 17-4 10-12 8-20 0-11-8-2-20zM2103 2100l17-1 20 9 8 12 5 20-6 30-17 15-20 7-20 0-20-7-15-15-3-10 3-20 14-20zM2930 2100l30-7 28 7 22 17 13 23 4 20-8 20-19 10-30 4-33 16-18 0-1-10 20-20 4-10-18-50 0-10zM2438 2120l12-5 10 3 9 12 2 20-11 18-10 4-10-2-10-10-3-20zM1970 2190l20 3 17 17 2 30-13 20-26 9-10-4-14-15-5-20 4-20 15-17zM3398 2230l112-6 0 133-80 8-50 9-20-1-30-17-13-26 2-40 14-30 27-22zM698 2260l32-3 30 14 7 9-1 20-18 20-28 10-20-7-10-10-8-13-3-20 5-10zM1525 2280l15-3 16 13 5 20-7 10-14 4-20-12-3-22zM2330 2310l22 0 9 10 0 10-11 7-20-6-5-11zM2034 2350l46-4 15 4 6 10-9 20-23 30-39 30-30 9-20 0-13-9-3-10 5-20 20-30 21-19zM3012 2430l18-8 20-2 30 7 24 13 8 10-1 10-21 16-50 13-30-8-9-11-3-20zM1579 2440l21-2 13 12 3 10-2 20-14 17-20 3-10-6-7-14 1-20zM718 2510l22-2 12 12 1 10-13 17-20 4-13-11 1-20zM949 2540l11-2 10 8 6 34-11 40-15 20-10 6-20 0-9-6-6-10-2-20 17-40zM122 2580l18 3 10 10 12 27 2 20-4 17-18 13-18-10-13-30-1-32zM2271 2600l9-6 10 1 20 13 20 24 22 38 22 60-10 20-14 5-30-1-30-9-25-15-15-20-5-20 2-30 12-40zM1429 2680l11-4 20 11 37 43 10 30-7 30-10 11-10 3-10-6-20-26-23-52-3-20zM596 2700l24-3 80 5 15 8 31 30 1 10-24 40-28 80-25 26-20 4-20-7-23-23-17-47-22-33-7-20 9-45 10-15zM2726 2700l4-2 10 6 6 16-6 6-10-3-7-13zM2989 2740l21-6 20 2 27 14 3 10-1 20-19 38-20 16-10 2-10-4-10-12-10-23-5-27 4-20zM150 2780l10-6 10 3 10 13 1 30-15 30-16 15-10-4-3-11 2-40zM3499 2790l11-8 0 38-10-1-8-9zM3362 2840l38-3 22 13-3 30-19 25-10 4-20-3-28-26-3-20 7-10zM1721 2850l19-9 30 5 27 14 14 20-3 10-8 6-40 16-9 8 3 30-4 12-10 14-20 7-20-4-17-19-1-30 20-30 8-31zM2399 2860l21 1 20 7 52 32 4 10-4 20-22 24-20 8-20-2-20-9-23-21-9-20-1-20 8-20zM1849 2890l31 0 10 5 10 15-1 30-9 17-10 7-20 4-20-4-16-14-4-10 1-30 9-13zM2438 3030l12-1 10 4 18 27 16 60-14 13-40 2-16-15-7-30 0-30 8-20zM-64 3110l14 2 11 8 8 20-1 20-18 33-20 10-20 3-30 0 0-84zM578 3130l22-7 40 6 20 8 11 13 0 20-30 50-11 46-19 14-21-1-40-17-20-14-12-18 1-20 5-10 28-30zM1712 3130l18-6 20 11 6 15-8 20-18 7-20-10-7-17zM1456 3200l4-10 8 10-8 11zM331 3280l9-9 10 0 10 8 1 11-10 10-12 0-9-10zM762 3330l18-6 20 10 4 16-14 23-20 6-19-9-4-20zM1517 3380l13-2 8 12-1 20-7 13-10 4-10-4-5-13 3-20zM578 3420l12-8 10 2 18 16 9 30-7 19-10 4-20-13-14-30zM1237 3460l13-7 20 0 25 17 16 40-1 14-10 12-30 4-20-8-13-12-12-30 3-20zM524 3500l26 4 19 16 6 10 0 20-5 10-20 13-30-6-20-21 1-26 9-12zM3296 3560l24-7 20 2 20 8 15 17 4 20-5 30-14 17-20 9-50 5-23-11-5-20 7-30 11-24zM937 3570l13 10-4 10-16 11-14-1-6-10 10-14zM-120 3620l20 1 10 8 4 11-4 16-10 6-20 3zM686 3660l14-8 20 5 7 13-7 22-20 8-17-10-4-10zM848 3750l14 0-2 6-10 1zM498 3780l12-8 10 0 9 8 1 20-10 18-20 7-10-5-3-20zM748 4100l12-3 20 8 13 15 8 20-6 50-35 0-65 0 43-80zM876 4140l24 0 30 15 25 25 4 10-9 0-80 0-7-40zM2296 4190l14-5 8 5z"/>
<path fill="#ffe4e4" fill-rule="evenodd" d="M3319-120l191 0 0 41-10 1-50 9-31-1-39-18-40-10-16-12zM2069 100l31 0 27 20 0 30-14 20-13 9-20 5-10-3-17-21-5-20 2-20 5-10zM1954 380l16-4 10 4 5 10-5 7-10 2-15-9zM2074 460l6-7 10-2 10 10 5 19-5 30-20 27-10 3-10-3-6-17 4-30zM2341 460l9-5 10 2 4 13-4 5-10 3-10-6zM1639 490l21-5 20 15 6 30-6 19-9 11-21 5-10-5-15-20-1-30zM2425 680l25 2 9 18-9 24-20 10-20-4-11-10-3-10 10-20zM2965 900l15-3 21 13 6 20-7 11-20 5-20-11-7-15 2-10zM2386 1000l14-10 10 1 10 9 4 20-5 10-19 9-19-9-3-10zM1850 1010l20 3 10 7 2 20-12 10-20 2-22-12-2-10 4-10zM2548 1050l22-1 25 11 14 20 5 30-14 32-59 48-21 10-10 2-10-5-15-37-3-30 6-30 11-20 21-19zM2157 1090l33-6 30 8 12 8 3 10-15 17-30 8-30-9-13-16 1-10zM2438 1220l42-7 17 7 5 30-4 10-18 11-40-4-30-17 0-10 8-10zM3116 1220l14-6 20-2 20 7 13 11 9 20 0 10-10 20-11 10-21 9-20-1-29-18-7-10-3-20 9-17zM2641 1290l9-6 10 1 11 25 1 70-12 36-10 3-6-9-12-50-3-40zM2818 1290l22-10 10 1 13 9 5 10-1 20-17 21-30 5-19-16 1-20zM1457 1390l13 5 11 35 0 50-11 14-10-1-16-13-12-30 6-40 12-17zM2252 1390l18-10 16 10 2 20-8 10-20 3-10-7-3-16zM1306 1400l14-6 20 7 3 19-13 20-20 6-13-6-5-20zM849 1460l19 0 12 6 12 24-7 30-15 19-18 11-12 4-20-4-11-10-7-20 3-20 12-20zM2114 1620l16-7 10 1 12 16-3 30-16 20-23 3-14-13-2-10 3-20zM1493 1630l17-9 20 6 10 9 9 24-1 10-9 10-19 2-18-12-12-20zM803 1670l27-5 20 6 30 18 18 21 9 20 0 20-8 20-19 20-20 8-20-2-20-12-12-14-38-90 10-8zM1380 1780l30-7 14 7 7 10 2 10-5 20-9 10-19 10-20 0-10-6-9-14 1-20zM1629 1790l21-3 9 13-4 20-10 10-15 5-10-3-7-12 5-20zM2241 1960l29-4 20 3 17 11 6 10-1 30-12 17-20 12-20 1-20-5-25-25 0-30 8-10zM1644 2050l16-4 10 8 3 16-8 10-15 1-10-11-2-10zM2090 2120l20-6 10 3 10 12 0 21-15 20-25 5-10-5-7-10 1-20zM2438 2130l12-7 10 4 5 13-5 18-10 5-10-3-5-10zM1958 2210l22-8 20 14 3 24-13 17-20 4-15-11-6-20zM3376 2260l54-7 80 5 0 71-12 1-88 8-40-9-16-19-2-20 9-20zM698 2270l22-7 30 10 10 17-10 21-30 12-20-10-11-23zM2035 2360l35-3 7 3 4 10-16 30-35 29-30 6-10-5-4-10 5-20 9-15 16-15zM1580 2450l10-4 10 2 8 12-2 20-8 10-18 3-10-12 0-15zM717 2520l13-6 10 3 4 13-4 8-10 5-10-1-7-12zM938 2560l12-8 10 0 9 18-3 30-17 30-19 6-10-6-4-10 3-30zM2285 2630l15-2 10 7 23 35 5 40-5 10-13 6-30-10-18-26-2-30 6-20zM1434 2700l6-9 10 0 32 29 13 30-5 27-10 6-10-3-20-22-13-28zM620 2730l20 4 20 11 20 20 14 25 5 20-1 30-6 20-13 20-19 12-20-2-16-10-13-20-6-20 0-50-7-40 4-10zM1840 2910l10-6 20-3 10 3 10 11 1 25-6 10-15 10-20 0-16-10-5-20zM1700 2920l20-2 15 12 10 20-8 20-17 7-10-1-20-16-4-20zM1714 3140l16-8 15 8 5 10-2 10-18 10-16-10-3-10zM761 3340l19-8 14 8-2 20-12 10-13 0-11-10zM599 3440l1 4zM1247 3470l23-2 14 12 10 20-4 20-20 4-22-14-9-20 1-10zM3315 3600l20 0 6 10-2 10-9 8-10 1-10-7-2-12zM699 3660l11 0 9 10 0 10-9 11-17-1-7-10 2-10z"/>
<path fill="#ffe2e2" fill-rule="evenodd" d="M3460-120l30 0-20 4zM2063 110l27-8 20 8 10 10 5 20-15 27-20 12-10 0-16-9-12-30 3-20zM2077 470l13-5 8 15-2 20-11 20-15 7-8-17 4-20zM1645 500l15-2 14 12 3 20-12 20-15 3-14-13-4-20zM2418 690l12-4 16 4 6 10-8 20-14 6-20-6-5-10 2-10zM2961 910l9-7 10 0 13 7 6 10-1 10-8 8-10 1-17-9-5-10zM2396 1000l14 0 6 10 0 10-7 10-18 0-6-10 2-10zM1842 1030l8-7 10 0 7 7-6 10-11 0zM2541 1060l19-4 20 5 20 19 6 20-2 20-12 20-42 30-20 6-20-7-12-19-5-20 2-20 8-20 17-19zM2163 1100l17-8 20 1 16 7 4 10-10 11-30 3-11-4-9-10zM3128 1220l32 0 24 20 3 10-4 20-23 21-30 2-20-11-10-12-4-10 5-20zM2431 1240l19-10 10 0 17 10 1 10-8 7-20 0-16-7zM2828 1290l22-2 10 11 0 17-10 16-20 7-18-9-1-20zM2642 1310l8-8 10 6 5 22 0 50-5 19-8 1-7-10-7-30-1-30zM2264 1390l6-2 10 8-1 14-9 6-15-6-1-10zM1309 1410l11-4 9 4 1 11-10 12-10 1-7-14zM1453 1410l7-3 10 15-1 38-9 9-10-6-6-13-1-20zM835 1470l25-7 18 7 7 10 0 30-14 20-12 10-29 6-10-4-10-13 0-29 10-17zM2110 1630l20-10 14 10 0 30-14 16-10 3-18-9-3-20zM1496 1640l14-9 10 2 18 17 2 13-10 13-20-4-11-12zM819 1690l31-5 20 8 19 17 9 20-1 20-20 30-17 9-20 0-24-19-10-20-5-30 7-20zM1393 1780l18 0 12 10 3 10-6 20-20 14-25-4-8-10-2-10 11-20zM1635 1790l15 1 6 9-4 20-12 10-16 0-8-10 5-20zM2232 1970l18-7 20-1 20 4 10 8 8 26-9 20-12 10-27 6-20-6-13-10-7-10-3-20zM1646 2060l4-5 10-1 5 6 0 10-5 4-10-2zM2096 2140l4-3 9 3-9 12-4-2zM2443 2140l7-8 7 8-4 10-7 0zM1959 2220l11-9 20 3 9 16-8 20-11 5-17-5-7-10zM701 2280l19-10 27 10 5 10-2 10-9 10-21 5-10-4-9-11zM2044 2370l9 0 8 10-10 20-21 16-20 1-4-7 1-10 15-20zM1580 2460l10-5 10 5-1 20-9 6-10-2-4-14zM728 2530l3 0zM941 2570l9-6 10 5 3 11-3 21-14 19-6 3-10-3-4-10 2-20zM1444 2710l6-6 10 3 13 13 10 20-1 20-12 4-10-7-15-27zM627 2800l23-9 20 5 10 8 11 26-2 20-10 20-10 10-19 6-16-6-11-10-8-20-2-20 6-20zM1856 2910l14-1 14 11 0 20-14 13-20 1-13-14 4-20zM1700 2930l10-4 20 11 7 13-7 17-20 3-13-10-4-20zM1728 3140l14 10-6 10-6 2-10-9 0-6zM767 3350l13-7 4 7-4 8-10 2zM698 3670l9 0 3 10-10 3-4-3z"/>
<path fill="#ffdede" fill-rule="evenodd" stroke-width="4.5" stroke="#463c3c" d="M2071 110l9-3 20 3 14 10 5 10-1 20-17 20-21 5-18-15-5-30zM2077 490l3-7 10 7-10 20-6-10zM1645 520l5-7 10 1 5 16-5 8-10 0zM2417 700l13-6 10 4 1 12-11 8-10-2-5-6zM2969 910l13 0 9 10-1 5-10 8-10-4-5-9zM2398 1010l6 0 1 10-5 3-4-3zM2537 1070l33-4 20 13 6 11 2 20-8 19-30 25-20 6-20-4-16-26 0-20 6-15zM2180 1110l10-6 10 6zM3117 1230l23-8 30 9 8 9 4 20-12 20-30 10-26-10-9-10-3-20zM2826 1300l14-6 12 6-1 20-11 8-10 2-11-10zM2650 1330l8 20-4 20-4 3-2-13zM843 1470l17-3 10 3 13 20-9 30-24 19-20 1-10-6-8-14 7-30zM2119 1630l11-2 11 12-3 20-8 10-10 4-10-3-6-11 5-20zM1507 1640l13 1 10 9 3 10-3 8-10 3-15-11-4-10zM829 1700l11-4 20 1 20 13 7 10 2 30-12 20-27 13-20-7-10-11-7-15-2-20 7-20zM1384 1790l16-6 14 6 5 20-9 13-20 7-17-10 1-20zM1624 1800l16-9 10 4 4 15-6 10-18 9-10-7-1-12zM2243 1970l27-3 27 13 5 10-3 20-19 19-30 1-25-20-3-20 8-13zM1968 2220l12-3 7 3 6 10-1 10-12 10-10-1-8-9-1-10zM717 2280l13-1 10 7 0 14-10 6-10 0-9-6-3-10zM943 2590l7-5-3 15-7 2zM1458 2730l2-4 4 4-4 7zM634 2810l26-5 19 15 4 30-13 22-20 8-19-10-7-10-3-30zM1850 2920l10-5 15 5 5 10-3 10-17 10-10-3-6-7-1-10zM1700 2940l10-5 10 2 10 13-2 10-8 5-15-5-7-10z"/>
<path fill="#ffd8d8" fill-rule="evenodd" stroke-width="4.5" stroke="#463c3c" d="M2067 120l13-8 10-1 18 9 8 20-9 20-17 11-20-6-9-25zM2535 1080l25-7 19 7 7 10 3 10-3 20-21 20-25 7-17-7-7-10 1-30zM3125 1230l25-4 23 14 5 20-4 10-14 12-30 2-19-14-4-20zM2833 1310l9 0-2 3zM833 1480l27-9 15 9 4 10-3 20-18 20-18 6-10-1-13-15 1-20zM2117 1640l13-3 3 3 2 10-5 12-10 5-10-6 0-11zM1510 1650l10 0 3 10-8 0zM831 1710l9-5 20 0 19 15 4 10-1 20-15 20-17 6-10-1-16-15-5-30zM1380 1800l20-10 10 6 2 14-8 10-14 4-8-4-5-10zM1627 1800l13-6 10 5 0 13-10 12-10 2-8-6-1-10zM2234 1980l26-9 29 9 8 20-11 20-26 8-21-8-13-20zM1968 2230l12-6 6 6-2 10-14 1zM635 2820l15-7 10 2 15 15 1 20-13 20-13 4-10-4-9-10-5-20zM1851 2930l9-7 10 3 0 11-10 6-6-3zM1708 2950l2-4 11 4-11 4z"/>
<path fill="#ffcece" fill-rule="evenodd" stroke-width="4.5" stroke="#463c3c" d="M2073 120l17-4 11 4 9 10 0 16-8 14-12 7-10-1-10-8-5-18zM2536 1090l24-8 14 8 5 20-17 20-22 4-10-7-5-17zM3138 1230l22 4 13 16-4 20-14 10-25 0-14-10-5-10 7-20zM839 1480l21-5 10 5 5 10-3 20-12 14-20 7-10-2-8-9 0-20zM833 1720l17-8 21 8 7 20-9 20-19 9-18-9-7-20zM1389 1800l13 0 2 10-14 5-5-5zM1630 1800l10-3 6 3 2 10-8 11-14-1-2-10zM2242 1980l18-4 20 4 9 10 2 10-11 19-20 5-20-8-9-16 1-10zM637 2830l13-8 10 2 10 13 0 14-10 14-10 2-10-5-7-12z"/>
<path fill="#ffb4b4" fill-rule="evenodd" stroke-width="4.5" stroke="#463c3c" d="M2071 130l9-9 10-1 14 10 0 20-10 10-14 1-10-11zM2547 1100l13-2 2 12-12 7-8-7zM3124 1240l16-7 22 7 7 20-9 13-20 6-19-9-5-10 1-10zM848 1480l12-1 11 11-1 14-11 16-19 6-10-4-5-12 8-20zM836 1730l14-10 10 2 10 14-3 14-17 11-10-3-7-18zM1638 1800l7 10-5 7-10 3-3-10zM2238 1990l12-8 20 0 12 8 3 10-5 12-10 7-20-2-10-7-4-10zM641 2840l9-8 10 4 2 14-12 9-9-9z"/>
<path fill="#ff9b9b" fill-rule="evenodd" stroke-width="4.5" stroke="#463c3c" d="M2078 130l12-4 7 4 5 10-2 8-10 9-10-2-6-15zM3131 1240l19-2 10 6 5 16-7 10-18 5-12-5-7-10 1-10zM839 1490l11-6 15 6-3 20-11 10-11 1-10-10zM845 1740l5-7 10 8-10 9zM1630 1810l10-3 1 3zM2246 1990l14-5 14 5 5 10-4 10-15 5-10-3-9-12z"/>
<path fill="#ff8282" fill-rule="evenodd" stroke-width="4.5" stroke="#463c3c" d="M2080 140l10-6 4 6-4 10zM3127 1250l13-8 10 1 9 7 1 10-10 10-10 1-14-11zM848 1490l12 5-4 15-6 4-13-4 0-10zM2248 2000l12-8 10 6 0 5-10 7z"/>
<path fill="#ff6969" fill-rule="evenodd" stroke-width="4.5" stroke="#463c3c" d="M3135 1250l15-1 3 11-13 4-7-4z"/>
</g>
<ellipse cx="207" cy="17" rx="6.8" ry="10.5" fill="#857878" opacity="0.8"/><path d="M203 9.5Q201.6 14.5 203 19.5" fill="none" stroke="#ffe0e0" stroke-width="1.5"/><path d="M204.6 9.5Q206.5 7.6 209.4 9.2L214.5 14.2Q212 16.5 209.4 15.8Q205.6 14.5 204.6 9.5Z" fill="#ff2a2a"/><circle cx="211.6" cy="14.6" r="1.3" fill="#ffd0d0"/><circle cx="312.8" cy="125.9" r="6.3" fill="none" stroke="#6e6464" stroke-width="1.6" opacity="0.7"/><circle cx="312.8" cy="125.9" r="5" fill="#ffe4e4" stroke="#101010" stroke-width="1.3"/><circle cx="312.8" cy="125.9" r="3.2" fill="#f06c6c" stroke="#503030" stroke-width="0.7"/><circle cx="312.8" cy="125.9" r="1.2" fill="#c03030"/><circle cx="84.5" cy="149.2" r="5.9" fill="none" stroke="#6e6464" stroke-width="1.6" opacity="0.7"/><circle cx="84.5" cy="149.2" r="4.6" fill="#ffe4e4" stroke="#101010" stroke-width="1.3"/><circle cx="84.5" cy="149.2" r="2.944" fill="#f06c6c" stroke="#503030" stroke-width="0.7"/><circle cx="84.5" cy="149.2" r="1.2" fill="#c03030"/><circle cx="225.5" cy="198.1" r="6.6" fill="none" stroke="#6e6464" stroke-width="1.6" opacity="0.7"/><circle cx="225.5" cy="198.1" r="5.3" fill="#ffe4e4" stroke="#101010" stroke-width="1.3"/><circle cx="225.5" cy="198.1" r="2.65" fill="#ff0a0a" stroke="#200808" stroke-width="1"/><circle cx="165.4" cy="181.8" r="3.6" fill="#fff0f0" stroke="#181818" stroke-width="1.2"/><circle cx="165.4" cy="181.8" r="1.5" fill="#f0a0a0" stroke="#402020" stroke-width="0.6"/>
</g>
<path d="M104.8 364.5C105.2 363.0 106.2 358.1 107.2 355.3C108.2 352.5 108.7 351.4 110.9 347.8C113.1 344.2 116.5 338.4 120.5 333.7C124.5 329.0 130.0 323.1 134.7 319.5C139.4 315.9 146.4 313.2 148.8 311.9M148.8 311.9C148.9 312.6 149.6 314.7 149.4 316.3C149.2 317.9 149.1 318.6 147.8 321.5C146.5 324.4 144.2 329.6 141.7 333.7C139.2 337.8 136.3 341.7 132.6 345.8C128.9 349.9 123.1 355.6 119.5 358.5C115.9 361.4 113.7 362.1 111.2 363.1C108.8 364.1 105.9 364.3 104.8 364.5" fill="none" stroke="#1e1e1e" stroke-width="0.85" stroke-linejoin="round"/>
<path d="M117.6 57.6L289.9 196.4" stroke="#f50a0a" stroke-width="1.9" stroke-dasharray="5.5 1.6 9.5 1.6" fill="none"/>
<text transform="translate(9.2 26) scale(1.05 1)">(c)</text>
<text transform="translate(43.3 20.4) scale(1.05 1)" text-anchor="middle">U</text>
<path d="M33.5 23.6H52.9" stroke="#000" stroke-width="1"/>
<text transform="translate(43.7 37.3) scale(1.05 1)" text-anchor="middle">Th</text>
<text transform="translate(117.9 303.3) scale(1.05 1)">K1</text>
<text transform="translate(109.2 333) scale(1.05 1)" font-style="italic">πγ</text>
<path d="M156.8 373.2V377.4H267.2V373.2" fill="none" stroke="#000" stroke-width="1.1"/><text transform="translate(153.4 370.2) scale(1.05 1)">0</text><text transform="translate(255 370.2) scale(1.05 1)">1.2 km</text>
<rect x="4.7" y="4.3" width="328.6" height="395.9" fill="none" stroke="#000" stroke-width="1.1"/>
</g>
<g transform="translate(347,476)">
<g clip-path="url(#cp)"><g transform="scale(0.1)" stroke="#263232" stroke-width="7.5" stroke-linejoin="round">
<rect x="-200" y="-200" width="4000" height="4500" fill="#7dfffe" stroke="none"/>
<path fill="#98fffe" fill-rule="evenodd" d="M-120-120l3630 0 0 4310-3630 0zM1720 899l-21 21-1 20 9 10 13 5 26-5 22-20 4-10-2-14-20-12zM2220 1967l-14 13-1 20 15 17 20-3 11-14 0-10-11-16z"/>
<path fill="#b2fffe" fill-rule="evenodd" d="M-120-120l3630 0 0 2224-5 16 5 22 0 45-44 103-4 20 18 19 30 7 0 1814 0 40-3630 0 0-1606 12-4 5-10-17-11zM80 3086l-3 4 2 10 21 2 4-12-4-4-10-3zM260 2899l-6 11 1 10 15 19 20 6 20-5 5-10-2-10-13-17-20-9zM370 3209l-8 11 13 20 27 10 45 0 10-10-2-10-15-17-30-7zM400 2948l-19 12-6 10 4 20 31 32 20 11 20 4 16-7 7-10 4-20-9-30-28-25-20-3zM550 3800l-10 10 0 20 10 13 20 7 14-10 1-20-15-19zM660 2397l-10 13 6 10 14-3 8-7 2-10-10-5zM880 1727l-6 13 6 8 10-3 8-15-8-7zM950 2607l-14 13-11 20 15 9 10-1 20-9 10-19-10-15zM1360 1898l-12 12 2 30 10 16 10 5 11-1 18-20 2-20-18-20zM1550 1398l-20 12-6 20 6 14 20 10 20-13 6-21-6-16zM1640 2036l-3 4 3 3 10 2 9-5-9-9zM1720 890l-26 20-7 30 4 10 19 13 32-3 19-10 17-20 5-20-3-10-20-14zM2220 1959l-17 11-5 30 13 20 9 5 20-2 16-13 4-20-20-24zM2820 3989l-7 11 2 10 15 6 10-3 8-13-1-10-7-8zM2920 2118l-7 2 3 10 14 4 0-6zM3120 3057l-7 13 4 20 13 4 7-4 6-10-2-20-11-7zM440 3666l-13 14 3 10 10 3 10-4 7-19-7-6z"/>
<path fill="#cafffe" fill-rule="evenodd" d="M-120-120l770 0 2 40 6 20 40 40 23 40 19 11 9-11-25-60-10-80 1755 0 5 30 10 20 16 14 20 4 10-5 10-15 4-48 966 0 0 1871-30-21-66-70-3-20 29-60-6-20-14-9-30 4-20 21-3 64-13 50 8 30 17 20 61 51 61 19 8 10 0 10-11 60-6 10-22 18-43 22-17 20-1 60-8 20-11 8-40 10-29 22-25 40-7 40 4 20 16 20 21 6 20-5 7-11 4-50 11-20 28-27 20-2 10 7 23 42 6 30-2 30-17 40-40 31-12 29-1 30 5 10 18 11 100 17 0 867-20 8-10 10-11 27 3 20 8 16 10 10 20 9 0 25 0 87-40 0-20 10-15 23-2 20 7 24 20 25 20 14 30 10 0 40-20 8-9 9-5 20 8 10 26 5 0 525-825 0-5-22-2 22-397 0-10-20-11-10-30-8-20 9-10 13-5 16-2315 0 0-632 8-8-8-17 0-905 30-6 22-12 18-20 9-30-9-20-12-10-28-13-30-5zM30 869l-12 11 0 10 12 3 12-13zM80 3047l-29 23-10 30 3 10 13 10 43 5 30-10 9-15-2-10-27-33-20-10zM180 348l-28 12-25 20-17 20-6 20 6 18 11 12 19 11 30 8 30-10 42-59-4-20-18-21-20-12zM310 2363l-10 7-6 20 6 9 10-1 10-8 7-20-7-8zM390 248l-21 12-8 10-2 20 9 20 12 10 30 3 20-6 17-17 0-30-7-11-20-13zM590 2489l-10 1-10 9-2 11 9 20 13 11 20-1 7-10 0-10-9-20zM660 2377l-24 23-5 20 3 10 16 10 27-10 24-20 4-10-3-10-22-15zM840 60l-18 10-4 10 7 20 35 31 20 6 20-1 16-6 10-10 3-10-7-20-22-19-20-10-20-4zM1000 879l-1 11 6 10 15 8 4-8-4-15-10-8zM1030 2578l-30 20-30-11-20 6-43 37-14 20 7 9 20 4 30-3 60-28 40 18 20 0 13-10 1-20-16-30-18-15zM1330 107l-10 5-10 13-11 45 11 27 20 6 21-13 11-30-12-40-10-10zM1380 1698l-3 12 3 14 10 13 14 3 12-10-2-20-14-14-10-2zM1540 1370l-20 11-21 19-9 30 10 30 20 32 20 13 14-5 16-11 20-25 11-24 7-30-5-20-20-20-23-5zM1650 2019l-20 5-19 16 0 10 29 9 20-4 15-15-5-13zM1720 880l-32 20-11 20-1 20 8 20 16 11 20 3 20-4 20-9 22-21 10-20 1-20-4-10-19-13-20-2zM1920 2809l-14 11-8 20 10 20 12 3 20-12 7-21-7-16zM2100 2659l-17 21-6 20 6 30 17 16 10-2 10-14 3-30-3-30-10-13zM2180 998l-20 19-5 23 8 20 17 9 10-1 10-6 7-12 5-40-12-13zM2220 809l-7 31 6 20 14 20 17 13 20 7 20-3 13-7 8-10 5-20-6-19-10-11-60-28-10 0zM2460 1079l-30 11-32 30-4 10 2 20 24 26 30 1 12-7 15-20 6-20 0-30-13-19zM2490 2499l-25 11-15 22 0 28 20 7 20-8 20-29 0-22-10-8zM2620 3227l-4 13 14 19 10 5 16-4 5-10-6-20-15-9zM2820 1946l-10 24 0 14 10-3 7-21zM2850 3869l-28 11-17 20-45 110 0 20 10 14 50 18 40 3 20-12 18-33 14-60 0-40-12-31-20-17zM2890 2088l-9 12 2 20 24 30 33 18 10 0 18-8 10-10 1-10-59-50-20-5zM3020 438l-4 12 4 12 10 6 18-8 2-14-10-13-10-1zM3120 3029l-21 21-6 20 1 20 6 15 10 10 30 3 25-18 3-30-6-20-12-17-10-6zM150 2794l-34 46-1 10 8 10 67 30 35 60 26 20 69 34 50 56 10 20-10 9-10 1-50-7-30 7-20 16-40 51-38 13-12 10 7 20 27 30 30 50 16 14 20 9 50 5 70-17 40-4 30 7 20 14 30 57 10 15 10 3 20-24 15-39-5-24-40-40-22-36-48-60-7-20 11-30 65-40 14-20 7-80-9-30-21-14-60-22-90-6-60-29-70-14-20-13-30-39-20-10zM370 1229l-20 11-4 10 2 20 22 25 30 5 22-10 2-20-24-29zM580 2858l-6 12 4 10 12 9 20 4 24-3 13-10 1-10-8-10-30-9zM650 3049l-30 8-22 13-19 30 0 30 11 26 20 11 20-8 61-49 16-20 9-20 1-10-6-10-11-4zM820 2868l-24 22-10 20 4 67 10 19 20 1 18-7 21-20 9-20 4-60-9-20-13-8zM880 1707l-19 23-2 20 11 12 20 0 19-12 7-10 2-20-8-13-10-4zM1340 1857l-38 23-11 20 12 30 31 40 16 12 10 4 20-2 60-45 70 5 40-15 26-19 9-20-2-10-13-13-50-9-80 16-70-20zM1680 3314l-13 16 1 30 12 19 10 5 10-2 10-22-2-30-8-13-10-5zM2210 1953l-10 9-8 18 2 30 16 19 10 5 30-4 18-20 1-20-5-10-34-28zM3040 2078l-59 62 1 10 30 20 28 12 20 1 20-8 12-15 3-20-5-34-10-20-20-11zM470 3579l-10 11-21 40-27 30-9 20 7 22 10 8 20 5 20-8 15-17 9-20 17-70-3-20-8-5zM350 1420l-18 10-6 20 24 60-10 40 0 20 8 10 12 3 40-6 34-17 4-10-2-10-42-40-5-20 1-35-5-15-15-10zM620 3608l-40 30-20 32 0 20 25 50 5 21-10 7-40 5-11 7-11 20 0 20 6 20 16 17 20 10 20 1 13-8 13-30-1-50 45-13 20-12 11-15 22-60-4-30-19-23-30-19zM1310 3719l-12 21 0 20 12 6 10-2 16-14 3-20-9-12-10-3zM1530 2917l-6 13 6 5 10 3 10-3 7-5-2-10-15-5zM2210 4009l-25 11-5 10 2 10 18 24 10 7 20 5 25-16 9-20-2-10-7-10-15-8zM2220 2607l-9 3 2 10 27 3 4-3 1-10zM3030 2423l-9 17 11 10 8-6 2-14-2-5zM1550 3999l-10 11 10 24 10-1 2-13zM2240 3139l-10 20 3 21 7 16 10 11 12-7 20-40 0-20-12-8-10 0z"/>
<path fill="#dafffe" fill-rule="evenodd" d="M-105-110l5-10 713 0-6 70 5 30 48 38 30 45 50 31 27 26 15 30-1 50 8 20 31 20 20 4 50-4 50 26 30 7 20-4 9-9 5-20 7-80-6-80 5-14 22-26 4-20-6-45-9-25-21-14-40-1-20 7-55 38-45 11-30-1-20-14-16-26-8-30-1-40 1009 0 5 20 21 28 20 15 20 3 17-6 9-10 8-20 4-30 369 0 0 50 10 40 13 22 10 7 20 4 40-7 15-16 6-30-6-70 81 0 6 40 11 30 27 24 73 26 8 20 9 72 18 18 22 6 23-6 15-20 10-50 0-30-8-16-10-7-50-10-11-7-8-20-6-70 945 0 0 302-30 9-11 9-8 20 9 30 12 10 28 7 0 397-30 15-10 21 10 20 30 12 0 97-40 13-20 18-3 10 4 20 18 30 21 21 20 9 0 742-22-12-18-30 0-20 19-60-14-30-25-19-20-6-30 1-46 14-24 20-14 50-34 60 3 110 35 100-1 20-9 12-60 28-110 88-20 3-80-7-70 21-10-1-30-18-50 18-12-4-11-20 8-60-7-40-18-32-10-7-10 1-13 18-22 90-18 30-17 13-30 9-80 4-5 14 29 50 16 40 10 9 30 0 70-20 30-2 40 20 70 46 30 10 40-5 50 6 90 0 10-14 10-41 10-17 20-6 20 5 23 19 35 70 22 17 40 16 16 17 1 30-17 50 10 17 50 16 120 14 0 758-28 5-18 10-20 30-14 70 4 30 16 50 1 20-45 70-11 50 5 40 18 60-5 70 17 96 10 3 30-32 40-14 0 477-30 0-739 0 3-80 6-13 10-5 30 2 30 13 13 13 17 32 10 7 10-4 20-22 56-133 6-50-1-40-15-50-16-30-20-10-70 2-28-12-32-52-40-23-20-20-30-64-13-11-17-5-20 3-7 12 5 140 11 60-3 20-6 14-10 9-52 7-17 10-16 20 4 10 15 10 36 7 17-7 33-31 40-13 30-1 31 15 12 20 1 20-14 41-20 30-20 8-40-12-10 1-20 21-17 61 8 80-253 0-8-23-36-37-8-20 3-20 23-50-5-20-18-20-29-22-20-9-20-3-60 7-25 7-45 30-15 20 45 36 26 34 2 30-19 60-61 0-5-40-17-70 2-50-28-13-10 1-10 7-15 35-37 50-4 20 10 60-669 0-5-20-40-27-6-13 1-20 10-30-9-30-36-34-30-12-20 7-10 11-40 78-7 30 2 60-337 0-7-50-11-12-20 4-20 16-7 42-843 0 0-579 48 9 33 30 10 30 0 50 9 20 20 1 40-21 16-20 5-20-11-32-49-58-51-47-42-73-18-18-10-3 0-674 20-14 11-21 3-30-7-40 4-10 65-60 17-30 7-30-7-20-13-13-100-49 0-242 50-13 50 2 10-5 10-14 5-26-3-30-12-22-90-64-20-7 0-944 30 12 40 42 20 13 20-4 54-56 8-20-6-20-21-20-60-30-10-10-1-20 8-20 9-10 89-43 16-17 6-20-7-20-15-18-20-11-10-1-20 11-18 19-52 75-20 7-40 1 0-177 40 1 30-6 22-21 6-20-7-30-11-4-80 16 0-801zM220 102l-10 10-6 18-7 80-16 40-31 26-57 24-43 66-10 34 9 50 41 78 72 2 19 10 4 10-1 10-24 22-20 1-20-13-30-35-101 65-16 20-2 20 9 25 10 3 110-9 160 13 24-2 12-10 24-37 45-33 4-10-12-20-64-40-10-20 5-40 42-69 20-22 20-7 100-2 52-10 19-10 9-13 2-17-9-20-47-20-36-51-30-12-30 8-55 35-19 30-7 30-9 8-10-1-7-7-1-10 5-30-2-20-31-70-14-60-10-15-10-5zM390-23l-20 11-20 19-17 33 1 20 10 20 16 16 20 7 20-4 13-9 15-20 6-20-1-30-11-30-12-11zM480 77l-1 23 21 28 20 4 20-7 18-15 1-10-16-10-53-16zM620 460l-10 4-14 16-10 20 1 10 23 11 40 4 18-5 13-10 6-10-1-20-16-14zM640 249l-5 11 5 3 15-3 8-10-3-5zM730 730l-20 5-20 13-23 32 0 20 10 30 33 45 70 38 30 10 20-1 60-19 70 4 30 12 30 17 10 0 16-16 2-20-4-20-24-30-100-48-20-1-50 12-40-7-22-16-33-50zM850 457l-9 3-4 10 9 20 34 39 10 4 15-3 16-20-7-20-34-22zM1160 510l-8 10 0 20 8 20 20 28 10 8 20 3 23-9 10-10 7-20-14-30-36-23-20-3zM1320 70l-20 32-24 58-2 20 8 20 18 20 30 13 30-1 58-12 42-10 12-10 3-20-15-15-50-29-40-51-17-15-13-6zM1500 877l-8 13 8 17 10 5 20-4 11-8 3-10-5-10-19-7zM1580-23l-13 13-15 50-22 33-9 27 3 30 10 20 16 19 20 8 20-6 20-19 9-22 3-20-9-120-3-10-10-7zM1710 870l-30 18-14 22-4 30 6 20 22 23 20 6 20-1 30-13 29-25 14-20 8-30-4-20-8-10-19-8-40 1zM1910 2797l-22 23-5 20 5 20 22 18 20-1 10-5 19-22 6-30-5-10-20-15zM2040 799l-20 11 0 10 10 3 10-4 9-9-3-10zM2150 576l-5 4 0 10 5 6 10 6 20-2 8-10-2-10-16-7zM2180 408l-10 3-14 19 2 20 12 6 12-6 10-20-2-12zM2220 736l-20 11-20 22-32 71 1 30 18 30 4 20-11 20-48 50-10 20-1 30 19 43 20 17 20 7 70 7 42 36 58 34 17 16 13 26 46 24 34 68 30 13 80-5 17-6 10-10 2-30-24-50-13-50 7-40 31-32 7-18 0-20-7-10-40-13-50-38-10-1-20 8-53 44-57 35-40 5-30-7-10-7-6-16 3-20 22-40 20-50 61-55 30-12 40-4 8-9 22-54 3-36-8-20-10-10-25-15-30-10-30 0-50 23-20 3-50-24zM2360 169l-20 17-12 24-5 30 4 20 21 30 82 74 20 3 40-23 20-5 60 12 32-1 23-10 10-20-5-80-10-16-30-1-60 40-30 6-70-34-20-18-30-44-10-6zM2750 297l-22 13-5 10 2 10 27 20 28 5 22-15 5-20-4-10-23-14zM2910 157l-15 23-2 40 17 24 10 5 18 1 11-10 3-10-3-40-9-22-10-11-10-3zM3020 389l-20 7-16 24-3 20 5 30 13 20 11 7 30 9 20 0 20-10 10-15 0-31-10-20-20-25-20-12zM3150 107l-20 23-32 80 12 5 10-1 26-14 66-40 6-10-6-20-19-20-23-7zM3300 137l-27 13-6 10 4 10 29 11 20-2 13-9 3-10-14-20zM2840 2409l-10 2-9 9-4 20 10 30 13 8 20-8 9-20-9-28zM2880 2860l-19 20-11 30-3 30 7 30 18 20 38 21 30 4 21-5 26-20 11-20 2-30-8-20-35-40-26-20-31-6zM3030 2376l-20 12-20 22-29 50 3 20 8 10 18 10 20 4 20-2 23-12 17-20 7-20-1-40-11-30-15-9zM3130 2999l-30 12-21 29-8 40 5 40 14 14 20 8 80 0 40 8 20-4 10-11 13-35-2-20-41 3-20-4-20-19-30-47-10-8zM3170 2329l-13 21 11 30 22 16 10 1 20-7 11-20-7-20-24-20-20-4zM3330 3486l-10 5-4 19 4 12 10 4 10-7 6-19-5-10zM3390 2568l-10 22 13 50 17 19 10 3 20-8 11-14 3-10-17-60-17-10zM-40 3168l-26 12-9 10 5 11 30 7 30-1 6-17-6-21zM70 1279l-20 7-20 20-25 84-28 70 0 30 7 10 16 8 20 0 30-9 14-9 11-20 24-140-9-45-10-6zM90 1128l-15 12-2 30 11 40 16 26 10 4 20-4 40-18 27-28 6-20-3-10-50-22zM250 1118l-10 4-11 18 11 9 10 0 22-9 1-10-11-10zM370 887l-25 13-1 10 86 53 8 7 5 20-10 30-47 80-16 14-48 26-8 10 14 50-8 50 4 20 17 30 19 20 30 20 10 10 2 10-12 12-90 23-20 2-40-5-17 18-3 20 10 15 49 25 14 20 5 20-17 40-1 20 20 37 30 32 20 1 60-28 60-11 20 5 40 37 30 13 30-3 60-53 6-20-17-40-29-33-20-7-50 22-20-4-29-18-46-20-8-10-2-20 5-15 10-9 70-2 20-13 33-71 24-40 4-20-8-10-13-5-60-2-50-18-40-20-25-25-4-20 5-30 13-20 31-20 18-20 34-100-7-20-35-22-40-49-20-11zM630 919l-13 11-1 10 14 12 20 2 12-4 8-10-1-10-19-13zM810 2300l-10 0-11 10-9 20-3 30 6 20 29 50-1 60 5 20 24 31 20 4 10-10 9-35-1-40-8-31-29-39-4-50-5-20-12-15zM840 1949l-18 11-5 10 3 29 30 31 10 22 10 4 10-4 3-12-4-30 14-30 1-20-24-12zM880 1680l-23 30-10 40 12 20 11 5 37-5 27-20 8-20-2-20-10-22-20-15-20 0zM1000 1218l-17 12-8 20 2 20 9 20 84 54 53 26 8 10 3 20-17 50-1 20 14 18 10-2 15-26 35-58 7-22-2-20-12-40 8-60-4-20-9-10-18-7-20 3-30 13-20 2-60-23zM1220 757l-19 23-5 20 3 10 30 20 31 8 16-8 4-10 1-20-8-20-23-26-10-3zM1380 1658l-33 22-20 30 15 70-4 20-34 30-54 30-18 20 1 30 47 84 20 14 70 6 50-27 30 0 19 13 91 90 115-30 12-10 3-10-1-10-9-12-20-10-60-3-28-15-8-10 4-20 53-50 14-30 9-70-24-52-20-19-20 10-10 21-1 30-9 10-60 2-50 14-20-1-10-5-3-10 6-10 38-30 7-20-4-30-13-30-18-20-33-14zM1560 1338l-30 12-44 30-19 20-7 20 40 176 9 14 11 6 30-1 30-10 18-25 4-20-7-50 38-110-5-20-28-32-20-10zM1710 1028l-10 12 10 0 4-10zM2170 2310l-20 10-9 10-1 10 43 70 27 24 20-1 6-13-26-99-10-12zM2200 1948l-14 22-4 20 3 20 10 20 25 18 50 8 10-15 4-31-10-30-44-38-20 0zM2360 2948l-30 12-10 18-1 12 11 20 10 7 20 2 30-19 14-20 4-20-6-10-12-4zM2460 1510l-17 10-3 30 17 50 23 23 20 8 50 1 20 7 50 59 20 12 30 2 70-5 10-1 4-6 12-60-1-20-6-10-39-21-40-38-20-2-60 20-20 3-20-9-52-43-28-10zM2420 550l-8 10 4 20 24 19 15 1 6-10-1-10-10-19-20-13zM2620 1390l-9 10 3 20 16 20 10 2 3-12-3-16-10-17zM3140 269l-7 11-1 20 14 40 24 15 20-5 13-20-3-30-10-14-20-15-20-6zM3310 708l-26 22-1 20 17 13 20 2 10-3 20-22 5-20-3-10-12-7zM2820 3287l-23 23-3 20 6 9 30 9 40-7 15-11 6-10-2-20-8-10-31-9zM3410 2748l-17 22-4 20 11 25 20 8 10-2 10-10 2-31-12-29-10-6zM90 2559l-8 11 12 30 26 25 10 2 10-4 4-23-11-20-23-17zM110 1625l-14 15-2 10 6 13 11 7 39 5 20 8 30 30 40 56 20 16 30 3 60-24 20-5 11-9 2-10-13-26-30-26-70-6-100-38-30-19-20-3zM570 2060l-21 10-13 30 2 30 22 36 24 4 0-90-4-15zM610 2194l-5 36-10 20-15 15-45 25-14 20 1 10 8 10 39 20 21 1 30-17 15-24 10-30 4-30-5-20-14-22zM640 1959l-12 11-5 30 7 11 30 3 10-4 4-10-2-10-12-23-10-8zM1180 2086l-10 5-6 19 6 13 10 4 10-2 8-15-8-20zM1400 3240l-10 20 9 20 41 33 13-3 6-10 1-17-10-26-30-19zM1520 2850l-20 12-19 28-7 30 5 20 16 20 25 13 20 0 30-8 43-25 9-10 3-20-15-18-50-35-20-9zM1600 2168l-42 22-9 10-5 20 16 22 20 9 30 5 40-7 13-9 6-20-6-20-16-20-17-10zM2170 2539l-30 14-40 44-20 29-24 64-4 60-9 40 7 25 44 45 36 58 20 9 20-4 30-21 15-22 13-70 32-47 9-23 2-30-6-40 2-10 21-30 1-10-7-20-12-13-80-44zM2530 2448l-51 12-29 14-15 16-59 90-2 20 16 14 30 9 40 1 47-14 29-20 34-60 41-50-3-20-15-10-33-5zM2590 1778l-10 12 1 10 9 8 10 1 10-7 0-17-10-8zM3160 587l-10 23 10 11 10-7 2-14-2-11zM310 2336l-30 18-43 46-13 20 0 20 8 10 18 8 40 0 40-18 40-32 10 9 20 36 20 30 20 17 20-8 19-22 10-30-25-90-14-8-20-3-50 19-40-24zM670 2350l-20 3-23 17-13 20-10 30 3 20 10 20-7 4-30-5-20 6-15 25 2 30 19 30 34 24 110 30 11 16 7 40 52 28 30 3 80-6 100-19 70 27 90-7 20-9 20-21 6-16 3-40 9-20 62-48 30-40 11-32-11-23-13-7-17-2-49 22-51 5-30 10-50 38-60 21-40 31-40 17-40 28-30 6-27-6-62-30-11-17-12-33-11-10-27-9-80-15-26-16 26-5 30-20 38-25 14-20-5-20-17-17-20-10zM1500 3099l-29 11-8 20 7 12 50 22 20 3 10-7 5-10 0-20-13-20-12-8zM1560 3019l0 13 20-1 9-11-9-6zM1610 2439l-7 21 0 60-50 90-5 30 12 9 70-16 50 7 40 8 20-5 18-23 0-20-48-80-11-60-12-10-47-17-20-1zM2150 3040l-30 27-20 11-60 8-20 7-16 17 2 20 34 35 90 60 30 7 30-17 10-1 10 16-4 40 7 30 17 29 30 28 10 2 10-9 21-30 19-15 40-4 80 6 22-7 21-20 5-30-28-42-10-28 12-80-2-22-9-18-21-10-20 4-20 15-20 26-10 2-40-17-70 0-20-7-50-32-20-5zM2580 3200l-23 10-9 20 4 10 42 50-1 20-23 28-20 48-10 8-70 6-35 20-5 10 2 10 38 20 30 5 30-3 40-34 44-8 10-10 16-39 14-11 4-10-1-40 21-50-1-30-17-22-20-11-30-3zM3150 1593l-9 7 1 20 8 11 20 7 10-8-2-20-8-11zM440 2553l-10 9-21 38-22 20-27 8-70 7-20 13-2 12 6 10 35 20 31 6 30-6 60-28 20-17 20-26 6-29-6-19-10-12-10-6zM630 2720l-50 20-24 20-5 50-23 70-8 8-20 1-70-16-70-6-90-27-30-15-50-52-40-23-12 0-8 11-6 29-14 13-19-13-31-47-10 9-50 88-11 30 3 20 8 11 20 7 50 4 13 8 2 10-41 70-26 80-7 40 7 20 72 9 10 6 5 5 6 40 8 10 61 40 40 59 60 59 70 34 50 43 61 35 20 20-3 10-28 25-35 55-40 50-8 20-3 30 10 30 16 19 40 33 40 21 15 17 20 40 15 17 50 37 30 7 15-11 14-60 11-19 20-13 50-16 14-12 30-80 2-20-5-20-12-20-59-65-70-44-17-21-6-20 0-100 50-90 9-30 1-50 10-30 13-19 30-24 30-11 20-2 40 11 20-9 10-16 0-40 9-20 64-50 15-40 1-60-7-50-12-20-10-8-30-7-20 3-25 12-59 50-12 20-8 50-30 30-26 13-30 8-30-2-15-9-11-30 0-20 6-15 20-9 70-11 18-15 2-10-4-20-32-80-3-30 5-40-6-8zM940 3049l0 5 10 2 3-6-3-5zM1060 3103l-14 17-28 80 3 10 9 7 30 7 30-5 10-11 4-18-3-30-11-34-10-16-10-7zM1240 2914l-10 7-3 19 6 10 17 8 13-8 0-20-13-15zM1500 3818l-8 22-5 110 17 100 15 40 21 16 70-3 60 29 20 4 10-3 8-13 4-30-5-30-9-20-38-45-40-5-20-14-18-36-4-60-14-30-34-31-20-5zM1670 3287l-16 13-10 20-1 50 11 30 16 20 10 6 20 2 20-12 7-16 0-70-7-22-20-22-10-4zM2020 3640l-20 4-11 16 1 20 10 14 10 3 20-10 12-17-2-20zM2110 3375l-2 5 12 10 3-10zM2420 3749l-40 16-21 15-28 40-7 30 11 20 119 70 9 20-10 30-3 20 7 10 13 5 10-4 4-21-2-50-3-10-63-70 0-20 18-40 7-30-3-20-8-10zM0 3212l-7 8-7 20 2 20 8 10 34 13 30-8 20-25 0-24-10-8-20-5zM950 3288l-10 12 1 20 9 14 20 14 10 0 7-8 1-20-18-31zM1100 3619l-20 14-22 37-5 20 7 22 10 7 20 2 50-27 30-8 60 11 30 12 12 11 5 50 13 17 30 0 20-9 22-18 9-20-3-10-16-20-42-27-20-19-40-7-70-28-50-10zM1720 3598l-20 14-9 48 9 22 20-2 15-20 7-30-4-20-8-10zM159 2980l11-5 20 3 36 22 19 20 3 20-28 44-20 22-10 4-10-3-5-7-26-50-6-20 3-30zM506 3150l4-6 10 0 9 16-5 10-4 2-10-7zM412 3320l28-7 20 9 19 28 3 20-3 10-9 6-10 0-20-9-20-16-15-21 0-10z"/>
<path fill="#e7fffe" fill-rule="evenodd" d="M-46-120l356 0 26 40 5 20-7 30-27 50 0 60-7 19-80-50-40-17-10 2-5 6-10 30-8 50 9 70-6 19-10 11-40 14-50 3-30-8-27-19-28-40-35-103-20-18-30-9 0-92 20-8 26-20 19-20zM407-120l129 0-4 60 28 36 6 14 6 30-3 20-6 10-13 7-10 1-17-8-12-20-16-50-78-80zM1096-120l140 0 1 50-7 7-30 7-50 13-30 24-10-1-9-20zM1966-120l88 0 2 30 14 10 10 0 19-10 14-30 88 0-17 80-21 50-20 70-13 12-40 8-15 10-9 20 3 20 11 12 20 3 20-9 30-23 20-1 30 12 42 26 16 20-2 10-26 31-9 19 0 30 9 13 10 5 60 9 60 29 17 24 10 70-7 20-20 17-20 6-20-4-60-52-40-61-20-10-10 4-40 50-20 16-30 7-40-9-10 2-10 10-3 14 3 12 10 5 40-2 20 12 18 23 4 20-12 10-51 10-5 10 2 20 13 30 31 45 20 22 39 23 7 10 0 10-16 27-50 52-50-3-30 9-21 15-6 10 0 20 17 16 20 0 50-33 8 7-10 50 1 60-14 20-25 21-60 31-50 58-4 20 14 13 30 3 14-6 36-30 10-1 20 18 5 23-4 10-47 30-7 20 0 20 10 30 39 60 34 31 30 9 20-7 11-13-1-10-39-60-4-40 9-30 24-12 80-1 20 7 80 50 12 16 9 40 39 4 20 14 24 62 16 19 30 18 50 14 30 19 65 90 2 10-7 13-10 5-20-1-70-40-90-22-30-21-25-34-15-7-20-1-20 7-12 11-33 50-3 10 3 10 24 30-1 10-23 20-4 20 14 20 49 40 68 90 28 8 40-13 23 5 19 10 7 10 1 20-17 80 3 20 16 20 28 7 30-20 73-27 24-20 13-24 20-7 27 11 23 20 30 53 7 47-9 60-10 20-18 19-20 9-40 4-80-24-10 22-1 30 9 50-8 24-50 33-60 13-60 24-20-1-20-12-27-41-44-40-6-10-3-20 18-40-41-50-47-44-20-12-20 5-20 21-12 30-3 20 4 30 10 20 20 20 78 50 43 56 27 24 4 10-5 10-47 40-16 20-2 20 12 50-3 17-5 3-6 0-12-20-1-70-26-25-30-1-100 32-20 9-10 11-16 44 0 20 36 18 20 19 15 33 0 30-71 110-53 170-11 22-10 12-10 4-40-9-30 1-24 10-21 20 1 40 7 20 20 30 1 30 6 15 20-1 20-11 60-55 10-5 20 1 20 16 10 19 21 91-1 20-10 14-90 24-40 19-14 13-6 10-2 20 11 20 53 30 25 30-7 13-60 18-10 9-5 20 12 20 63 59 120 89 20 6 20-5 14-19 6-22 10-8 10 8 10 20 3 52 7 20 18 20 22 14 30 5 150-23 110 14 20-10 38-40 42-20 20-2 20 9 9 13-3 90-6 16-20 8-80-10-20 2-20 10-80 54-15 30-1 30-14 8-40 1-20-9-40-30-20-2-10 6-14 26 5 60-4 20-17 40-20 70-20 30-20 13-60 18-60 34-30 1-60-12-20 2-14 14-6 62-20 20-20 1-10-13-3-30 18-70-6-20-19-25-20-13-30 2-30 23-70 71-20-1-20-23-30-59-35-35 1-60 6-30 13-20 34-20 41-12 20 5 30 30 20 5 40 0 70 10 110-5 70 27 30-5 24-15 7-10 0-20-35-60-25-90-31-55-21-65-19-32-30-24-20-1-20 9-24 28-3 20 5 20 33 50 5 20-6 10-57 40-7 10 19 50-2 20-13 15-30 5-20-10-6-10-1-10 7-20 30-40-4-10-11-10-25-16-20-4-50 17-10-7-30-45-20-9-30 0-30 17-40 65-40 40-10 22-11 60-9 10-20 4-80-16-50-49-20-9-30-2-20-6-50-45-20 7-20 1-76-35-104-22-30-2-9 4-2 20-7 20-12 14-20 12-60 14-40 2-60 18-16-10-26-40-53-50-26-50-9-10-50-26-12-14-8-20-3-60 6-20 14-20 23-23 30-21 70-21 12-25 3-20-5-15-40-8-36-27-4-20 6-10 24-12 20 0 40 25 40-21 50-9 30 9 7 8 6 20-6 30-24 70 10 70-3 18-20 16-20-3-50-56-30-20-10 2-10 20 0 41 10 26 17 16 23 5 40-1 20 11 16 25 24 60 30 34 20 12 65 4-5-21-30-16-25-33-15-50 4-20 6-6 20-4 20 8 40 56 24-14 36-37 20-8 40-1 70 18 40-6 32-16 9-20-3-10-8-6-30-10-50-7-9-7-3-30 12-14 10 0 40 17 46 7 34 27 60 16 50 28 10 3 16-4 2-10-12-10-4-20 10-80-6-80 4-15 10-10 20 3 13 12 22 40 13 40 0 30-38 60-3 10 3 6 21-16 14-20 12-50 13-10 10-1 6 31-5 50 14 30 45 52 30 14 20-1 40-20 10-12 3-13-9-220-4-17-10-6-70 15-16 8-2 30-22 26-20 11-10-9-2-8-1-40 26-40 1-40-4-27-25-43 2-10 28-40 2-20-6-20 46-40 8-30-15-29-42-31-38-45-10-4-20 5-59 24-24 20-9 30-6 70-21 70-29 10-62 4-20 13-20 29-17 34-3 30 17 20 23 10 11 0 31-60 28-34 20-3 10 6 15 21 2 20-10 30-17 19-20 10-40 3-10 8-1 30-9 24-10 12-20 7-20-4-13-9-22-60-11-10-14-2-50 9-20-6-10-13-30-71-31-47 4-20 25-40 22-19 20-8 30 4 40 26 30 13 40 4 20-6 10-14 3-30-13-40-30-55-20-5-60 29-20 5-20-6-40-26-14-2-16 16-12 34-14 20-34 17-40 7-20-9-11-25 4-70 18-40 0-10-10-10-81-3-40 5-90 34-20-8-42-38-6-20 5-30 23-30 20-8 20 3 60 27 80-1 60-20 20-2 100 32 80-24 74-47 26-42 40-36 20-25 37-77 5-40-12-30-50-27-40-9-60 35-70 9-55 22-55 41-40 38-20 11-20 5-10-3-10-12-16-80-24-70 6-60 14-32 50-6 20-8 21-14 27-30 14-40-2-31-10-17-10-8-46-14-6-10 1-20 11-27 10-7 40 2 20-4 10-9 3-15-9-20-44-40-50-63-20 1-34 22-66 22-15 18-12 60-13 5-20-11-24-24-36-19-30-41-20-16-20-8-23 4-16 20-11 40-10 19-50 36-40 65-20 13-30-6-20 6-22 17-18 30-5 40 7 30 18 13 43 7 21 10 6 10-9 20-21 10-40 2-27-12-23-18-10-1-10 8-26 41-64 45-40 11-40-8-20-71-15-17-42-30-19-30-16-60-6-80-6-20-12-10-44-15-20-15-31-40-14-30-7-60 5-20 59-50 15-20 6-20-7-20-26-15-70 5 0-481 40 4 30 15 25 32 8 30-1 30-9 30-57 100 0 20 6 10 18 17 20 10 20 1 80-13 20 5 8 10-7 20-36 50-8 30 6 30 21 40 1 10-31 40-3 30 14 40 25 25 20 1 20-6 38-20 7-10-15-30-41-60 0-10 19-10 31 0 21 10 20 23 29 57 11 7 30 4 40-2 90-27 31-32 16-30-2-20-19-40 0-20 14-12 20-4 21 6 66 50 17 20 14 30 11 10 81 2 20-5 10-9 8-18 10-50 20-30 32-16 40 0 20 14 17 32 3 20-7 50 7 22 20 16 48 12 42 29 10-1 15-28 6-40 0-50-8-40-19-30-65-50-18-20-10-20-11-55-10-20-20-17-20-4-70 57-20 8-20 0-24-19-26-43-35-37-12-20 1-30 16-27 20-14 70-28 20 0 70 49 20 1 14-11 8-20-1-30-8-20-23-19-30-8-25 7-35 22-20-4-51-38-15-20-23-50-11-10-10-1-10 5-19 46-21 17-20 2-20-5-20-12-8-12 1-20 29-30 13-20 7-40 11-30 37-53 20-9 80 2 50 29 20 4 47-23 63-19 50-27 20-4 60 6 70 20 20-10 30-36 25-20 45-25 40-8 40 7 110 36 11 10 15 50 24 17 30 8 30-3 30-25 60-24 50-32 20-7 10 3 34 83-13 40 2 10 17 15 20 4 30-8 27-21 100-110 46-40 11-20-2-10-9-10-53-14-40-23-10 1-60 27-110 7-50-4-50-18-67-56-113-63-18-17-1-10 8-20 41-40 12-20-1-30-21-30-30-21-50-8-70-38-40-11-30 8-50 48-30 15-31 27-19 6-30 1-15 13-12 20-3 20 10 30 20 28 20 15 10-5 21-38 19-20 20-4 28 14 10 20 1 30-14 40-15 20-10 6-20-2-40-25-50 20-60 4-50 18-22-1-18-19-14-51-44-50 22-20 56-29 37-31 53-31 19-29 14-60-3-9-10-5-30 6-30-16-12-16-6-20 6-30 12-12 30-14 100-24 20-20 16-40 14-19 30-19 20-5 80 25 70 2 33 16 28 30 0 20-14 50 3 10 10 7 30-2 50-22 70-7 23-16 25-50 25-20 87-28 140-19 21-13 9-20 10-44 0-36-10-7-50 40-30 9-30-6-10-7-12-19-2-30 9-70 7-20 18-23 20-16 20-6 30 13 30 31 20 14 20 2 70-10 9-5 5-10 5-30 8-20zM2020 1698l-20 7-10 12-45 83-4 20 5 10 14 10 20 4 30-3 29-11 71-31 13-19 4-20-7-22-20-23-20-7zM2180 1414l-5 6 3 10 12 11 4-11zM2210 1269l-17 11-2 10 4 10 25 22 20 3 10-4 13-21 3-20-20-10zM1360 3494l-10 9-7 17-1 20 6 20 22 28 20 18 10 4 15 0 11-10 4-20-4-30-10-30-26-25zM240 1978l-27 12-9 10 1 10 25 19 30 2 24-11 6-20-20-20zM440 1916l-4 14 14 22 20 7 10-9 0-20-10-14-20-4zM890 1175l-16 15-4 26 10 22 25 22 13 20-4 60 16 13 70-1 30 12 16 16 7 20-5 20-23 40 4 10 41 29 60 52 20 6 10-4 11-13 49-103 15-47 4-120-3-20-10-20-21-20-45-17-20-1-60 12-60-20-60 4-50-16zM1080 1089l-20 11-12 20 2 10 20 9 20-4 13-15-3-22-10-8zM1560 1307l-150 90-11 13 0 10 26 40 7 60 25 50 1 30-8 19-10 5-50 7-50 42-20 13-30 10-30-2-20-11-14-13-26-43-20-12-10 1-10 8-20 46 3 20 37 45 20 17 41 18 17 20-6 20-66 50-5 20 60 140 29 37 20-1 40-18 20 5 30 16 10-4 22-25 18-5 20 11 37 34 33 43 20 8 90-36 50-5 50 7 23-7 27-22 10-3 10 6-1 49 21 50 4 20-4 20-10 12-30 9-40-4-20-11-59-46-41-9-30 5-31 14-27 20-14 20-3 20 15 23 39 17 100 20 12 10 7 20-3 20-15 19-71 31-30 30-40 140-21 50-8 40-25 30-4 10 19 18 50 26 10 1 10-8 42-47 38-15 40 8 60 41 10 2 10-6 37-60 9-30-24-80-4-10-33-30-4-10 1-20 36-70 22-17 20-8 30 4 50 37 20 2 10-10 14-48-9-50 26-60 4-20-17-80 35-90 30-60-3-11-20-6-40-3-70 8-30-8-14-20-25-70 8-20 37-40 1-10-5-10-22-10-39 10-21 17-5 13 6 40-6 20-28 40-47 44-15 6-25-1-30-9-13-10-2-10 6-10 19-16 30-14 8-10 12-46 21-54-2-10-8-10-31-13-20-19-40-66-10-2-30 12-20 2-13-4-9-10-1-10 13-16 60-17 21-47 24-30 5-10-22-40-2-30 14-38 36-52-1-10-12-20-43-51-20-13zM1720 1436l-43 114 13 20 20 11 10 1 20-11 10-16 10-33 3-32-3-31-10-19-20-8zM1810 1710l-5 10 5 13 10 4 9-7 2-10-9-10zM1500 496l-20 13-40 9-18 12-5 20 7 10 20 10 26 0 20-11 30-49 0-12-10-7zM1070 1829l-12 11-3 10 4 10 21 12 30-2 12-10-2-10-30-20zM1170 2069l-22 21-8 30 10 22 40 38 1 20-5 20-16 36-10 11-50 5-20 13-7 25 1 30 5 10 11 8 20 2 17-10 23-36 10-8 40 3 30 0 26-9 40-40 4-10 3 10 27 20 20 6 4-6-2-10-12-14-20-7-20 1-10-10-64-90-18-50-12-20-16-12zM1730 3020l-20 15-5 25 35 84 10 15 10 1 30-12 38-38 8-20-3-20-18-20-35-21-30-10zM2010 2448l-19 12-4 10 6 40 7 19 10 6 10 2 16-7 30-40 0-20-15-20-11-6zM2584-120l110 0-1 30-5 20-12 10-26 6-40-5-17-21zM2827-120l401 0 2 62 10 22 10 10 10 1 20-11 23-24 14-30 4-30 189 0 0 119-40 11-58 30-52 50-80 24-20 0-9-4-12-20-9-43-10-5-60 1-60-9-7-4-21-40-12-4-12 14 4 10 38 25 4 15 3 40-4 30-12 30-21 22-30 10-20-7-15-25-21-80 2-60-16-8-20 6-40 38-20 10-20 2-60-44-28-34-6-20 2-10 15-20 34-30zM1336-90l14-5 10 11 51 84 9 41-10 1-36-22-44-23-50-6-12-11-11-20 3-14 40-10zM2464 30l16-6 20 6 8 10 0 10-8 10-20 1-10-6-9-15zM1211 40l39 0 20 13 6 17-2 20-10 20-14 11-30-2-13-9-14-20-6-20 3-18zM2842 80l8-3 10 5 2 18-7 30-16 30-9 9-20 8-60 0-18-7-6-10 8-20 36-25zM3503 90l7-3 0 34-10 0-10-3-6-8zM306 120l4-6 10 3 46 33 8 20-14 26-20 13-10 0-20-17-11-32 1-26zM698 140l12-1 5 11-5 8-10 1-7-9zM541 190l19-5 10 3 9 12-5 20-14 12-20 0-12-12 1-20zM3226 210l164 14 20 14 22 32 18 18 20 7 40 2 0 252-13 11-2 40-11 20-26 20-28 7-20-7-40-28-20 0-61 58-39 22-47 18-59 90 4 20 8 10 14 11 20 6 10-4 30-40 20-7 20 5 9 9 2 20-10 20-26 30 5 21 20 29 80 33 20-6 30-23 20-3 20 10 50 44 20 8 0 409-21 18-10 40-9 7-160 32-27 11-12 20-2 40-9 13-20 12-30 1-40-25-20-3-20 4-30 17-10 1-30-10-21 10-3 10 4 11 13 9 37 8 10 6 21 26 9 20-40 27-24 23-5 20 8 10 61 29 40 30 70 14 16 17 1 10-8 20-50 50-59 30-20 3-20-3-20-17-19-43-17-20-34-24-30-10-20 15-22 59-8 14-10 5-10-2-10-13-16-54-20-100-45-100 3-30 33-40 4-10-3-10-16-6-30-2-30-13-30-29-30-50-30-15-20-37-14-38 3-60-58-100 1-20 25-70 10-120-7-14-10-8-50-10-12-8-47-100-4-30 9-80-2-40 6-10 20-9 10-10 3-21-13-39-30-30-20-33-18-48-2-30 8-20 22-30 13-50 17-15 70-5 50 8 31 22 29 48 20 7 20-12 28-43 45-40 37-71 20-9 40 5 39 15 15 20 0 20-25 80 2 30 10 30 19 21 70 48 40 16 2 45 9 20 11 10 38 20 30 4 15-14 10-30 0-30-8-30-10-20-17-9-20 4-40 20-8-5 25-70 0-50-8-20-51-50-14-30 7-20 15-10 14-1 20 17 30 45 30 6 30-10 20-23 6-34-8-30-26-40 0-10 8-10zM3020 717l-13 13 1 10 22 9 20-2 16-7 3-10-4-10-15-10zM735 270l25-3 29 13 19 20 6 20-9 30-45 73-10 11-20 6-40-6-80 1-12 5-28 33-10 7-20 5-20-7-22-18-14-30 10-30 24-20 43-20 19-44 10-11 70 0zM-120 340l30 14 58 46 42 59 15 31 1 30-12 20-24 15-50 13-29 22-8 20-2 30-7 10-14 5zM375 400l19 0 21 10 16 20 6 20-3 20-14 33-10 12-20 8-20-2-25-11-15-12-9-18 1-20 14-30 18-20zM566 550l34 3 110 23 11 14 17 50-2 10-66 45-20 1-30-21-20-5-30 8-30 22-11 20-5 20 3 50 13 31 34 29 3 10-14 20-23 14-20 3-30-5-60-33-50-20-100 5-20 9-21 27-5 20 5 30 21 43 20 22 20 13 40-14 13 6 5 10-8 19-10 4-19-3-21-12-26 12-64 24-40 30-20 3-20-10-31-37-47-40-8-20 9-20 78-60 6-10-9-20-96-90-3-20 11-40 10-12 20-11 40-3 110 20 20 13 29 33 11 4 50-5 20-9 15-20 3-20-1-40 4-10 69-28 46-52 24-17 30-11zM2299 560l21-10 20 5 40 49 90 46 18 20 10 20 8 20-6 9-60-8-50-21-10-10-17-40-10-10-43-11-20-11-6-8 0-20zM-120 810l0-5 100-1 5 6-15 26-20 17-20 6-50-13zM-120 1160l0-6 10 4 11 12 4 20-5 12-20 10zM157 1290l13-6 10 1 10 12 4 23-7 40-29 60-18 14-10-5-3-19 13-89zM639 2070l11-5 20-1 50 24 20 4 60-7 112 35 9 10 0 10-29 90-12 23-10 2-70-32-30-2-50 8-30-10-50-44-21-35 0-40 10-20zM542 2200l28-6 10 4 8 12 0 20-5 10-23 16-30-1-15-15 5-20zM2728 2200l102-7 30 3 90 43 30 7 50-16 33 0 17 6 15 14 4 20-6 10-53 26-41 54-49 48-20 11-20-4-50-48-60-17-40-18-20-2-27 10-33 43-20 13-30 6-60-2-30 9-40 15-70 16-11 10-34 70-35 30-40 14-30-15-14-19-1-10 13-20 45-40 67-30 12-10 6-20 3-70 19-35 40-32 110-57 21 4 34 50 25 6 20-12 30-44zM-30 2300l39 0 21 19 6 31-11 50 5 15 10 8 11-3 29-42 30-10 22 2 10 20 3 80 9 20 16 16 30 8 50-5 100-27 16 8 8 10 6 20-1 20-6 20-13 19-30 14-40-3-60-19-40 3-20-8-90-59-133-47-22-20-6-20 10-20 28-30 1-60zM3290 2410l30-4 40 2 70 12 29 10 12 10 3 10-9 20-15 15-110 52-18 23-13 40-9 8-80 2-90-15-80 20-26 15-1 10 15 20 22 18 20 7 30-3 60-26 30 2 50 15 30-2 21-21 9-33 10-1 10 7 20 28 15 39 2 20-31 90-15 90 1 60-5 10-37 14-10 9-21 37-19 16-20 1-10-7-36-60-17-50-27-23-20-5-50 4-30-16-50-40-20-9-80-17-50 4-28-8 38-70 0-21-20-22-20-4-30 5-60 35-30 12-20-2-40-34-30 0-20 13-7 18 7 13 20 11 50 11 44 35 26 6 71-6 15 10-17 70-32 80 5 30 29 50 8 30 9 90 7 20 25 40-2 10-48 39-30 35-20 7-10-5-11-16 2-60-3-20-28-44-30-19-60-2-30-7-20-11-14-17-8-40 11-60-30-60-12-70-7-20-20-4-77 34-63 11-40 104-20 13-30-9-22-29-1-30 23-40 20-17 40-23 6-10 23-80 7-60-2-50 6-17 20-13 70 12 40 1 120-36 20 4 50 37 30 3 30-8 20-23 3-30-6-10-27-22-47-18-8-10 1-10 18-20 36-22 20-18 13-40 8-10 9-2 10 5 6 17 1 40 33 40 30 15 30 2 70-20 90 8 60-10 20-10 30-45 10-8 10-1 30 13zM555 2590l66 20 42 20 5 10-5 20-23 19-24 11-36 8-30 0-20-5-18-13-4-20 10-30 17-30zM34 2600l6-5 10 1 18 24 1 10-16 10-13-1-12-9 0-20zM3497 2710l13-3 0 87-10-4-15-20-7-30 6-20zM244 2740l16-7 20 0 80 19 50-15 20 1 20 13 17 29 8 30-4 20-21 5-50-7-60 8-60-15-30-21-12-20-3-20zM-39 2750l9-7 10 2 10 25-8 30-29 50-7 30 0 30 14 70-1 90-9 20-10 10-30 16-30 7 0-295 20-5 18-13zM3431 3000l29-1 50 6 0 118-60 8-40 15-20 14-11 20-19 90-10 13-20-8-20-16-16-29 1-30 45-110 30-57 20-21zM2968 3070l22-7 11 7-1 10-11 10-19 1-8-11zM3070 3180l30-6 50 4 24 12 11 20-3 20-12 13-70 24-30 20-30 38-15 35 3 20 7 10 35 19 30-4 60-25 20 2 15 18 13 50-14 70 9 20 36 40 5 20-14 20-60 30-9 20 10 30 21 20 19 10 29 8 20-2 10-7 13-19 22-50 15-49 10-1 10 14 4 36 21 50 19 70 18 30 18 12 30 1 20-10 40-35 0 412-430 0-175 0 41-110 14-20 33-30 5-10-8-70 7-30 12-20 18-10 23-3 80 13 20 12 40 46 20 6 70-15 20-9 15-20-3-20-98-40-60-40-104-49-120-16-60 10-30-8-90-95-13-32-3-30 8-20 27-30 12-20-2-20-28-50 0-20 11-20 18-15 20-7 80-4 29-14 15-20 6-20-3-70 7-20 26-22 60-16zM3050 3507l-12 13-1 10 5 10 18 9 20-5 11-14 0-10-7-10-14-7zM3200 4019l-41 51-8 20 1 20 11 20 17 11 20 4 23-5 20-10 23-20 11-20 3-25-8-15-13-10-39-21zM2920 3574l-10 19 1 47 19 35 10 5 10-3 10-18-4-39-16-35zM1075 3260l30 0 14 10 1 10-10 20-28 20-12 1-10-4-14-27 6-20zM130 3270l20 0 10 6 29 44 12 30-3 50 20 30 32 15 60 1 20 5 57 49 15 20 2 20-6 20-15 20-23 14-40 5-60-27-30-5-20 5-8 8-1 10 6 10 60 50 29 60 99 100 4 10-4 20-28 40-8 20 0 20 9 50-26 60 12 20 36 23 20 6 30-1 20-7 13-11 6-30-14-60 9-30 16-21 20 1 50 26 60 21 40 2 20-9 15-20-2-20-17-40 4-14 10-6 10 1 60 35 10 2 47-28 17-30 22-20 74-32 180-17 20-7 40-32 20-4 30 6 20 13 23 53 48 30 19 18 10 2 10-8 20-27 20-15 20-6 20 9 10 18 11 39 0 50-26 70-18 30-17 18-30 10-40-5-37-23-53-53-20-6-20 3-20 13-10 12-26 71-64 81-20 8-70-14-30 8-25 17-18 20-7 20-59 0 1-30 10-30 28-38 45-42 7-10-1-10-74-90-27-16-60-22-10 1-24 27-1 10 26 70-1 40-20 33-56 37-7 10 13 60-541 0-19-36-10-78-10-9-30-6-30 8-29 21-23 30 0 20 12 24 20 18 20 3 50-10 13 5 4 10-237 0 0-66 23-4 17-9 9-11 1-10-6-20-14-21-30-25 0-203 70 13 30-6 36-38 67-50 16-30 7-50-3-20-10-20-97-100-7-20 3-30-4-10-68-90-40-34 0-53 40-13 20 3 20 15 18 22 12 42 10 9 30 5 30-7 20-13 39-66zM150 3825l-8 5 1 10 7 5 10-5 0-10zM230 3988l-31 22-12 20-2 10 5 10 24 20 36 22 30 9 20-7 10-12 16-32 3-20-26-30-23-15-20-4zM10 3870l-1 20 21 32 30 29 10 2 10-6 15-37-2-20-7-10-21-10-25-5-20 0zM2072 3270l8-5 10 3 47 22 19 20 4 15-2 5-14 0-50-20-18-20zM3337 3440l5 0 2 10-9 0zM-120 3660l30 12 18 28-1 40-14 30-13 13-20 8zM2521 3670l29 2 20 15 10 23 1 30-11 27-10 3-40-17-20-2-10 9-1 10 11 37 0 23-10 9-20 0-11-9 1-27 15-43-10-50 4-10zM2705 3940l15 0 10 10 1 20-5 10-16 9-14-9-6-20 3-10zM1875 4100l25 0 14 10 19 40 7 40-90 0-64 0 5-50 4-10 15-12zM2444 4120l66-3 40 12 21 21 13 30 2 10-26 0-142 0 10-50zM1399 4160l21-5 12 5 9 10 7 20-18 0-51 0 8-20zM1586 4160l24-7 28 7 16 10 13 20-17 0-85 0 9-20z"/>
<path fill="#ffe4e4" fill-rule="evenodd" d="M18-120l53 0 19 60-2 40-8 30-10 6-40-29-30-3-50 14-20-7-4-11 3-10 17-20 55-40zM1162-120l19 0-11 6zM2612-120l37 0-9 18-10 4-10-4zM2876-120l154 0-6 20-14 19-20 16-30 10-40 1-48-6zM3168-120l17 0-3 10-2 7-10-3zM3349-120l134 0-14 40-37 50-23 20-39 18-30 1-8-9 14-70zM2845-50l15-4 7 4-12 20-15 4-5-4-1-10zM248-40l12 4 9 16-2 40-7 9-10-5-16-24 1-30zM2036-20l44-1 20 6 9 15-2 30-16 20-32 20-20 20-8 20-8 50-7 10-16 7-60 8-20 15-2 10 14 20 60 40 14 20 6 20-3 40-31 50-5 30 36 100 60 110-1 30-22 40 0 40-5 10-42 30-13 20-3 30 8 30-11 6-10-7-40-61-20-10-44-8-42-40-14-4-19 4-21 22-20 23-20 11-20 1-50-9-60 19-40-2-30-16-50-62-50-37-13-20 2-10 39-50 77-50 24-30 6-30 0-40-18-80 23-43 19-57 21-16 38-14 62-15 70-6 30-13 17-16 10-20 24-130 9-18 20-9 70-4 16-9 34-31zM1910 709l-6 11 3 10 13 5 10-5 5-10-2-10-13-5zM1719-10l21-6 10 6 8 20-5 50-9 20-14 15-10 5-13 0-12-10-4-10 9-60zM3300 30l10-5 6 5 1 20-8 20-16 10-8 0-7-10 7-20zM39 150l11-6 10 5 10 11 2 20-12 5-14-5-7-10zM3281 270l29-9 40 4 29 15 18 20 15 40-5 90 15 70-4 30-18 20-70 7-30 11-40 17-20-9-30-46-41-30-8-30 2-30 6-20 11-13 51-37 34-80zM1107 280l14 0 19 17 8 23 3 30-6 20-43 80-12 14-20 12-20 2-14-8-12-20-4-30 7-20 32-40 23-60 8-11zM2127 280l23 5 10 10 8 15 3 20-6 30-11 20-14 13-20 7-20-3-20-14-9-13-2-20 4-20 17-27 20-18zM1239 300l11-1 3 11-13 35-10 9-7-14 7-29zM717 320l20 0 12 10-4 30-15 23-80 32-20 1-40-12-10 8-22 38-18 5-10-3-11-12-3-20 14-21 50-10 11-49 9-13 20-3 50 7zM2280 330l20-1 30 8 25 23 4 40-7 20-12 10-20 4-20-6-36-28-9-20-2-20 9-20zM3487 340l23-9 0 39 0 6-10-3-15-13-2-10zM2886 350l14-7 10 2 11 15-18 60 6 80-9 15-40 8-20-3-20-11-10-9-6-20 12-30 47-50zM-120 380l0-5 10 3 19 12 23 30 29 70 0 10-13 10-68 26zM1394 400l16-8 20 1 20 11 10 16 1 20-8 20-23 24-40 13-16-7-8-10-5-20 4-20 15-26zM1253 430l7-7 20 5 8 12-2 10-6 4-14-4zM2616 510l14-4 20 2 80 25 80 57 50 42 30 11 20-7 9-16 1-70 6-20 14-3 20 8 14 15 6 20-7 50 17 70-9 40 9 17 20 12 55 21 65 74 70 45 40 77 60 14 50 45 50 17 20 14 33 64 5 40-7 20-15 20-36 21-40 2-30-12-10-14-5-17 5-40-3-20-17-22-30-10-30 2-15 10-9 20 4 28 17 42-6 70 9 25 10 1 40-32 30-10 20 12 42 64 11 30-1 20-29 50-23 20-30 11-40 6-60-3-20 6-11 20 3 30-12 13-40 4-18-7-22-19-10-3-20 5-30 23-20 25-30 67-30 39-23 53-7 7-20-2-30-27-11-18-2-20 32-50-11-40-18-15-40 4-30-9-21-20-13-30-1-20 6-30 11-20 35-40 2-20-25-30-74-66-60-35-15-19 0-20 32-70 1-50 12-70-4-30-16-21-54-29-36-29-20-21-10-21-2-29 8-30 14-21 38-39 7-20-3-20-28-70-11-60 1-20 26-25zM2760 1129l-10 13-10 48 10 4 5-4 23-20 6-20-2-10-9-10zM1056 660l14-6 10 4 8 12 3 20-9 20-12 8-10-3-10-12-3-23zM87 730l23-5 30 4 30 10 17 11 12 20 3 30-9 20-13 10-20 3-30-6-30-15-14-12-13-20-3-20 6-20zM437 770l13-9 22 9 11 20-3 20-10 8-10 1-20-9-7-20zM1184 900l26-4 40 8 20 8 19 18 7 20-2 20-23 60 0 10 9 8 20-7 30-23 30-5 140 37 100 8 60 24 30 5 30-9 60-33 40-7 32 2 32 60 53 50 11 20 1 30-17 70 1 30 7 16 20 9 70-6 20 3 44 28 15 20 41 107 70 103 21 20 49 31 30 27 50 75 70 61 7 16 12 60 11 17 77 43 18 20 8 20 5 30-3 50-5 30-10 20-23 20-47 18-40 25-30 4-20-11-60-55-14-21 4-20 10-11 69-29 4-10-7-20-16-5-50 7-30-8-30-20-23-24-27-53-9-7-51-4-14-6-16-19 0-21 24-60 4-20-28-61-15-19-15-11-60-11-30-12-16-16-34-53-20-6-8 9-17 60-25 30-20 3-70-9-30-7-11-7-4-10 3-20 23-80 19-34 36-36-1-20-38-40-31-50-16-15-20-4-40 13-20 0-20-13-40-40-30-12-20-1-30 8-80 50-20 5-50 1-20 14-22 44-6 60-29 30-3 10 8 20 42 50 1 30 8 20-4 20-25 25-40 18-30-1-25-12-13-20 1-50-18-30-4-30 12-30 32-40 20-120 15-26 20-16 70-23 10-15 0-10-14-20-32-20-34-8-60-5-114-47-6-20 9-50 24-50-4-20-22-40-1-30 17-30zM1889 960l21 1 12 19-2 21-20 20-30 8-11-9 0-20 7-20zM928 1000l22 4 20 13 48 53 3 10-7 20-24 25-20 6-60 1-40 8-30 17-30 36-50-6-60 28-22-5-17-20-15-100-45-30 1-10 23-30 15-8 20 2 10 8 10 18-5 40 45 6 40-9 50-37 20-10zM2185 1160l35-9 40 13 43 26 17 20 4 20-12 30 8 6 50-4 20 8 14 20 14 60 26 30 10 20 2 10-16 13-20-2-10-6-30-35-70-12-27-18-7-20 3-20 26-40-115-23-30-17-12-20-1-20 13-17zM-120 1310l0-8 40 10 20 16 10 16 3 36-6 20-18 30-29 27-20 6zM706 1400l24-7 16 7 9 10 3 30-7 20-16 20-25 11-15-11-4-20 2-30zM1649 1460l11 3 4 17-3 20-6 10-15 4-8-14 2-20zM885 1500l5-9 10 1 40 26 20 7 60-2 30 8 20 18 13 21 8 20-1 22-10 12-10 2-90-14-50-18-30-24-13-20-6-30zM1642 1590l18-1 20 12 24 29 14 30-1 30-9 30-11 20-17 15-20 2-20-16-27-61-3-30 4-30 13-20zM-120 1620l0-5 12 5 18 20 1 20-5 10-26 15zM1059 1670l11-1 20 8 58 53 9 20 5 30-11 20-11 4-30-5-72-49-8-20 0-30 10-19zM779 1690l19 10 9 20-4 30-3 8-10 6-20-7-10-12-4-15 4-26 10-12zM466 1760l24-7 20 3 29 24 11 20 3 20-6 20-17 20-30 18-30 5-20-2-20-11-15-20-4-20 10-30 19-24zM678 1830l22-6 20 3 20 17 30 41 10 5 34-10 36-29 10 9-3 30-6 10-21 13-20 12-30 37-10 3-60-13-55-82 0-20 7-10zM2636 1850l34-8 40 3 40 15 20 20 8 40-8 50-20 29-30 12-30 1-40-13-39-29-23-30-8-30 6-30 14-14zM256 1880l84-9 12 19 10 50-2 25-10 8-20-5-40-24-30-9-20 0-50 16-30 4-24-5-10-10-3-10 7-20 20-14 70-5zM3124 1890l16-9 20 5 6 4-6 14-10 6-14 0-11-10zM1010 1900l30 7 26 23 13 20-9 8-10-1-30-10-24-17-8-20zM1119 1960l31-4 20 12 16 32 1 20-7 10-30 9-20-4-30-65zM351 1990l9-7 20 1 28 6 8 10-8 60-22 30-76 61-20 7-55 2-15 6-26 44-24 18-30 4-30-11-27-31-15-50 7-40 25-39 20-10 20-1 50 24 20 4 70-15 30-14zM1326 2060l14 1 30 33 20 14 20 0 40-26 20 11 40 50 19 17-47 70-1 20 6 10 33 19 86 21 24 20 1 10-12 20-58 40-18 20-20 50-13 20-30 20-50 11-16 9 26 50 5 20 8 20 17 16 5 14-4 10-11 8-20 2-30-12-40 20-20 3-25-11-10-20 3-30 13-30 29-40 31-30 1-70 31-80-49-110-14-16-50-32-24-42-4-30 4-20 23-40zM2055 2080l25 2 50 22 80 22 22 14 11 20-7 20-66 50-30 13-60 7-10 4-10 12-14 54-16 21-20 8-20-2-11-7-9-20 10-20 56-60-1-20-27-50-2-30 8-20 16-25zM1617 2100l43-4 20 7 23 17 7 10-2 10-8 4-50-4-40-1-50 9-5-8 11-10zM653 2110l17-7 60 21 60-3 39 9 21 12 14 18-3 20-11 9-130-2-30-6-20-12-17-19-7-20zM546 2210l14-6 16 6 4 10-10 20-20 6-13-6-4-10zM2880 2260l20 1 30 10 20 10 20 18 4 21-20 30-14 8-20-4-51-54-10-20 3-10zM2596 2300l24-1 24 11 7 10-9 20-22 7-20-9-11-18 0-10zM984 2310l20 0 16 7 23 33 55 40-4 10-18 10-66 9-20 13-30 19-20-1-30-39-14-41 6-30 18-17zM2478 2350l12-5 10 5 0 16-10 8-10-1-6-13zM1838 2420l22 9 40 25 50 12 20 21 8 33-6 40-7 10-37 20-28 16-30 8-20-11-20-25-27-88 16-60 11-9zM3320 2450l34 0 9 10-3 6-50 32-33 52-27 21-30-1-15-10-5-10 3-20 27-30zM1978 2580l12-6 10 1 20 15 5 20-8 30-17 17-10 0-10-10-7-37zM2801 2590l89-9 30 7 9 12 11 50 10 13 60 26 50 40 49 21 7 10 0 10-9 10-37 14-40 15-20-4-50-29-30 19-10 2-21-7-11-10-10-20 1-50-4-20-25-27-50-31-11-12 1-20zM568 2630l22 0 20 10 4 10-5 10-29 9-20-6-6-13 3-10zM1855 2670l15-2 50 14 36 18 8 10 7 20-8 20-13 6-70 1-20-8-26-19-7-10-2-20 15-22zM1203 2690l27-5 50 7 20 9 17 29 7 50 33 30 18 30 26 20 8 20 1 20-8 20-12 11-20 6-10-1-40-31-19-35-11-61-10-4-20 6-50 33-20 8-20-2-10-5-20-25-17-50 0-20 18-20zM716 2710l14-6 20 3 21 13 14 20 1 20-5 10-20 20-11 5-20 0-20-9-14-16-2-30 11-20zM2409 2720l41-6 26 6 3 20-4 30-14 20-21 13-40 14-10-2-10-15 0-50 10-18zM3197 2720l23-8 41 8 18 10 5 10-4 12-20 10-30-5-30-17-6-10zM1643 2730l7-10 13 10 2 20-7 30-8 15-2-5zM1418 2740l22-5 30 6 30 16 11 13 3 10-4 11-10 9-30 11-60 13-22-14-9-20 4-20 17-20zM2530 2810l20-6 20 4 20 12 16 20 12 40-18 65-10 15-20 5-20-8-15-17-9-30-3-70 1-20zM1762 2850l28-10 20 2 14 8 13 20 1 20-8 17-20 21-20 10-40 1-17-9-3-9 8-41zM998 2870l22-10 16 10 5 20-11 24-20 11-10 1-15-6-4-20zM2238 2930l22-6 9 6 5 10-2 20-12 23-20 10-10-4-6-9-1-30zM-120 2950l0-7 20 15 16 32 1 30-14 30-23 14zM1174 3060l9 0 7 9-6 11-14 5-4-5 0-10zM3456 3060l54-6 0 35-10-1-55-8-6-10zM1651 3080l9-6 20 6 27 40 5 20-2 20-18 20-32 3-19-13-5-10 0-40zM1380 3100l20-3 10 9 4 14-5 20-19 19-20 3-15-12 3-20zM838 3200l22 3 14 17 0 20-14 23-10 3-10-3-17-23-3-22 10-15zM1496 3230l4-5 10 2 10 13 11 30 1 30-14 40-18 20-8-10 0-100zM1879 3330l31-8 20 7 21 21 7 20-1 10-15 20-22 15-60 7-50 3-19-5-15-20 0-20 7-20 17-14 60-8zM96 3420l24-6 20 7 30 25 20 24 2 20-42 29-40 14-20-3-13-10-8-20 6-50 8-20zM2978 3440l22 0 11 10-1 10-20 20-20 5-14-5-7-10 2-10 8-10zM976 3450l14 0 18 20 9 30-7 23-10 4-10-4-16-23-7-30 1-10zM2820 3450l14 10-4 6-10 0-6-6zM1536 3470l24-5 21 5 29 21 20 29-3 30-14 30-13 15-27 15-23 6-20-7-40-37-18-32 0-20 12-20zM1132 3480l118 8 20 5 10 9 6 18 6 60-6 30-14 20-12 6-20-3-20-10-40-23-106-30-23-20-1-20 10-12 40-26zM807 3490l23-1 14 11 17 50 25 30 1 10-8 20-26 30-13 4-6-4-18-40-26-21-13-19 0-20 9-30zM2156 3540l14-6 40 9 31 17 21 20 9 20 0 20-21 64-10 21-10 9-10 1-20-11-30-35-17-49zM2346 3570l14-5 10 3 7 12-4 10-13 4-9-4-7-10zM2806 3580l24-2 21 22 21 90-2 12-10 7-20-10-50-59-5-30 9-20zM1315 3600l15 1 10 9 12 20 1 20-13 6-11-6-16-30-2-10zM1509 3680l5 0-4 10zM299 3770l11-5 20 14 13 21 5 20-8 32-40 48-12 10-18 5-15-5-4-10 6-20 23-43zM3217 3770l23 0 80 15 12 15-3 20-29 18-20 2-20-6-20-14-18-20-9-20zM1709 3780l21-5 12 5 28 35 53 5 20 10-7 20-36 39-30 25-20 0-29-44-31-19-5-21 4-20 9-20zM1974 3820l44 0 62 22 30 5 20-2 60-26 20 1 10 7 6 13-6 26-20 15-30 4-30 9-30 36-15 10-15 4-20-3-23-11-67-46-25-24-4-20 9-10zM924 3840l36-3 40 8 80 27 33 28 11 20 7 30-1 70-8 20-12 15-34 15-16 0-20-8-40-61-70-29-57-62-6-10 1-10 12-20 20-19zM1250 3860l10 4 2 16-14 0-3-10zM-120 3880l0-6 10 2 30 12 30 32 50 41 11 19 4 20-3 20-11 20-21 13-20-3-29-30-21-46-10-9-20-4zM3404 3890l26-5 30 16 19 29 20 60 11 9 0 191-106 0 10-40 41-50 0-20-15-12-60-4-20-9-13-25-6-30 5-30 14-29 20-30zM660 4020l30-6 20 9 5 17-3 10-12 13-30 7-23-10-7-20 5-10zM2985 4100l28 0 49 20 2 10-23 40-4 20-17 0-86 0 26-63 10-16zM1855 4140l25 2 12 8 11 20 3 20-36 0-52 0 12-35zM-120 4160l0-6 10 1 30 7 11 8 8 20-59 0zM218 4160l2-5 10 1 20 19 9 15-40 0zM372 4160l48-9 30 8 10 11 5 20-45 0-93 0 21-20zM2481 4160l29-8 20 4 22 24 2 10-14 0-79 0 9-20zM602 4180l28-5 11 5 6 10-7 0-44 0z"/>
<path fill="#ffe2e2" fill-rule="evenodd" d="M2926-120l55 0-5 10-14 10-12 2-20-12zM3383-120l48 0-11 30-10 10-12 0-9-10zM1911 70l39-4 33 4 6 20-6 30-13 13-20 9-50 9-14-11-2-20 6-26 10-17zM1845 240l25-5 20 7 60 35 20 23 3 30-12 20-28 30-4 30 36 80 25 72 28 58 4 20-2 10-20 12-50-15-20 3-20 10-60 47-70 10-10 9-27 44-13 11-20 4-50-11-70 20-30-4-25-20-30-50-12-30 0-30 16-30 61-48 15-22 30-160 19-60 15-30 21-18 23-12 107-22zM2113 300l17-4 10 3 18 21 1 30-9 20-10 11-10 6-20 0-13-7-13-20 2-30 13-20zM3307 330l23-7 20 7 15 20 2 30-7 15-30 29-10 69-10 8-20-2-56-29-11-10-4-10 8-20 41-40 22-41zM611 350l19-3 20 13 4 10-1 10-10 10-13 2-17-12-5-20zM2272 350l8-6 20-3 30 10 10 9 8 20-9 30-9 7-20 3-30-15-15-25 1-20zM-120 420l0-4 10 6 7 18-7 29-10 7zM2627 550l23-6 20 1 40 12 150 109 70 33 25 41 77 50 88 104 50 30 11 16-1 30-20 30-4 20 21 50 5 70 16 70-2 40-12 50-16 30-38 40-41 60-49 43-39 47-14 60-11 20-26 16-26-6-14-13-30-48-10-8-10-3-50 10-20-10-18-28-1-20 5-20 24-28 20-9 20-1 40 20 5-12-13-50-16-30-89-80-14-20-1-20 10-20 44-30 20-30 7-20-2-20-19-20-55-30-26-20-10-20-6-60-14-30-21-17-70-41-23-22-7-14 1-26 44-60 13-30-1-20-37-50-10-40 7-40 13-19zM1189 910l31-4 30 8 20 14 7 12-3 30-40 70-14 13-10-4-55-79 1-30 14-19zM1355 1040l25-4 30 5 110 46 90 3 90 21 20-2 36-19 24-6 30 3 20 12 20 29 3 22-13 17-31 23-7 20-5 50-7 15-30 12-80 5-60-26-30-8-80 4-20-3-37-29-22-10-101-25-90-6-63-29-11-10-5-20 9-22 20-18 20-8 40 10 25-2 25-12zM2198 1170l22-9 20 2 53 27 12 10 10 20-4 20-11 10-20 6-30-3-40-10-23-13-11-20 1-10 10-20zM2699 1170l1 10-10 10-10 0 2-10zM2352 1270l18-2 22 12 13 30 0 30-5 17-10 7-50 2-37-16-9-10-5-20 6-20 15-15zM1841 1290l19-6 20 3 10 16 10 38 10 10 60-11 60 5 30 10 20 18 17 27 43 103 60 90 27 27 63 37 20 17 50 74 52 62 11 50-7 70-12 20-35 20-39 6-40-14-28-32-5-50-7-20-20-14-40-2-20-12-4-12 4-20 29-40 5-20-54-94-30-20-60-12-20-10-60-68-20-15-50-23-40-95-33-23-18-30 0-40 6-10zM3293 1300l17-6 12 6 14 20 9 30-3 20-7 10-35 23-20 8-10-1-11-10 0-10 14-20 8-50zM-120 1340l0-8 20 6 21 22 1 30-12 22-10 10-20 9zM721 1430l9-4 3 4-3 21-10 2-2-3zM1840 1520l20-7 20 0 10 5 6 12 0 30-7 30-15 20-14 8-30 1-15-9-6-10 2-40 9-20zM918 1550l12-5 18 5 21 10 7 10-16 8-20-4-18-14zM1288 1600l42 5 20 12 8 13-8 20-30 21-20 6-30-2-20-12-8-13 1-20 7-11 20-16zM1630 1610l10-7 20 0 20 16 13 21 8 40-5 30-9 20-17 14-10 0-10-5-15-19-12-30-6-40 2-20zM1065 1710l15-7 30 12 22 25 0 20-12 9-24-9-28-30zM488 1770l32 10 9 10 6 20-15 34-20 16-20 8-20 1-18-9-13-20-2-20 8-20 15-17 20-10zM2640 1860l40-6 40 7 30 13 14 16 7 30-4 40-17 30-20 12-30 4-40-11-30-21-20-24-13-30 1-30 12-15zM691 1870l9-8 10-2 20 13 14 37-1 10-8 10-15 1-10-10-19-31zM2455 1940l15-8 20-2 20 4 20 11 14 15 10 20 5 40-5 30-14 30-20 17-40 18-40 35-20 2-20-12-50-42-11-18 0-10 6-10 15-10 60-12 14-8 10-70zM347 2020l23-9 10 3 14 16 0 30-24 27-20 8-10-1-12-14 4-30zM1320 2080l10-4 10 4 40 53 10 6 60-10 20 7 12 14 7 20-7 20-22 19-30 7-50-23-30 8-20-5-10-7-14-19-8-30 7-40zM1628 2110l21 0 5 10-4 1-36-1zM124 2160l6-8 9 8 1 10-10 3zM549 2220l11-6 10 6-10 15-13-5zM1543 2310l37 4 11 6 6 10-10 20-47 23-30 7-10-5-4-25 4-20 9-10zM1463 2430l7-6 8 6-8 11-10-1zM1894 2480l46-4 20 13 6 11 3 20-5 20-14 18-20 12-30 9-20-2-14-7-14-20-1-30 9-26 10-9zM1203 2700l17-2 10 3 19 19 7 20-6 20-9 10-34 20-17 2-10-6-20-19-8-17 10-20zM717 2720l23-6 26 16 7 20-13 26-10 6-20 2-23-14-5-10 1-20zM1415 2760l25-8 34 8 12 10 2 10-18 14-40 6-20-8-6-12 2-10zM1328 2840l14 10-2 25-10 2-10-17 1-10zM1659 3110l11-6 10 4 15 22 2 20-3 10-12 10-20 0-12-12-1-28zM1376 3120l14-9 10 6 1 13-6 10-15 9-10-7 0-12zM1509 3270l8 20-4 20-3 7-4-17zM1816 3370l14-3 20 7 8 16-8 10-20 7-24-7-4-10 3-10zM987 3470l13 9 3 21-3 7-13-7-7-20zM1116 3510l44-5 80 13 19 12 12 30 3 40-7 20-7 6-20 0-50-32-82-24-28-14-8-16 5-10zM945 3870l25-4 30 9 50 37 30 16 20 18 16 34 1 30-7 21-20 14-20-2-17-13-33-51-60-15-28-24-11-20-1-20 10-20zM3408 3950l12-4 10 3 8 11 2 20-10 20-20 6-10-4-9-12 2-20zM3502 4120l8-3 0 73-60 0-9 0 13-30 26-27z"/>
<path fill="#ffdcdc" fill-rule="evenodd" d="M1786 280l84-1 28 11 12 10 4 10-4 10-22 30-2 40 11 40 43 70 6 30 0 30-19 40-57 66-30 18-60 2-14 4-16 18-20 47-20 11-20-3-30-8-70 19-30-8-20-19-16-27-8-30 0-20 7-20 17-20 56-30 20-20 8-70 24-50 7-70 21-50 14-17 20-13zM2114 310l16-4 10 5 10 12 2 27-12 21-20 7-19-8-7-10 2-30zM2277 360l23-10 26 10 11 20-7 24-20 7-25-11-12-20zM2627 570l33-8 40 13 60 54 85 61 18 20 27 47 10 6 60 6 38 21 32 55 40 45 39 70 9 80 28 50 8 30 12 90-6 40-28 60-82 110-30 21-20 8-20-2-29-17-31-30-50-64-50-44-40-27-9-15 7-20 42-14 100-101 9-25-6-40-13-20-20-7-67 17-33-9-14-21 0-40-13-20-43-43-65-37-21-20-7-20 2-20 33-70 7-30-4-10-45-32-17-28 2-40 11-20zM1188 920l22-6 20 2 30 16 5 8 0 20-25 44-20 13-10-1-36-36-9-30 10-20zM1356 1060l24-8 20 1 30 10 90 45 110 9 36 13 12 20 12 44 24 36-3 10-24 10-27 1-80-16-60-3-50-25-28-7-112-15-80-5-29-10-15-10-8-10-2-10 7-10 77-22zM2216 1170l14-3 20 4 47 29 7 10 2 20-6 10-20 8-50-5-20-7-18-16-3-10 4-20zM2337 1280l23-7 20 4 17 23 4 20-3 20-8 12-20 8-40-4-20-11-10-15-2-10 8-20zM1964 1350l26 2 60 21 20 17 19 30 69 160-1 10-7 6-60-3-40-13-70-70-60-35-20-25-9-30 3-20 6-10 30-28zM2809 1460l11-3 20 5 26 38 2 10-24 20-14 7-20 2-16-9-8-10-3-30 7-14zM2914 1490l16-2 20 6 17 16 10 20 5 30-6 20-16 18-10 3-20-5-10-8-42-68-4-10zM1289 1610l41 4 19 16-5 20-34 20-20 3-20-4-14-9-6-10 2-20 8-9zM1631 1620l9-7 20 0 24 27 9 40-5 30-8 14-10 9-10 1-10-4-14-20-13-50 0-20zM2236 1680l14-6 20 2 30 15 74 99 17 30 6 30-3 80-14 22-20 11-20 4-30-4-20-10-13-13-8-30 5-50-14-23-30-24-30 2-5-5 3-10 32-22 11-18 5-30zM481 1780l29 5 10 10 4 15-14 30-30 18-20 0-10-5-9-13-3-20 12-25zM2638 1870l32-7 30 3 30 7 24 17 10 20 2 30-9 30-17 20-30 9-30-3-30-16-23-20-17-30-3-30 13-20zM2484 1960l26-2 20 17 10 35-6 30-12 20-12 9-40 8-30 55-10 5-20-3-50-39-9-15 1-10 9-10 19-7 30-1 40 7 10-9 3-60 7-17zM354 2030l16-6 11 6 5 20-12 20-14 7-14-7-2-20zM1318 2100l12-8 10 4 15 24 8 40-13 19-20-1-15-18-6-30zM1909 2490l31-5 10 5 11 20-6 30-25 19-30 4-20-13-4-10 8-30zM1200 2710l22 0 13 20-7 20-18 10-30-6-7-14 12-20zM717 2730l13-8 10 0 15 8 8 20-10 20-13 6-22-6-10-20zM1433 2770l23 0-1 10-23 0zM1665 3140l5-7 9 7 0 10-9 4zM1121 3530l39-1 80 17 10 6 10 15 5 23-2 20-13 11-20-8-40-33-71-20-16-10 0-10zM956 3900l14-7 24 7 17 20-1 19-20 9-27-8-12-20zM1058 3960l12-3 20 11 11 22-1 21-10 10-10 1-16-12-13-30zM3501 4160l9-3 0 33-30 0 8-20z"/>
<path fill="#ffd4d4" fill-rule="evenodd" d="M1781 300l32 0 17 9 9 11 10 40-7 40-12 10-10 1-70-25-12 4-18 32-20 11-14-13-1-20 5-15 10-13 30-15 23-37zM2113 320l17-4 10 6 6 18-6 20-20 9-15-9-4-20zM2294 360l16 0 14 10 3 20-7 10-20 1-14-11-4-20zM1826 480l4-3 14 3 8 10-1 10-11 4-10-6zM1822 520l8-2 20 7 20 25 8 20 3 40-17 30-14 12-20 7-60-4-30 12-10 13-10 50-10 14-10 3-50-8-50 20-20-1-19-8-24-30-8-40 11-30 30-18 91-12 16-10 23-25 50-16 50-40zM2636 580l14-4 20 2 20 9 14 13 12 20 4 20-2 20-8 10-20 6-30 1-20-6-20-16-10-25 2-20 8-17zM2744 680l46 5 30 17 19 28 14 50 5 50-48 41-10 2-20-6-50-25-30 3-20-4-15-21 0-30 16-40 39-59zM2936 790l24 1 20 13 8 16 5 50 7 19 60 47 25 34 8 30 2 60 33 60 7 50-10 40-28 30 2 50-3 20-9 20-27 35-30 23-20 6-40-5-30-16-87-83-20-30 9-20 23-30 35-26 56-24 14-17 9-23-2-30-27-60-48-90-26-30-14-40 0-40 38-27zM1187 930l13-7 20-2 30 13 7 16-1 10-16 26-20 13-10-1-20-14-14-24 2-20zM1367 1070l33-4 30 9 80 51 20 8 40 7 50-1 27 10 8 20 0 20-5 15-10 10-20 3-40-15-30 1-30 0-50-18-70-1-130-13-36-12-4-10 10-10 50-23zM2212 1180l28-6 40 18 18 18 2 10-2 10-11 10-37 3-40-14-12-19 4-20zM2352 1280l18-2 10 4 13 18 3 20-5 20-9 10-32 6-30-11-12-15-2-10 8-20zM1950 1360l30-2 60 30 20 15 18 27 20 50 20 70-3 10-15 8-20-1-19-7-81-75-60-22-18-23-4-20 5-20 17-21zM2806 1480l14-5 10 2 10 10 5 13-8 20-17 9-10-1-12-8-5-20zM2910 1510l10-3 20 4 20 15 12 24-2 20-5 10-15 9-10-1-23-18-18-40 1-10zM1273 1620l37-5 30 13 3 12-18 20-35 9-26-9-8-10-1-10 5-10zM1645 1620l15 2 10 8 15 30-1 40-14 23-10 3-10-5-10-14-9-27-2-40 4-10zM2286 1730l14-3 20 16 34 47 16 40 11 50 3 40-7 20-27 18-40-2-20-13-9-13-2-20 15-50-1-10-24-40-3-20 10-40zM473 1790l27 0 12 10 3 10-8 20-27 19-20-2-13-17 3-20 10-13zM2635 1880l25-8 30-1 30 6 25 13 13 20 2 30-9 30-11 13-20 10-30-1-29-12-21-16-18-24-8-30 8-20zM2498 2000l6 0 0 10-4 4zM361 2040l9-2 4 12-4 7-8 3-5-10zM2367 2070l23-8 31 8 15 20-6 27-10 5-10-1-20-11-22-20-4-10zM1322 2120l8-10 12 10 6 20-8 21-10-2-6-9-4-10zM1909 2500l21-8 20 8 5 20-5 15-10 11-30 7-17-13 0-20zM1202 2720l11 0 7 9-4 11-16 5-10-5 1-10zM719 2740l11-9 10-1 12 10-1 20-11 8-10-1-11-7zM1225 3570l15-2 10 7 5 15-5 20-10 0-13-10-9-20z"/>
<path fill="#ffcdcd" fill-rule="evenodd" stroke-width="4.5" stroke="#463c3c" d="M1782 330l8-5 18 5 6 20-6 10-16 0-11-10-3-10zM2115 330l5-4 15 4 3 10-8 17-10 2-10-9-1-10zM2298 370l12 1 7 9-3 10-17 0-6-10zM2640 590l30 0 24 20 4 30-18 20-30 4-20-10-9-14 0-30zM1558 650l22-5 20 2 75 33 15 19 0 15-10 5-30 0-29 21-21 8-20-1-15-7-17-20-8-30 2-20zM2739 720l31-10 20 3 12 7 14 20 7 30-1 30-12 25-20 12-20-2-50-21-20-14-6-10 1-20 10-20zM2925 810l25-3 17 13 5 20-2 61 9 19 61 30 28 30 6 20-1 20-16 60 4 10 32 30 11 30-4 20-7 10-34 20-7 10 28 70-2 30-9 20-19 22-30 15-30 1-30-16-30-35-50-33-8-14 1-20 14-20 16-10 27-3 30 16 20-10 29-23 3-50 17-50-3-10-36-35-20-31-22-44-8-40-10-10-30-15-19-25-3-20 8-30 14-16zM1202 930l28 0 14 10 2 20-16 21-20 4-20-17-5-18 4-10zM1373 1080l27-4 40 14 27 20 18 30-5 15-20 11-40 9-40 0-100-12-13-3-5-10zM2225 1180l25 1 33 19 11 20-4 10-10 6-40 1-31-17-4-20 5-10zM2337 1290l33-7 10 5 9 12 2 30-11 15-10 5-30-1-17-9-8-10 0-20zM1941 1370l19-7 20 4 30 32 30 11 20 20 20 47 6 43-6 12-10 1-20-10-70-66-40 5-20-7-10-12-6-13 0-20 12-20zM2810 1500l10-4 4 4-1 10-13 1zM2915 1530l15-8 20 10 11 18-1 17-10 9-20-7-13-19zM1288 1620l22-1 24 11 4 10-6 10-14 10-28 5-18-5-10-10-1-10 6-10zM1640 1630l10-4 10 3 16 21 6 30-9 30-13 8-10-5-10-16-8-37zM2297 1780l13-9 20 18 12 51 18 19 12 31 1 40-13 16-20 7-30-4-13-9-7-12 1-28 25-40 6-20-25-30-3-20zM470 1800l20-4 10 5 5 9-2 10-13 15-20 5-12-10 2-20zM2653 1880l27-3 30 4 20 6 16 13 9 20-1 30-9 20-15 14-20 4-30-5-23-13-21-20-11-20-3-20 11-20zM2386 2080l14-1 12 11-2 6-10 2-12-8zM1926 2500l14 1 8 9 1 10-9 17-10 6-20-2-7-11 7-20zM727 2750l3-6 10-1 3 7-3 5-10 0z"/>
<path fill="#ffb4b4" fill-rule="evenodd" stroke-width="4.5" stroke="#463c3c" d="M2642 600l18-2 20 14 5 18-3 10-12 12-20 3-21-15-2-20zM1563 660l27-3 20 9 17 14 7 20-7 20-9 10-28 10-20-7-10-10-12-33 5-20zM2756 740l24 0 11 10 6 20-8 30-9 7-20 2-24-9-16-20 1-10 9-14zM2911 830l29-9 10 5 8 14-2 50-14 20-12 4-30-12-12-22 5-30zM1202 940l18-4 11 4 6 10-2 10-10 10-15 2-10-8-4-14zM2972 960l8-6 20 0 30 14 14 12 6 10 3 20-13 27-20 7-22-14-25-40-4-20zM1373 1090l27-4 30 9 21 15 10 20-9 20-12 8-50 10-79-8-20-10 17-20zM2218 1190l22-7 30 12 15 15 2 10-7 10-30 4-30-11-9-13zM3019 1230l21 5 10 9 16 26 3 20-3 20-11 20-15 14-20 8-20 0-23-12-13-20-4-20 3-20 11-20 26-24zM2347 1290l23-3 10 6 8 17-2 20-6 9-20 8-29-7-12-20 11-20zM1954 1370l16 0 13 10 5 30-3 10-17 20-28 14-20-7-13-27 14-30 19-15zM2937 1550l3-3 3 3-3 4zM1274 1630l26-8 20 4 12 14-12 15-20 7-20-3-12-9-2-10zM1640 1640l10-7 10 4 11 13 7 30-8 24-10 6-10-5-8-15-6-30zM475 1810l15-1 0 12-10 7-10-5zM2339 1870l11 3 10 12 7 35-11 20-26 7-20-6-10-10-2-21 22-32zM2646 1890l24-7 30 1 22 6 18 12 9 18 2 20-5 20-16 18-20 5-20-2-40-24-14-17-7-20 5-20zM1924 2510l6-2 10 5 1 7-6 10-5 3-14-3-1-10z"/>
<path fill="#ff9b9b" fill-rule="evenodd" stroke-width="4.5" stroke="#463c3c" d="M2646 610l14-1 10 9 3 12-6 10-17 5-10-5-4-20zM1567 670l23-2 26 22 3 20-5 10-14 10-20-1-19-19-4-20zM2914 840l16-6 10 2 9 14-1 30-8 15-10 7-20-3-14-19 2-20zM1371 1100l19-5 20 1 20 9 13 15-3 20-10 9-43 11-57-6-11-4-3-10 22-20zM2228 1190l22-1 20 11 8 10 1 10-17 10-22-2-16-8-7-10 1-10zM3003 1250l17-6 17 6 13 13 8 17 0 20-8 20-10 11-20 9-20-2-10-7-13-21 2-30 11-19zM2336 1300l24-10 20 9 5 21-3 10-11 10-21 3-22-13-4-10 3-10zM1940 1380l20-6 14 6 5 10-2 20-22 30-15 8-10-1-17-17-1-10 6-20zM1282 1630l18-4 19 4 8 10-7 11-20 7-20-4-6-4-2-10zM1642 1650l8-9 10 3 10 16 1 30-9 10-12-4-3-6-6-20zM2324 1890l16-5 9 5 9 20-4 20-19 10-15-2-10-8-4-10 4-15zM2664 1890l46 2 19 8 10 10 7 20-2 20-12 20-12 6-20 1-20-6-20-13-17-18-7-20 1-10 7-10z"/>
<path fill="#ff8080" fill-rule="evenodd" stroke-width="4.5" stroke="#463c3c" d="M1574 680l16-1 13 11 3 20-10 10-16-1-9-9-4-20zM2917 850l13-3 10 13-3 20-7 10-10 2-14-12 1-20zM1370 1110l30-6 18 6 9 10 0 10-7 10-30 11-34-1-18-10 5-10zM2225 1200l15-7 20 5 11 12 0 10-21 5-18-5-8-10zM3010 1260l20 0 17 20 0 20-7 15-10 9-20 3-10-5-8-12 0-30zM2344 1300l16-6 15 6 6 10-5 20-16 9-25-9-5-10 3-10zM1952 1380l9 0 9 8 2 12-12 27-20 15-10 0-10-8-3-24 13-19zM1296 1630l14 1 11 9-11 12-20 2-9-4-3-10zM1646 1660l4-9 10 3 4 6 2 20-4 10-12-5zM2656 1900l34-6 20 3 20 11 8 12 3 20-11 24-10 6-20 2-20-7-20-14-10-12-6-19 2-10zM2320 1910l10-9 10 0 7 9 0 10-7 10-10 1-10-7z"/>
<path fill="#ff6464" fill-rule="evenodd" stroke-width="4.5" stroke="#463c3c" d="M2919 870l4 0-3 3zM1378 1120l25 0 2 10-5 4-20 6-10-4-4-6zM2236 1200l16 0 11 10-3 6-10 4-10-3-8-7zM3008 1280l12-6 10 4 5 12-5 15-10 6-10-2-6-9zM2354 1300l16 1 6 9-5 20-11 5-18-5-6-10 3-10zM1938 1390l12-5 13 5 1 20-14 20-10 6-10 0-10-13 1-13zM1286 1640l14-5 13 5-3 5-19 5zM2676 1900l34 3 20 14 6 23-6 15-10 9-30-1-31-23-7-20 4-10z"/>
<path fill="#ff5050" fill-rule="evenodd" stroke-width="4.5" stroke="#463c3c" d="M2347 1310l13-6 10 5 1 11-11 10-10-2-7-8zM1932 1400l18-9 9 9-7 20-11 10-11 0-6-10zM2669 1910l31-4 20 9 9 15-4 20-15 10-31-10-17-20-1-10z"/>
<path fill="#ff3232" fill-rule="evenodd" stroke-width="4.5" stroke="#463c3c" d="M2355 1320l5-6 2 6zM1939 1400l12 0 0 10-7 10-4 3-10-3 0-10zM2674 1920l16-7 20 4 11 13-1 13-10 8-20-3-17-18z"/>
<path fill="#ff1919" fill-rule="evenodd" stroke-width="4.5" stroke="#463c3c" d="M2690 1930l10-3 5 3-5 7z"/>
</g>

</g>
<path d="M105.0 363.8C105.4 362.3 106.4 357.4 107.4 354.6C108.4 351.8 108.9 350.7 111.1 347.1C113.3 343.5 116.7 337.7 120.7 333.0C124.7 328.3 130.2 322.4 134.9 318.8C139.6 315.2 146.7 312.5 149.0 311.2M149.0 311.2C149.1 311.9 149.8 314.0 149.6 315.6C149.4 317.2 149.3 317.9 148.0 320.8C146.7 323.7 144.4 328.9 141.9 333.0C139.4 337.1 136.5 341.0 132.8 345.1C129.1 349.2 123.3 354.9 119.7 357.8C116.1 360.7 113.9 361.4 111.4 362.4C109.0 363.4 106.1 363.6 105.0 363.8" fill="none" stroke="#1e1e1e" stroke-width="0.85" stroke-linejoin="round"/>
<path d="M182.2 18.6C183.3 19.8 186.9 22.8 188.4 25.8C189.9 28.9 189.6 33.1 191.3 36.8C193.0 40.4 196.8 44.1 198.6 47.7C200.4 51.3 202.2 54.4 202.2 58.6C202.2 62.9 200.1 69.4 198.6 73.2C197.1 77.0 196.2 80.1 193.1 81.6C190.1 83.1 185.0 82.5 180.4 82.3C175.8 82.1 170.7 80.5 165.8 80.5C161.0 80.5 155.8 80.8 151.3 82.3C146.7 83.8 141.6 86.8 138.5 89.6C135.5 92.3 132.8 95.6 133.1 98.7C133.4 101.7 136.7 105.7 140.3 107.8C144.0 109.9 149.7 110.7 154.9 111.4C160.1 112.2 166.4 112.3 171.3 112.2C176.2 112.0 180.4 110.5 184.0 110.7C187.7 110.9 190.1 111.9 193.1 113.2C196.2 114.6 198.9 116.6 202.2 118.7C205.6 120.8 208.9 122.1 213.2 126.0C217.4 129.9 223.5 136.6 227.7 142.4C232.0 148.1 235.0 154.5 238.7 160.6C242.3 166.7 246.3 172.7 249.6 178.8C252.9 184.9 256.9 192.2 258.7 197.0C260.5 201.9 261.4 204.6 260.5 207.9C259.6 211.3 255.4 216.1 253.2 217.0C251.1 217.9 250.2 216.1 247.8 213.4C245.3 210.7 242.0 204.6 238.7 200.6C235.3 196.7 231.4 193.4 227.7 189.7C224.1 186.1 220.5 182.4 216.8 178.8C213.2 175.2 209.2 171.5 205.9 167.9C202.6 164.2 199.5 160.9 196.8 156.9C194.1 153.0 191.6 148.1 189.5 144.2C187.4 140.3 185.9 136.0 184.0 133.3C182.2 130.5 181.6 129.0 178.6 127.8C175.5 126.6 170.4 125.7 165.8 126.0C161.3 126.3 156.1 128.4 151.3 129.6C146.4 130.9 141.6 133.0 136.7 133.3C131.8 133.6 125.8 133.6 122.1 131.5C118.5 129.3 116.4 124.2 114.8 120.5C113.3 116.9 112.9 113.4 113.0 109.6C113.2 105.8 115.2 99.9 115.6 98.0" fill="none" stroke="#2222ee" stroke-width="1" stroke-dasharray="5 2.2"/>
<path d="M253.2 55.0C253.8 56.5 254.4 61.1 256.9 64.1C259.3 67.1 264.8 69.9 267.8 73.2C270.8 76.5 273.6 80.2 275.1 84.1C276.6 88.1 277.5 92.9 276.9 96.9C276.3 100.8 273.9 104.8 271.4 107.8C269.0 110.8 264.3 112.3 262.3 115.1C260.4 117.8 259.2 121.4 259.8 124.2C260.4 126.9 264.0 128.7 266.0 131.5C267.9 134.2 271.1 137.8 271.4 140.6C271.7 143.3 269.9 145.4 267.8 147.8C265.7 150.3 260.5 151.8 258.7 155.1C256.9 158.5 256.6 163.3 256.9 167.9C257.2 172.4 259.6 177.6 260.5 182.4C261.4 187.3 262.6 191.8 262.3 197.0C262.0 202.2 259.3 210.7 258.7 213.4" fill="none" stroke="#2222ee" stroke-width="1" stroke-dasharray="5 2.2"/>
<path d="M295.1 82.3C296.3 84.4 300.6 89.9 302.4 95.0C304.2 100.2 305.1 107.2 306.0 113.2C306.9 119.3 308.2 125.4 307.9 131.5C307.6 137.5 306.0 144.2 304.2 149.7C302.4 155.1 299.4 160.0 296.9 164.2C294.5 168.5 292.0 172.0 289.6 175.2C287.3 178.3 284.2 181.8 283.1 183.2" fill="none" stroke="#2222ee" stroke-width="1" stroke-dasharray="5 2.2"/>
<path d="M170.5 155.0C168.7 155.6 162.3 156.2 159.6 158.7C156.9 161.1 155.9 165.9 154.1 169.6C152.3 173.2 151.1 177.2 148.7 180.5C146.2 183.8 142.9 186.9 139.6 189.6C136.2 192.3 131.4 193.9 128.6 196.9C125.9 199.9 123.5 203.9 123.2 207.8C122.9 211.8 124.4 217.8 126.8 220.6C129.2 223.3 134.4 223.0 137.7 224.2C141.1 225.4 144.5 225.7 146.8 227.8C149.2 230.0 150.7 235.2 151.6 236.9C152.5 238.7 153.1 237.1 152.3 238.6C151.5 240.1 149.0 244.1 146.8 245.9C144.7 247.7 141.2 247.1 139.6 249.5C137.9 252.0 137.9 256.2 137.0 260.5C136.1 264.7 134.9 269.6 134.1 275.0C133.3 280.5 132.9 287.8 132.3 293.2C131.7 298.7 131.1 303.0 130.5 307.8C129.9 312.7 128.9 318.1 128.6 322.4C128.3 326.6 129.5 330.3 128.6 333.3C127.7 336.3 125.9 338.8 123.2 340.6C120.4 342.4 115.9 343.3 112.2 344.2C108.6 345.1 104.4 344.8 101.3 346.1C98.3 347.3 95.4 348.8 94.0 351.5C92.7 354.2 93.3 358.8 93.3 362.4C93.3 366.1 94.2 369.7 94.0 373.4C93.9 377.0 93.7 380.8 92.2 384.3C90.7 387.8 86.2 392.8 84.9 394.5" fill="none" stroke="#2222ee" stroke-width="1" stroke-dasharray="5 2.2"/>
<path d="M170.5 155.0C171.7 155.3 176.4 154.7 177.8 156.8C179.2 159.0 179.5 163.8 178.9 167.8C178.3 171.7 175.6 176.3 174.2 180.5C172.8 184.8 170.8 188.7 170.5 193.2C170.2 197.8 170.8 203.3 172.3 207.8C173.9 212.4 177.8 216.3 179.6 220.6C181.4 224.8 182.7 230.9 183.3 233.3C183.9 235.7 184.2 233.2 183.3 235.0C182.4 236.8 179.9 241.4 177.8 244.1C175.7 246.8 172.6 248.6 170.5 251.4C168.4 254.1 166.9 257.1 165.1 260.5C163.2 263.8 161.1 267.8 159.6 271.4C158.1 275.0 156.9 278.7 155.9 282.3C155.0 286.0 153.5 290.2 154.1 293.2C154.7 296.3 157.2 298.7 159.6 300.5C162.0 302.4 166.6 302.5 168.7 304.2C170.8 305.8 171.7 309.3 172.3 310.4" fill="none" stroke="#2222ee" stroke-width="1" stroke-dasharray="5 2.2"/>
<path d="M84.9 394.5L101.3 399.6L172.7 310.4" fill="none" stroke="#2222ee" stroke-width="1"/>
<path d="M116.6 57.6L289.4 196.4" stroke="#f50a0a" stroke-width="1.9" stroke-dasharray="5.5 1.6 9.5 1.6" fill="none"/>
<text transform="translate(9.3 25.8) scale(1.05 1)">(d) F</text>
<text transform="translate(113.2 300.2) scale(1.05 1)">K1</text>
<text transform="translate(105 329.7) scale(1.05 1)" font-style="italic">πγ</text>
<path d="M156.7 373.3V377.5H267V373.3" fill="none" stroke="#000" stroke-width="1.1"/><text transform="translate(153.8 370.5) scale(1.05 1)">0</text><text transform="translate(255.9 370.5) scale(1.05 1)">1.2 km</text>
<text transform="translate(200.4 157.3) scale(1.05 1)" fill="#2222ee">FU<tspan font-size="10" dy="3">3</tspan></text>
<text transform="translate(277.6 130) scale(1.05 1)" fill="#2222ee">FU<tspan font-size="10" dy="3">1</tspan></text>
<text transform="translate(152.3 244) scale(1.05 1)" fill="#2222ee">FU<tspan font-size="10" dy="3">2</tspan></text>
<rect x="4.7" y="4.3" width="328.6" height="395.9" fill="none" stroke="#000" stroke-width="1.1"/>
</g>
<rect x="32.00" y="406.30" width="14.58" height="22.10" fill="#42fffe"/><rect x="46.53" y="406.30" width="14.58" height="22.10" fill="#64fffe"/><rect x="61.06" y="406.30" width="14.58" height="22.10" fill="#80fffe"/><rect x="75.59" y="406.30" width="14.58" height="22.10" fill="#9afffe"/><rect x="90.12" y="406.30" width="14.58" height="22.10" fill="#b2fffe"/><rect x="104.65" y="406.30" width="14.58" height="22.10" fill="#c6fffe"/><rect x="119.18" y="406.30" width="14.58" height="22.10" fill="#d7fffe"/><rect x="133.71" y="406.30" width="14.58" height="22.10" fill="#e6fffe"/><rect x="148.24" y="406.30" width="14.58" height="22.10" fill="#ffe3e3"/><rect x="162.77" y="406.30" width="14.58" height="22.10" fill="#ffe2e2"/><rect x="177.30" y="406.30" width="14.58" height="22.10" fill="#ffdede"/><rect x="191.83" y="406.30" width="14.58" height="22.10" fill="#ffd6d6"/><rect x="206.36" y="406.30" width="14.58" height="22.10" fill="#ffcccc"/><rect x="220.89" y="406.30" width="14.58" height="22.10" fill="#ffc0c0"/><rect x="235.42" y="406.30" width="14.58" height="22.10" fill="#ffb0b0"/><rect x="249.95" y="406.30" width="14.58" height="22.10" fill="#ff9b9b"/><rect x="264.48" y="406.30" width="14.58" height="22.10" fill="#ff8282"/><rect x="279.01" y="406.30" width="14.58" height="22.10" fill="#ff6969"/><rect x="293.54" y="406.30" width="14.58" height="22.10" fill="#ff4e4e"/><path d="M32.00 406.30H308.07V428.40H32.00ZM46.53 406.30V428.40M61.06 406.30V428.40M75.59 406.30V428.40M90.12 406.30V428.40M104.65 406.30V428.40M119.18 406.30V428.40M133.71 406.30V428.40M148.24 406.30V428.40M162.77 406.30V428.40M177.30 406.30V428.40M191.83 406.30V428.40M206.36 406.30V428.40M220.89 406.30V428.40M235.42 406.30V428.40M249.95 406.30V428.40M264.48 406.30V428.40M279.01 406.30V428.40M293.54 406.30V428.40" fill="none" stroke="#6a6a6a" stroke-width="0.75"/>
<rect x="367.40" y="407.20" width="14.60" height="22.40" fill="#42fffe"/><rect x="381.95" y="407.20" width="14.60" height="22.40" fill="#64fffe"/><rect x="396.50" y="407.20" width="14.60" height="22.40" fill="#80fffe"/><rect x="411.05" y="407.20" width="14.60" height="22.40" fill="#9afffe"/><rect x="425.60" y="407.20" width="14.60" height="22.40" fill="#b2fffe"/><rect x="440.15" y="407.20" width="14.60" height="22.40" fill="#c6fffe"/><rect x="454.70" y="407.20" width="14.60" height="22.40" fill="#d7fffe"/><rect x="469.25" y="407.20" width="14.60" height="22.40" fill="#e6fffe"/><rect x="483.80" y="407.20" width="14.60" height="22.40" fill="#ffe4e4"/><rect x="498.35" y="407.20" width="14.60" height="22.40" fill="#ffe3e3"/><rect x="512.90" y="407.20" width="14.60" height="22.40" fill="#ffdede"/><rect x="527.45" y="407.20" width="14.60" height="22.40" fill="#ffd5d5"/><rect x="542.00" y="407.20" width="14.60" height="22.40" fill="#ffcaca"/><rect x="556.55" y="407.20" width="14.60" height="22.40" fill="#ffbdbd"/><rect x="571.10" y="407.20" width="14.60" height="22.40" fill="#ffadad"/><rect x="585.65" y="407.20" width="14.60" height="22.40" fill="#ff9797"/><rect x="600.20" y="407.20" width="14.60" height="22.40" fill="#ff7f7f"/><rect x="614.75" y="407.20" width="14.60" height="22.40" fill="#ff6666"/><rect x="629.30" y="407.20" width="14.60" height="22.40" fill="#ff5050"/><rect x="643.85" y="407.20" width="14.60" height="22.40" fill="#ff3838"/><rect x="658.40" y="407.20" width="14.60" height="22.40" fill="#ff1a1a"/><path d="M367.40 407.20H672.95V429.60H367.40ZM381.95 407.20V429.60M396.50 407.20V429.60M411.05 407.20V429.60M425.60 407.20V429.60M440.15 407.20V429.60M454.70 407.20V429.60M469.25 407.20V429.60M483.80 407.20V429.60M498.35 407.20V429.60M512.90 407.20V429.60M527.45 407.20V429.60M542.00 407.20V429.60M556.55 407.20V429.60M571.10 407.20V429.60M585.65 407.20V429.60M600.20 407.20V429.60M614.75 407.20V429.60M629.30 407.20V429.60M643.85 407.20V429.60M658.40 407.20V429.60" fill="none" stroke="#6a6a6a" stroke-width="0.75"/>
<rect x="6.50" y="884.70" width="14.60" height="22.10" fill="#00ffff"/><rect x="21.05" y="884.70" width="14.60" height="22.10" fill="#1affff"/><rect x="35.60" y="884.70" width="14.60" height="22.10" fill="#34ffff"/><rect x="50.15" y="884.70" width="14.60" height="22.10" fill="#4dffff"/><rect x="64.70" y="884.70" width="14.60" height="22.10" fill="#67ffff"/><rect x="79.25" y="884.70" width="14.60" height="22.10" fill="#81ffff"/><rect x="93.80" y="884.70" width="14.60" height="22.10" fill="#9bffff"/><rect x="108.35" y="884.70" width="14.60" height="22.10" fill="#b4ffff"/><rect x="122.90" y="884.70" width="14.60" height="22.10" fill="#ceffff"/><rect x="137.45" y="884.70" width="14.60" height="22.10" fill="#e8ffff"/><rect x="152.00" y="884.70" width="14.60" height="22.10" fill="#ffe4e4"/><rect x="166.55" y="884.70" width="14.60" height="22.10" fill="#ffe2e2"/><rect x="181.10" y="884.70" width="14.60" height="22.10" fill="#ffdede"/><rect x="195.65" y="884.70" width="14.60" height="22.10" fill="#ffd8d8"/><rect x="210.20" y="884.70" width="14.60" height="22.10" fill="#ffcece"/><rect x="224.75" y="884.70" width="14.60" height="22.10" fill="#ffb4b4"/><rect x="239.30" y="884.70" width="14.60" height="22.10" fill="#ff9b9b"/><rect x="253.85" y="884.70" width="14.60" height="22.10" fill="#ff8282"/><rect x="268.40" y="884.70" width="14.60" height="22.10" fill="#ff6969"/><rect x="282.95" y="884.70" width="14.60" height="22.10" fill="#ff5050"/><rect x="297.50" y="884.70" width="14.60" height="22.10" fill="#ff3737"/><rect x="312.05" y="884.70" width="14.60" height="22.10" fill="#ff1c1c"/><rect x="326.60" y="884.70" width="14.60" height="22.10" fill="#ff0000"/><path d="M6.50 884.70H341.15V906.80H6.50ZM21.05 884.70V906.80M35.60 884.70V906.80M50.15 884.70V906.80M64.70 884.70V906.80M79.25 884.70V906.80M93.80 884.70V906.80M108.35 884.70V906.80M122.90 884.70V906.80M137.45 884.70V906.80M152.00 884.70V906.80M166.55 884.70V906.80M181.10 884.70V906.80M195.65 884.70V906.80M210.20 884.70V906.80M224.75 884.70V906.80M239.30 884.70V906.80M253.85 884.70V906.80M268.40 884.70V906.80M282.95 884.70V906.80M297.50 884.70V906.80M312.05 884.70V906.80M326.60 884.70V906.80" fill="none" stroke="#6a6a6a" stroke-width="0.75"/>
<rect x="376.60" y="884.40" width="14.60" height="21.50" fill="#7dfffe"/><rect x="391.15" y="884.40" width="14.60" height="21.50" fill="#98fffe"/><rect x="405.70" y="884.40" width="14.60" height="21.50" fill="#b2fffe"/><rect x="420.25" y="884.40" width="14.60" height="21.50" fill="#cafffe"/><rect x="434.80" y="884.40" width="14.60" height="21.50" fill="#dafffe"/><rect x="449.35" y="884.40" width="14.60" height="21.50" fill="#e7fffe"/><rect x="463.90" y="884.40" width="14.60" height="21.50" fill="#ffe4e4"/><rect x="478.45" y="884.40" width="14.60" height="21.50" fill="#ffe2e2"/><rect x="493.00" y="884.40" width="14.60" height="21.50" fill="#ffdcdc"/><rect x="507.55" y="884.40" width="14.60" height="21.50" fill="#ffd4d4"/><rect x="522.10" y="884.40" width="14.60" height="21.50" fill="#ffcdcd"/><rect x="536.65" y="884.40" width="14.60" height="21.50" fill="#ffb4b4"/><rect x="551.20" y="884.40" width="14.60" height="21.50" fill="#ff9b9b"/><rect x="565.75" y="884.40" width="14.60" height="21.50" fill="#ff8080"/><rect x="580.30" y="884.40" width="14.60" height="21.50" fill="#ff6464"/><rect x="594.85" y="884.40" width="14.60" height="21.50" fill="#ff5050"/><rect x="609.40" y="884.40" width="14.60" height="21.50" fill="#ff3232"/><rect x="623.95" y="884.40" width="14.60" height="21.50" fill="#ff1919"/><rect x="638.50" y="884.40" width="14.60" height="21.50" fill="#ff0000"/><path d="M376.60 884.40H653.05V905.90H376.60ZM391.15 884.40V905.90M405.70 884.40V905.90M420.25 884.40V905.90M434.80 884.40V905.90M449.35 884.40V905.90M463.90 884.40V905.90M478.45 884.40V905.90M493.00 884.40V905.90M507.55 884.40V905.90M522.10 884.40V905.90M536.65 884.40V905.90M551.20 884.40V905.90M565.75 884.40V905.90M580.30 884.40V905.90M594.85 884.40V905.90M609.40 884.40V905.90M623.95 884.40V905.90M638.50 884.40V905.90" fill="none" stroke="#6a6a6a" stroke-width="0.75"/>
<text transform="translate(47.3 444.6) scale(1.05 1)" text-anchor="middle">1</text><text transform="translate(73.6 444.6) scale(1.05 1)" text-anchor="middle">3</text><text transform="translate(104.4 444.6) scale(1.05 1)" text-anchor="middle">5</text><text transform="translate(126.5 444.6) scale(1.05 1)" text-anchor="middle">8</text><text transform="translate(148.6 444.6) scale(1.05 1)" text-anchor="middle">10</text><text transform="translate(177.8 444.6) scale(1.05 1)" text-anchor="middle">16</text><text transform="translate(207.6 444.6) scale(1.05 1)" text-anchor="middle">24</text><text transform="translate(237.6 444.6) scale(1.05 1)" text-anchor="middle">32</text><text transform="translate(265 444.6) scale(1.05 1)" text-anchor="middle">40</text><text transform="translate(294.9 444.6) scale(1.05 1)" text-anchor="middle">80</text>
<text transform="translate(382.4 444.4) scale(1.05 1)" text-anchor="middle">1</text><text transform="translate(412.5 444.4) scale(1.05 1)" text-anchor="middle">3</text><text transform="translate(442 444.4) scale(1.05 1)" text-anchor="middle">5</text><text transform="translate(469.8 444.4) scale(1.05 1)" text-anchor="middle">8</text><text transform="translate(499.9 444.4) scale(1.05 1)" text-anchor="middle">12</text><text transform="translate(529 444.4) scale(1.05 1)" text-anchor="middle">20</text><text transform="translate(557.2 444.4) scale(1.05 1)" text-anchor="middle">28</text><text transform="translate(586.3 444.4) scale(1.05 1)" text-anchor="middle">36</text><text transform="translate(615.7 444.4) scale(1.05 1)" text-anchor="middle">60</text><text transform="translate(651 444.4) scale(1.05 1)" text-anchor="middle">100</text>
<text transform="translate(22.1 923.2) scale(1.05 1)" text-anchor="middle">1</text><text transform="translate(51.5 923.2) scale(1.05 1)" text-anchor="middle">2</text><text transform="translate(81.2 923.2) scale(1.05 1)" text-anchor="middle">3</text><text transform="translate(106.7 923.2) scale(1.05 1)" text-anchor="middle">4</text><text transform="translate(136.6 923.2) scale(1.05 1)" text-anchor="middle">5</text><text transform="translate(166.3 923.2) scale(1.05 1)" text-anchor="middle">6</text><text transform="translate(196.5 923.2) scale(1.05 1)" text-anchor="middle">7</text><text transform="translate(226.4 923.2) scale(1.05 1)" text-anchor="middle">8</text><text transform="translate(254.7 923.2) scale(1.05 1)" text-anchor="middle">9</text><text transform="translate(284.6 923.2) scale(1.05 1)" text-anchor="middle">10</text><text transform="translate(314.5 923.2) scale(1.05 1)" text-anchor="middle">11</text><text transform="translate(343 923.2) scale(1.05 1)" text-anchor="middle">11.5</text>
<text transform="translate(389.7 922.5) scale(1.05 1)" text-anchor="middle">0.1</text><text transform="translate(419.8 922.5) scale(1.05 1)" text-anchor="middle">0.3</text><text transform="translate(449.5 922.5) scale(1.05 1)" text-anchor="middle">0.5</text><text transform="translate(479.6 922.5) scale(1.05 1)" text-anchor="middle">0.7</text><text transform="translate(505.2 922.5) scale(1.05 1)" text-anchor="middle">0.9</text><text transform="translate(535 922.5) scale(1.05 1)" text-anchor="middle">1.1</text><text transform="translate(565.5 922.5) scale(1.05 1)" text-anchor="middle">1.3</text><text transform="translate(595.1 922.5) scale(1.05 1)" text-anchor="middle">1.5</text><text transform="translate(623.6 922.5) scale(1.05 1)" text-anchor="middle">1.7</text><text transform="translate(653 922.5) scale(1.05 1)" text-anchor="middle">1.9</text>
<text transform="translate(125.2 463.6) scale(1.05 1)"><tspan font-style="italic">ω</tspan>(U)/(10<tspan font-size="8.5" dy="-5">-6</tspan><tspan dy="5">g·g</tspan><tspan font-size="8.5" dy="-5">-1</tspan><tspan dy="5">)</tspan></text>
<text transform="translate(472.6 463.6) scale(1.05 1)"><tspan font-style="italic">ω</tspan>(Gu)/(10<tspan font-size="8.5" dy="-5">-6</tspan><tspan dy="5">g·g</tspan><tspan font-size="8.5" dy="-5">-1</tspan><tspan dy="5">)</tspan></text>
<text transform="translate(136.6 940.6) scale(1.05 1)"><tspan font-style="italic">ω</tspan>(U)/<tspan font-style="italic">ω</tspan>(Th)</text>
<text transform="translate(467.3 942.3) scale(1.05 1)">交代蚀变值</text>
<rect x="149.1" y="959" width="55.8" height="31.3" fill="#fff" stroke="#333" stroke-width="0.9"/>
<text transform="translate(179.1 980) scale(1.05 1)" text-anchor="middle">K1</text>
<text transform="translate(208.5 980) scale(1.05 1)">1</text>
<rect x="257.3" y="959" width="55.8" height="31.3" fill="#fff" stroke="#333" stroke-width="0.9"/>
<path d="M259.2 988.3Q282.5 980.4 298.3 961.5Q275.4 970.0 259.2 988.3Z" fill="none" stroke="#c8c8c8" stroke-width="0.8"/>
<text transform="translate(286.8 983.4) scale(1.05 1)" font-style="italic">πγ</text>
<text transform="translate(314.7 980) scale(1.05 1)">2</text>
<rect x="360.1" y="959" width="55.5" height="31.3" fill="#fff" stroke="#333" stroke-width="0.9"/>
<path d="M363.6 986.8L410.4 960.8" stroke="#f50a0a" stroke-width="1.8" stroke-dasharray="8 2" fill="none"/>
<text transform="translate(416.8 980) scale(1.05 1)">3</text>
<rect x="456.2" y="959" width="55.5" height="31.3" fill="#fff" stroke="#333" stroke-width="0.9"/>
<path d="M472 983C464 978 462 968 470 964.5C480 960.5 496 961.5 501 968C504 973 501 980 497 985" fill="none" stroke="#2222ee" stroke-width="1" stroke-dasharray="5 2.2"/>
<text transform="translate(472.8 985) scale(1.05 1)" fill="#2222ee">FU<tspan font-size="10" dy="3.5">i</tspan></text>
<text transform="translate(515 980) scale(1.05 1)">4</text>
</svg></body></html>
